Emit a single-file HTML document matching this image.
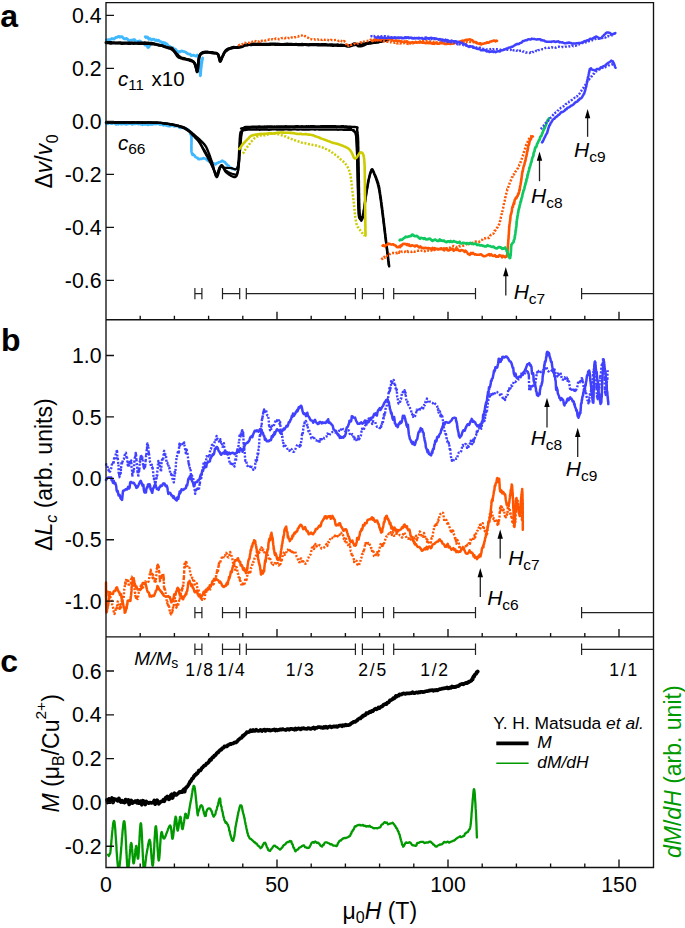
<!DOCTYPE html>
<html><head><meta charset="utf-8"><style>
html,body{margin:0;padding:0;background:#fff;}
svg{display:block;}
text{font-family:"Liberation Sans",sans-serif;}
</style></head><body>
<svg width="685" height="928" viewBox="0 0 685 928">
<defs><clipPath id="clipc"><rect x="106" y="637" width="548" height="230.5"/></clipPath></defs>
<path d="M106.5,40.0 L107.2,40.6 L108.2,39.6 L109.4,39.9 L110.7,39.2 L112.0,38.5 L112.9,38.9 L113.8,39.0 L114.9,38.3 L115.9,37.4 L117.0,37.4 L118.0,36.5 L118.9,36.3 L119.8,37.2 L121.0,36.6 L122.1,36.6 L123.0,37.9 L124.0,38.7 L125.0,39.0 L126.0,38.4 L126.9,38.7 L127.9,39.6 L129.0,40.6 L130.3,40.4 L131.3,40.1 L132.3,40.2 L133.5,39.6 L134.7,39.7 L135.9,41.3 L137.0,42.0 L138.1,41.3 L139.0,41.0 L140.2,41.1 L141.3,42.0 L142.2,43.1 L143.1,43.3 L144.0,43.5 L145.0,45.1 L146.1,44.5 L147.1,46.0 L148.0,47.6 L148.7,47.2 L149.4,46.1 L149.8,44.4 L150.0,44.2" fill="none" stroke="#40b8ff" stroke-width="2.8" stroke-linejoin="round" stroke-linecap="round" />
<path d="M145.2,36.6 L145.8,37.6 L146.7,36.9 L147.7,37.3 L148.8,39.2 L150.0,38.5 L151.0,39.3 L152.0,40.0 L153.1,39.1 L154.3,39.4 L155.4,40.6 L156.6,40.0 L157.6,40.8 L158.6,40.2 L159.7,41.4 L160.8,41.7 L161.8,43.0 L162.9,42.2 L164.0,44.0 L164.9,42.6 L165.7,44.2 L166.6,43.6 L167.5,44.7 L168.4,46.5 L169.3,46.2 L170.2,46.9 L171.0,48.5 L171.9,48.1 L172.9,47.8 L173.8,50.0 L174.8,49.0 L175.8,49.5 L176.7,50.9 L177.6,52.0 L178.5,52.4 L179.2,51.4 L180.4,51.8 L181.3,51.0 L182.2,51.1 L183.0,51.4 L184.1,51.6 L185.2,52.1 L186.5,52.8 L187.3,53.6 L188.3,53.8 L189.2,54.1 L190.3,54.2 L191.3,55.7 L192.3,55.5 L193.5,55.1 L194.9,55.7 L196.2,56.2 L197.3,55.1 L198.2,56.2 L198.5,56.7 L198.8,57.7 L198.9,58.0 L199.1,60.4 L199.2,60.3 L199.2,62.2 L199.3,62.9 L199.3,63.0 L199.4,64.9 L199.5,65.2 L199.6,66.3 L199.8,67.9 L199.9,69.4 L200.0,71.0 L200.1,72.9 L200.2,74.0 L200.3,75.4 L200.4,75.7 L200.5,75.3 L200.6,73.2 L200.7,72.6 L200.8,70.9 L200.9,69.9 L201.0,68.5 L201.2,67.7 L201.3,66.6 L201.5,64.4 L201.7,63.5 L201.9,62.5 L202.1,60.7 L202.3,59.5 L202.5,59.3 L202.6,58.0" fill="none" stroke="#40b8ff" stroke-width="2.8" stroke-linejoin="round" stroke-linecap="round" />
<path d="M106.0,42.4 L106.5,42.4 L107.2,42.5 L107.9,42.6 L108.7,42.5 L109.5,42.4 L110.5,42.4 L111.4,42.5 L112.4,42.6 L113.5,42.6 L114.6,42.7 L115.7,42.9 L116.9,42.8 L118.0,42.8 L119.2,42.7 L120.4,42.7 L121.6,42.8 L122.7,42.9 L123.9,43.0 L125.0,42.9 L126.1,42.8 L127.1,42.9 L128.1,42.9 L129.1,42.9 L130.0,42.8 L131.2,42.8 L132.3,42.9 L133.4,43.0 L134.5,43.0 L135.6,43.1 L136.7,43.1 L137.8,43.0 L138.8,43.0 L139.8,42.9 L140.8,43.0 L141.8,43.0 L142.8,43.0 L143.7,42.8 L144.6,42.6 L145.5,42.9 L146.3,42.9 L147.2,43.1 L148.0,43.0 L149.4,43.1 L150.7,43.1 L151.8,43.3 L152.9,43.5 L154.0,43.7 L155.0,44.0 L155.9,44.2 L156.9,44.5 L157.8,44.7 L158.8,45.0 L159.9,45.2 L160.9,45.3 L162.0,45.6 L163.0,46.0 L163.9,46.5 L164.9,46.8 L165.8,47.1 L166.7,47.3 L167.5,47.7 L168.7,48.1 L169.7,48.5 L170.7,48.7 L171.7,49.2 L172.5,49.9 L173.4,50.6 L174.1,51.3 L174.7,52.0 L175.3,53.0 L175.9,53.8 L176.5,54.8 L177.1,55.8 L177.7,56.4 L178.8,57.3 L179.8,57.6 L180.9,58.2 L182.1,58.5 L183.2,58.9 L184.4,59.0 L185.6,59.1 L186.8,59.3 L188.0,59.4 L189.0,59.6 L190.1,59.9 L191.1,60.3 L192.1,60.8 L193.0,61.4 L193.8,62.1 L194.5,63.0 L195.0,64.0 L195.4,65.1 L195.7,66.2 L196.0,67.4 L196.4,69.0 L196.7,70.8 L197.1,71.9 L197.4,71.7 L197.5,71.3 L197.6,70.6 L197.7,69.8 L197.8,68.8 L197.9,67.7 L198.0,66.5 L198.2,65.2 L198.3,63.9 L198.4,62.6 L198.5,61.4 L198.6,60.4 L198.8,59.5 L198.9,58.7 L199.3,56.9 L199.6,55.7 L200.0,54.8 L200.5,54.0 L201.1,53.4 L202.0,52.8 L203.0,52.3 L204.1,52.1 L205.5,51.9 L206.4,52.0 L207.4,52.0 L208.5,52.2 L209.7,52.3 L210.8,52.4 L211.8,52.4 L212.8,52.5 L214.0,52.9 L215.1,53.1 L216.2,53.2 L217.1,53.5 L217.9,54.2 L218.4,55.0 L218.7,56.1 L219.0,57.4 L219.3,58.8 L219.6,60.0 L219.8,61.0 L220.1,61.5 L220.6,61.2 L221.1,60.1 L221.7,58.6 L222.3,57.1 L222.7,56.2 L223.2,55.2 L223.6,54.2 L224.1,53.1 L224.7,52.0 L225.3,51.2 L225.9,50.4 L226.7,49.7 L227.6,49.0 L228.5,48.7 L229.5,48.3 L230.6,48.1 L231.8,47.6 L232.8,47.4 L233.8,47.2 L235.0,47.3 L236.2,47.3 L237.3,47.2 L238.5,47.0 L239.5,46.9 L240.5,46.7 L241.6,46.6 L242.4,46.3 L243.1,45.9 L244.0,45.3 L245.0,44.9 L246.4,44.8 L247.1,44.8 L247.8,44.6 L248.5,44.4 L249.2,44.2 L249.9,44.2 L250.6,44.2 L251.5,44.1 L252.5,44.0 L253.6,44.0 L254.9,44.0 L256.4,44.1 L258.1,44.0 L260.0,43.9 L260.7,43.9 L261.4,44.1 L262.2,44.3 L262.9,44.2 L263.7,44.2 L264.6,44.2 L265.4,44.1 L266.3,44.1 L267.2,44.1 L268.2,44.2 L269.1,44.1 L270.1,44.0 L271.1,43.9 L272.1,43.9 L273.1,43.8 L274.2,43.9 L275.2,43.9 L276.3,44.1 L277.3,44.0 L278.4,44.1 L279.5,44.1 L280.6,44.3 L281.7,44.3 L282.8,44.4 L283.9,44.3 L285.0,44.1 L286.1,44.1 L287.3,44.0 L288.4,44.1 L289.5,44.1 L290.6,44.2 L291.7,44.2 L292.7,44.3 L293.8,44.3 L294.9,44.3 L295.9,44.2 L297.0,44.3 L298.0,44.3 L299.0,44.4 L300.0,44.3 L301.0,44.3 L302.1,44.2 L303.2,44.4 L304.3,44.4 L305.4,44.4 L306.5,44.5 L307.6,44.6 L308.7,44.7 L309.9,44.5 L311.0,44.4 L312.2,44.5 L313.3,44.5 L314.5,44.4 L315.6,44.3 L316.7,44.4 L317.9,44.5 L319.0,44.5 L320.1,44.6 L321.2,44.5 L322.3,44.4 L323.4,44.3 L324.5,44.4 L325.6,44.4 L326.6,44.6 L327.7,44.8 L328.7,44.8 L329.7,44.7 L330.6,44.6 L331.6,44.7 L332.5,44.7 L333.4,44.8 L334.3,44.9 L335.1,44.9 L335.9,44.8 L336.7,44.8 L337.4,44.7 L338.1,44.9 L338.8,45.0 L339.9,45.1 L341.0,45.0 L342.8,45.1 L344.2,45.3 L345.3,45.6 L346.1,45.9 L346.8,46.1 L347.4,46.3 L348.0,46.4 L348.6,46.4 L349.3,46.3 L350.7,45.9 L351.8,45.3 L352.7,44.5 L353.6,43.9 L354.6,43.6 L355.6,43.9 L356.4,44.6 L357.3,45.4 L358.4,46.1 L359.8,46.2 L360.6,46.0 L361.4,46.0 L362.3,45.8 L363.3,45.4 L364.3,44.9 L365.3,44.4 L366.3,43.9 L367.4,43.4 L368.4,42.8 L369.4,42.6 L370.4,42.3 L371.5,42.3 L372.5,42.1 L373.6,41.9 L374.7,41.8 L375.8,41.6 L376.9,41.4 L378.0,41.3 L379.0,41.1 L380.0,41.0 L380.9,40.9 L382.1,40.6 L383.2,40.3 L384.4,39.9 L385.5,39.8 L386.5,39.5 L387.4,39.2 L388.1,39.0 L388.7,38.9" fill="none" stroke="#000" stroke-width="2.8" stroke-linejoin="round" stroke-linecap="round" />
<path d="M106.0,43.0 L106.5,43.0 L107.2,43.0 L107.9,43.0 L108.7,43.0 L109.5,43.2 L110.5,43.4 L111.4,43.5 L112.4,43.3 L113.5,43.3 L114.6,43.2 L115.7,43.2 L116.9,43.1 L118.0,43.1 L119.2,43.3 L120.4,43.5 L121.6,43.6 L122.7,43.6 L123.9,43.5 L125.0,43.4 L126.1,43.4 L127.1,43.5 L128.1,43.6 L129.1,43.7 L130.0,43.6 L131.2,43.5 L132.3,43.5 L133.4,43.6 L134.5,43.5 L135.6,43.5 L136.7,43.4 L137.7,43.6 L138.7,43.6 L139.8,43.8 L140.7,43.6 L141.7,43.6 L142.7,43.7 L143.6,43.8 L144.5,43.8 L145.4,43.8 L146.3,43.8 L147.2,43.8 L148.0,43.8 L149.2,43.8 L150.4,43.9 L151.5,44.1 L152.6,44.2 L153.6,44.3 L154.6,44.4 L155.6,44.6 L156.5,44.8 L157.4,45.0 L158.3,45.1 L159.2,45.4 L160.0,45.5 L161.2,45.8 L162.4,45.8 L163.5,46.2 L164.5,46.5 L165.5,46.8 L166.4,47.0 L167.2,47.3 L168.0,47.5 L169.3,47.8 L170.2,47.8 L171.1,47.8 L172.0,48.1 L172.7,48.9 L173.4,49.9 L174.1,50.8 L174.8,51.7 L175.6,52.5 L176.3,53.4 L177.1,54.1 L177.9,55.0 L178.7,55.8 L179.6,56.7 L180.7,57.4 L181.6,57.8 L182.6,58.0 L183.7,58.3 L184.8,58.6 L185.9,59.2 L187.0,59.6 L188.0,59.9 L189.1,60.3 L190.2,60.8 L191.2,61.0 L192.2,61.3 L193.1,61.8 L193.8,62.3 L194.5,63.3 L195.0,64.6 L195.4,65.9 L195.7,67.0 L196.0,67.7 L196.5,69.5 L197.0,71.1 L197.4,71.0 L197.5,70.5 L197.6,69.6 L197.8,68.8 L197.9,67.7 L198.0,66.6 L198.1,65.1 L198.2,63.7 L198.3,62.4 L198.5,61.4 L198.6,60.3 L198.8,59.3 L198.9,58.4 L199.3,57.0 L199.6,56.1 L200.0,55.2 L200.5,54.6 L201.1,54.0 L202.0,53.4 L203.0,53.1 L204.1,52.7 L205.5,52.5 L206.4,52.4 L207.4,52.3 L208.5,52.4 L209.7,52.4 L210.8,52.7 L211.8,53.0 L212.8,53.2 L214.0,53.1 L215.1,53.1 L216.2,53.3 L217.1,53.7 L217.9,54.3 L218.4,55.3 L218.8,56.5 L219.2,57.7 L219.5,59.0 L219.8,60.0 L220.1,60.7 L220.6,60.3 L221.1,59.4 L221.7,57.9 L222.3,56.7 L222.8,55.8 L223.3,54.8 L223.9,53.6 L224.5,52.5 L225.2,51.7 L225.9,51.1 L226.7,50.6 L227.6,49.9 L228.5,49.3 L229.5,48.8 L230.6,48.5 L231.8,48.2 L232.8,47.9 L233.8,47.8 L235.0,47.7 L236.2,47.6 L237.3,47.6 L238.5,47.6 L239.5,47.4 L240.5,47.3 L241.6,47.0 L242.4,46.8 L243.1,46.2 L244.0,45.8 L245.0,45.4 L246.4,45.3 L247.1,45.2 L247.8,45.1 L248.5,44.8 L249.2,44.7 L249.9,44.8 L250.6,44.9 L251.5,44.9 L252.5,44.8 L253.6,44.6 L254.9,44.6 L256.4,44.5 L258.1,44.7 L260.0,44.5 L260.7,44.7 L261.4,44.6 L262.2,44.8 L262.9,44.8 L263.7,44.8 L264.6,44.6 L265.4,44.6 L266.3,44.5 L267.2,44.7 L268.2,44.7 L269.1,44.7 L270.1,44.6 L271.1,44.5 L272.1,44.4 L273.1,44.4 L274.2,44.5 L275.2,44.7 L276.3,44.7 L277.3,44.6 L278.4,44.5 L279.5,44.6 L280.6,44.7 L281.7,44.6 L282.8,44.6 L283.9,44.7 L285.0,44.7 L286.1,44.7 L287.3,44.6 L288.4,44.7 L289.5,44.7 L290.6,44.7 L291.7,44.6 L292.7,44.8 L293.8,44.7 L294.9,44.7 L295.9,44.6 L297.0,44.8 L298.0,44.9 L299.0,44.9 L300.0,44.9 L301.0,44.9 L302.1,44.9 L303.2,44.9 L304.3,44.8 L305.4,44.8 L306.5,44.9 L307.6,44.9 L308.7,45.1 L309.9,44.9 L311.0,45.0 L312.2,44.9 L313.3,44.9 L314.5,44.9 L315.6,44.9 L316.7,45.0 L317.9,45.2 L319.0,45.3 L320.1,45.2 L321.2,45.1 L322.3,45.0 L323.4,45.2 L324.5,45.3 L325.6,45.3 L326.6,45.2 L327.7,45.1 L328.7,45.2 L329.7,45.3 L330.6,45.5 L331.6,45.5 L332.5,45.6 L333.4,45.6 L334.3,45.5 L335.1,45.5 L335.9,45.5 L336.7,45.5 L337.4,45.7 L338.1,45.5 L338.8,45.6 L339.9,45.6 L341.0,45.7 L342.8,45.6 L344.2,45.5 L345.3,45.5 L346.1,45.5 L346.8,45.6 L347.4,45.5 L348.0,45.4 L348.6,45.3 L349.3,45.4 L350.7,45.4 L351.8,45.5 L352.7,45.2 L353.6,45.2 L354.6,45.0 L355.6,44.8 L356.4,44.5 L357.3,44.3 L358.4,44.2 L359.8,44.0 L360.6,44.0 L361.6,43.8 L362.6,43.7 L363.7,43.5 L364.8,43.4 L365.9,43.4 L367.1,43.6 L368.2,43.7 L369.3,43.5 L370.4,43.4 L371.5,43.2 L372.5,43.0 L373.6,42.7 L374.7,42.7 L375.8,42.6 L376.9,42.5 L378.0,42.4 L379.0,42.1 L380.0,41.8 L380.9,41.6 L382.1,41.5 L383.2,41.1 L384.4,40.8 L385.5,40.4 L386.5,40.2 L387.4,39.8 L388.1,39.6 L388.7,39.3" fill="none" stroke="#000" stroke-width="2.6" stroke-linejoin="round" stroke-linecap="round" />
<path d="M238.3,45.3 L238.9,45.2 L239.7,44.8 L240.7,44.3 L241.9,44.6 L243.3,43.1 L245.0,42.8 L245.8,43.1 L246.6,43.2 L247.5,42.8 L248.4,42.8 L249.4,42.9 L250.4,42.0 L251.4,42.1 L252.5,41.7 L253.5,41.6 L254.6,42.0 L255.7,41.1 L256.8,41.9 L257.9,41.9 L259.0,41.4 L260.0,40.8 L261.0,41.2 L262.1,40.7 L263.1,40.3 L264.2,40.0 L265.2,40.6 L266.3,40.0 L267.3,39.7 L268.4,39.7 L269.4,39.5 L270.5,39.9 L271.6,39.5 L272.6,39.1 L273.7,39.6 L274.7,39.3 L275.8,38.5 L276.9,38.9 L278.0,38.9 L279.1,39.4 L280.2,39.1 L281.4,38.3 L282.5,38.0 L283.7,37.8 L284.8,38.4 L285.9,37.7 L287.0,38.2 L288.0,37.9 L289.0,38.2 L289.9,38.0 L290.7,38.2 L291.5,37.5 L293.1,38.0 L294.4,37.3 L295.5,37.2 L296.4,36.8 L297.2,36.4 L298.0,36.6 L299.2,35.9 L300.2,35.6 L301.1,35.6 L302.0,35.3 L303.0,34.9 L304.0,35.3 L305.0,36.1 L306.0,36.7 L306.7,37.2 L307.3,37.4 L308.2,37.8 L310.0,39.1 L310.7,39.1 L311.5,39.3 L312.3,39.7 L313.3,39.6 L314.3,39.3 L315.3,39.6 L316.4,39.3 L317.5,39.2 L318.7,39.8 L319.8,39.2 L321.0,39.6 L322.2,39.9 L323.4,39.2 L324.6,39.8 L325.7,39.9 L326.7,39.6 L327.7,39.8 L328.8,40.3 L329.9,40.6 L331.0,39.8 L332.2,40.2 L333.3,40.2 L334.5,40.1 L335.7,39.9 L336.8,39.8 L337.9,40.5 L339.0,41.1 L340.0,40.5 L340.9,40.6 L341.8,41.3 L342.6,41.5 L343.4,41.6 L344.0,40.9 L345.7,42.6 L346.2,44.2 L346.2,45.4 L346.7,45.8 L347.6,45.0 L348.5,45.8 L349.6,44.7 L350.7,44.9 L352.0,44.9 L352.9,44.5 L353.9,43.9 L354.9,43.9 L355.9,44.5 L357.1,43.6 L358.4,43.5 L359.8,43.0 L360.6,42.3 L361.5,42.7 L362.4,41.8 L363.3,41.6 L364.2,41.6 L365.2,41.2 L366.3,41.0 L367.3,41.0 L368.4,40.8 L369.5,40.6 L370.6,39.6 L371.8,39.7 L373.0,39.4 L373.9,39.6 L374.8,39.5 L375.8,40.2 L376.8,40.0 L377.8,39.9 L378.9,40.6 L379.9,40.0 L381.0,40.5 L382.0,40.4 L383.1,41.2 L384.2,41.3 L385.3,41.6 L386.3,41.4 L387.4,41.9 L388.4,41.9 L389.4,42.5 L390.4,42.4 L391.4,42.0 L392.5,42.3 L393.6,42.4 L394.7,42.9 L395.8,42.5 L396.8,43.3 L397.8,43.3 L398.8,42.9 L399.9,43.6 L400.9,43.2 L401.9,43.0 L402.9,43.5 L403.9,43.1 L404.9,44.0 L406.0,43.6 L407.0,43.6 L408.0,44.0 L409.0,43.2 L410.0,43.6 L410.9,42.8 L411.9,42.7 L412.9,43.4 L413.9,42.8 L414.9,42.2 L415.9,41.9 L416.9,42.6 L417.9,42.2 L418.9,42.2 L419.9,41.3 L420.9,41.5 L422.0,40.8 L423.0,40.7 L424.0,41.0 L424.9,41.3 L425.9,41.1 L426.9,41.1 L427.9,41.0 L428.8,41.6 L429.8,41.5 L430.8,41.7 L431.8,41.6 L432.8,42.0 L433.8,41.8 L434.8,42.0 L435.8,42.2 L436.9,42.5 L437.9,42.0 L438.9,41.6 L440.0,41.5 L441.0,42.0 L442.0,41.9 L443.0,42.9 L444.0,42.5 L445.1,42.8 L446.1,42.0 L447.2,42.4 L448.3,42.9 L449.3,42.5 L450.4,42.4 L451.5,42.5 L452.5,42.2 L453.5,42.2 L454.5,42.3 L455.5,42.6 L456.4,42.9 L457.3,43.4 L458.2,42.6 L459.0,42.8 L460.3,42.6 L461.5,42.5 L462.5,42.3 L463.5,42.2 L464.5,42.2 L465.4,41.8 L466.3,42.6 L467.1,41.9 L468.0,42.3 L469.0,41.9 L470.0,42.1 L471.0,41.9 L472.1,42.6 L473.2,42.1 L474.4,43.0 L475.5,42.7 L476.7,43.3 L477.8,43.5 L478.9,43.1 L479.8,43.2 L480.7,43.1 L481.4,43.6 L482.0,43.7" fill="none" stroke="#ff5500" stroke-width="2.4" stroke-linejoin="round" stroke-dasharray="2 1.6" stroke-linecap="butt" />
<path d="M372.0,40.9 L372.6,41.1 L373.5,40.3 L374.5,39.8 L375.6,40.4 L376.8,39.6 L378.0,40.3 L379.0,39.6 L380.0,40.1 L381.1,39.6 L382.0,38.7 L382.8,38.5 L383.7,39.1 L384.8,38.6 L386.0,38.4 L386.8,38.8 L387.7,39.0 L388.5,39.0 L389.4,39.3 L390.4,39.3 L391.4,39.8 L392.5,40.2 L393.7,40.8 L395.1,40.8 L396.6,40.5 L397.4,41.3 L398.2,41.0 L399.0,40.8 L399.9,41.2 L400.9,41.1 L401.8,41.7 L402.8,41.8 L403.8,41.9 L404.8,41.4 L405.8,42.0 L406.9,41.2 L408.0,42.1 L409.0,42.6 L410.1,42.7 L411.2,42.6 L412.3,42.1 L413.4,42.5 L414.4,42.8 L415.5,41.9 L416.6,42.6 L417.6,42.5 L418.6,42.2 L419.6,42.7 L420.6,42.2 L421.7,42.4 L422.7,42.8 L423.8,42.3 L424.9,43.0 L426.0,43.2 L427.0,42.6 L428.1,43.2 L429.2,42.4 L430.2,43.2 L431.3,42.9 L432.3,43.8 L433.4,43.3 L434.4,43.8 L435.4,42.7 L436.4,42.9 L437.3,43.7 L438.2,43.8 L439.1,43.7 L440.0,43.1 L441.2,43.1 L442.4,43.3 L443.5,43.2 L444.6,44.0 L445.6,43.9 L446.6,44.0 L447.6,43.8 L448.6,43.7 L449.5,43.1 L450.4,44.0 L451.3,43.3 L452.2,43.8 L453.2,43.6 L454.1,43.3 L455.0,42.8 L456.1,42.6 L457.2,42.9 L458.3,42.0 L459.3,42.1 L460.4,41.4 L461.5,41.0 L462.5,40.6 L463.5,40.7 L464.5,40.4 L465.5,40.0 L466.4,39.7 L467.2,39.7 L468.0,39.7 L469.3,39.4 L470.5,39.5 L471.5,40.1 L472.4,40.3 L473.2,41.3 L474.1,42.0 L475.0,42.1 L476.0,42.1 L477.0,42.9 L478.0,43.4 L479.0,43.7 L480.0,43.9 L481.0,44.5 L481.9,44.0 L482.9,43.8 L483.8,43.7 L484.8,43.2 L485.8,43.1 L486.9,42.4 L488.0,42.6 L489.0,42.6 L490.0,41.5 L491.2,41.5 L492.4,41.1 L493.5,40.6 L494.6,40.6 L495.6,41.4 L496.4,40.6 L497.0,40.9" fill="none" stroke="#ff5500" stroke-width="2.6" stroke-linejoin="round" stroke-linecap="round" />
<path d="M375.6,37.4 L376.1,37.5 L376.8,37.7 L377.4,37.6 L378.2,37.6 L379.0,37.3 L379.9,38.1 L380.8,37.4 L381.7,37.7 L382.7,37.6 L383.8,38.0 L384.8,37.5 L385.9,38.3 L387.1,37.9 L388.2,37.8 L389.4,37.7 L390.5,37.6 L391.7,38.1 L392.9,37.8 L394.1,37.6 L395.3,38.2 L396.5,37.8 L397.7,37.8 L398.9,38.1 L400.0,37.7 L400.9,37.5 L401.9,37.9 L402.8,38.0 L403.8,38.3 L404.9,37.6 L405.9,38.1 L406.9,37.8 L408.0,37.6 L409.1,38.0 L410.2,37.6 L411.2,37.9 L412.3,38.3 L413.4,38.5 L414.5,38.0 L415.6,38.2 L416.7,38.1 L417.8,38.2 L418.8,38.5 L419.9,38.2 L420.9,38.2 L422.0,38.1 L423.0,38.8 L423.9,38.7 L424.9,38.8 L425.8,38.9 L426.7,38.0 L427.6,38.4 L428.4,38.7 L429.2,38.6 L430.0,38.0 L431.5,37.8 L432.9,38.4 L434.1,38.2 L435.3,38.6 L436.4,38.6 L437.3,39.1 L438.3,39.4 L439.2,39.5 L440.0,39.0 L440.9,39.5 L441.7,39.7 L442.6,39.5 L443.6,40.3 L444.6,40.5 L445.6,39.6 L446.6,40.5 L447.6,40.1 L448.6,40.7 L449.6,41.4 L450.6,41.3 L451.5,40.6 L452.5,41.0 L453.6,41.2 L454.6,41.2 L455.7,41.2 L456.8,41.6 L458.0,42.1 L459.2,42.0 L460.1,42.8 L461.0,43.0 L461.9,42.7 L462.9,43.7 L463.8,44.2 L464.9,44.5 L465.9,44.3 L466.9,45.9 L468.0,46.2 L469.1,46.9 L470.1,46.1 L471.2,46.5 L472.2,46.4 L473.2,47.8 L474.2,47.8 L475.2,48.0 L476.2,48.3 L477.1,48.8 L478.0,49.0 L478.8,48.8 L479.6,49.1 L481.0,50.2 L482.3,50.0 L483.4,50.3 L484.5,50.0 L485.5,50.4 L486.5,51.4 L487.4,51.4 L488.3,51.1 L489.3,51.9 L490.3,51.7 L491.3,51.7 L492.4,51.2 L493.4,52.0 L494.5,51.6 L495.6,52.3 L496.6,51.7 L497.7,51.3 L498.7,51.2 L499.8,51.5 L500.9,50.5 L501.9,50.2 L503.0,50.2 L504.0,49.7 L504.9,49.3 L505.8,49.0 L506.7,48.4 L507.7,48.1 L508.6,47.8 L509.5,47.5 L510.5,47.5 L511.5,46.8 L512.5,46.7 L513.6,45.9 L514.7,45.4 L515.5,44.6 L516.4,44.5 L517.3,43.8 L518.2,44.2 L519.1,43.8 L520.0,43.1 L521.0,42.8 L521.9,42.4 L522.9,40.9 L523.9,41.1 L524.9,40.4 L525.9,40.3 L526.8,40.2 L527.8,39.4 L528.8,39.2 L529.7,39.4 L530.7,39.5 L531.7,38.6 L532.7,38.9 L533.8,38.9 L534.8,39.1 L535.9,39.4 L536.9,39.5 L538.0,39.2 L539.0,39.3 L540.1,39.2 L541.1,40.3 L542.1,40.1 L543.1,40.5 L544.1,40.5 L545.0,41.3 L545.9,41.5 L546.8,41.7 L548.0,41.7 L549.2,41.7 L550.2,41.7 L551.3,41.9 L552.3,41.4 L553.2,41.6 L554.2,41.3 L555.2,41.9 L556.3,41.8 L557.3,41.4 L558.5,41.3 L559.5,42.4 L560.4,42.1 L561.5,42.4 L562.5,42.3 L563.6,42.8 L564.7,43.3 L565.7,43.3 L566.8,42.8 L567.9,43.0 L569.0,42.5 L570.0,42.9 L571.1,43.0 L572.0,43.6 L573.0,43.5 L574.2,43.4 L575.4,43.4 L576.6,43.2 L577.7,43.2 L578.9,42.9 L580.0,42.9 L581.0,42.8 L582.0,42.6 L583.0,42.4 L583.9,41.4 L584.7,41.1 L586.2,41.2 L587.2,40.2 L588.1,40.4 L589.0,39.9 L590.0,38.7 L591.0,39.0 L592.2,38.8 L593.3,38.0 L594.4,37.4 L595.5,37.0 L596.4,36.4 L597.8,37.4 L598.9,38.0 L600.0,38.4 L600.8,38.1 L601.6,37.8 L602.4,36.6 L603.2,36.0 L604.0,35.0 L605.0,34.1 L606.1,33.0 L607.1,32.4 L608.1,32.4 L609.1,32.8 L610.1,32.9 L611.1,34.3 L612.0,34.3 L613.3,34.1 L614.5,33.5 L615.4,33.0" fill="none" stroke="#4040ff" stroke-width="2.5" stroke-linejoin="round" stroke-linecap="round" />
<path d="M370.4,36.1 L370.9,36.1 L371.6,36.3 L372.2,36.0 L373.0,36.3 L373.8,36.0 L374.6,36.7 L375.5,36.5 L376.4,36.1 L377.4,36.4 L378.4,36.5 L379.4,36.5 L380.5,37.0 L381.6,36.2 L382.8,36.4 L383.9,36.3 L385.1,36.3 L386.2,36.9 L387.4,36.6 L388.6,36.7 L389.8,37.1 L391.0,37.1 L392.2,37.5 L393.3,37.2 L394.5,37.2 L395.7,37.6 L396.8,37.7 L397.9,37.4 L399.0,37.6 L400.0,37.9 L401.0,38.1 L402.0,38.2 L403.0,37.4 L404.0,37.5 L405.0,37.3 L406.0,37.2 L407.0,37.9 L408.0,37.2 L409.0,38.1 L410.0,37.8 L411.0,38.0 L412.0,37.8 L413.0,38.2 L414.0,37.7 L415.0,38.1 L416.0,38.1 L417.0,38.0 L418.0,38.0 L419.0,37.7 L420.0,37.6 L421.0,38.4 L422.0,38.2 L423.0,37.9 L424.0,38.1 L425.0,37.7 L426.0,37.5 L427.0,38.3 L428.0,38.1 L429.0,38.8 L430.0,38.4 L431.0,39.2 L432.1,38.4 L433.1,38.4 L434.1,38.6 L435.2,39.1 L436.2,39.3 L437.2,39.5 L438.3,39.2 L439.3,39.8 L440.4,39.8 L441.4,40.3 L442.4,41.0 L443.5,40.3 L444.5,41.1 L445.5,41.4 L446.6,41.2 L447.6,42.0 L448.6,41.4 L449.6,41.7 L450.6,42.3 L451.6,42.1 L452.6,43.2 L453.5,42.7 L454.5,43.1 L455.5,43.8 L456.4,43.1 L457.4,44.3 L458.3,43.5 L459.2,44.2 L460.3,44.4 L461.5,44.8 L462.6,44.3 L463.7,45.3 L464.8,45.3 L465.9,45.6 L466.9,45.5 L468.0,45.9 L469.1,46.3 L470.1,46.3 L471.1,46.3 L472.1,46.7 L473.2,46.6 L474.1,47.2 L475.1,47.0 L476.1,47.3 L477.1,48.1 L478.0,48.2 L479.0,48.0 L479.9,47.6 L480.8,48.2 L481.7,48.2 L482.6,48.6 L483.8,48.9 L484.9,49.1 L486.0,49.4 L487.1,49.4 L488.2,49.5 L489.2,49.4 L490.2,49.3 L491.2,48.9 L492.2,49.5 L493.1,49.1 L494.1,49.5 L495.1,49.0 L496.0,49.3 L497.0,49.3 L498.0,49.4 L499.0,49.1 L500.0,49.5 L501.0,49.9 L502.1,49.6 L503.2,49.8 L504.2,49.6 L505.3,49.6 L506.4,49.5 L507.5,49.7 L508.5,49.9 L509.6,49.6 L510.7,49.7 L511.7,50.7 L512.7,49.8 L513.8,50.4 L514.8,50.4 L515.7,50.0 L516.7,50.7 L517.6,50.5 L518.7,51.4 L519.8,50.8 L520.9,50.7 L521.9,50.7 L522.8,51.6 L523.8,51.5 L524.7,51.9 L525.6,52.6 L526.6,52.5 L527.6,52.7 L528.6,52.8 L529.6,53.0 L530.7,52.3 L531.6,52.8 L532.5,51.9 L533.4,52.1 L534.3,51.6 L535.3,51.8 L536.2,50.7 L537.1,51.3 L538.1,50.1 L539.1,50.0 L540.1,49.7 L541.1,49.9 L542.2,49.2 L543.3,49.1 L544.4,48.5 L545.6,47.8 L546.8,47.4 L547.7,47.5 L548.6,47.9 L549.5,47.8 L550.5,47.4 L551.5,47.2 L552.5,47.5 L553.5,47.7 L554.6,47.2 L555.7,47.7 L556.7,47.1 L557.8,46.8 L558.9,46.7 L560.0,47.0 L561.1,47.3 L562.1,46.9 L563.2,47.0 L564.2,47.1 L565.3,46.6 L566.3,46.8 L567.3,46.9 L568.3,46.4 L569.2,46.3 L570.1,46.6 L571.2,46.5 L572.3,45.7 L573.4,46.2 L574.5,45.8 L575.6,45.7 L576.6,45.3 L577.6,44.7 L578.6,44.6 L579.6,44.0 L580.6,44.2 L581.6,43.0 L582.5,43.0 L583.4,42.7 L584.3,43.0 L585.2,42.4 L586.0,42.4 L586.9,42.1 L587.7,41.9 L589.0,41.2 L590.2,40.9 L591.3,40.6 L592.4,40.2 L593.4,40.5 L594.4,39.8 L595.3,39.0 L596.3,38.9 L597.3,38.6 L598.3,38.8 L599.3,38.5 L600.3,38.1 L601.3,38.5 L602.4,37.9 L603.5,37.2 L604.5,37.1 L605.6,37.6 L606.6,36.4 L607.6,36.0 L608.6,36.2 L609.5,36.3 L610.3,36.4 L611.0,35.4 L612.4,35.2 L613.5,33.9 L614.3,33.6 L614.9,33.5 L615.4,32.8" fill="none" stroke="#4040ff" stroke-width="2.4" stroke-linejoin="round" stroke-dasharray="2 1.6" stroke-linecap="butt" />
<path d="M106.0,123.0 L106.5,123.6 L107.1,122.9 L107.8,123.9 L108.5,123.1 L109.3,122.8 L110.2,123.1 L111.1,123.6 L112.0,123.6 L113.0,123.3 L114.0,122.9 L115.0,123.5 L116.1,124.4 L117.2,123.9 L118.4,124.3 L119.5,122.8 L120.7,124.1 L121.8,124.1 L123.0,123.8 L124.2,124.0 L125.4,124.1 L126.5,124.5 L127.7,123.2 L128.9,123.9 L130.0,123.7 L130.9,123.3 L131.9,124.3 L132.8,124.3 L133.9,123.1 L134.9,123.9 L135.9,123.5 L137.0,123.6 L138.1,124.1 L139.2,123.2 L140.3,124.3 L141.4,124.0 L142.5,124.8 L143.6,123.6 L144.8,124.4 L145.9,124.3 L147.0,124.2 L148.1,124.8 L149.2,123.5 L150.2,124.5 L151.3,124.2 L152.3,124.5 L153.3,124.3 L154.2,123.8 L155.2,123.8 L156.1,124.1 L157.0,123.6 L157.8,123.5 L158.6,124.0 L159.3,124.2 L160.0,124.7 L161.8,124.1 L163.2,125.3 L164.3,124.5 L165.2,125.2 L165.9,124.1 L166.6,125.5 L167.2,125.2 L168.0,126.0 L168.9,126.2 L170.0,126.1 L170.9,124.9 L171.8,125.4 L172.9,125.3 L173.9,126.4 L175.0,126.0 L176.2,126.1 L177.3,126.0 L178.4,126.2 L179.5,127.7 L180.6,128.0 L181.7,126.9 L182.7,127.8 L183.6,127.6 L184.4,128.2 L185.2,128.4 L186.4,129.2 L187.4,129.0 L188.3,129.7 L189.0,131.0 L189.6,131.3 L190.1,132.4 L190.6,134.4 L191.0,134.3 L191.2,135.1 L191.3,137.0 L191.4,136.7 L191.5,138.2 L191.5,140.0 L191.5,140.8 L191.5,141.3 L191.5,142.2 L191.5,143.8 L191.4,144.9 L191.4,147.1 L191.4,148.2 L191.4,149.2 L191.5,150.3 L191.5,151.4 L191.6,152.0 L192.0,153.6 L192.5,154.8 L193.0,154.0 L193.7,154.9 L194.5,155.5 L195.3,156.8 L196.3,157.4 L197.4,157.8 L198.5,159.2 L199.5,159.1 L200.4,158.8 L201.7,158.9 L202.7,158.3 L203.9,158.2 L204.7,158.5 L205.7,158.8 L206.7,159.5 L207.7,160.5 L208.7,161.3 L209.7,161.2 L210.7,162.0 L211.6,161.8 L212.6,163.3 L213.6,163.8 L214.5,163.5 L215.5,164.4 L216.5,163.5 L217.5,163.0 L218.5,162.5 L219.5,162.0 L220.5,161.7 L221.4,161.4 L222.4,160.7 L223.3,161.5 L224.1,161.7 L225.0,162.2 L226.0,163.7 L226.8,164.3 L227.7,165.5 L228.6,165.6 L229.5,167.2 L230.4,167.8 L231.2,167.8 L231.9,169.0 L233.4,168.8 L234.6,169.5 L235.4,169.1" fill="none" stroke="#40b8ff" stroke-width="2.7" stroke-linejoin="round" stroke-linecap="round" />
<path d="M106.0,122.4 L106.5,122.4 L107.1,122.4 L107.8,122.4 L108.5,122.4 L109.3,122.5 L110.1,122.4 L111.0,122.4 L111.9,122.3 L112.9,122.4 L113.8,122.4 L114.9,122.5 L115.9,122.5 L117.0,122.5 L118.1,122.4 L119.3,122.5 L120.4,122.4 L121.6,122.4 L122.7,122.4 L123.9,122.5 L125.1,122.5 L126.3,122.4 L127.4,122.4 L128.6,122.5 L129.8,122.6 L130.9,122.6 L132.0,122.5 L133.1,122.3 L134.2,122.3 L135.3,122.4 L136.3,122.4 L137.3,122.5 L138.2,122.5 L139.1,122.5 L140.0,122.5 L141.2,122.5 L142.4,122.5 L143.6,122.5 L144.7,122.5 L145.8,122.6 L146.8,122.5 L147.9,122.4 L148.9,122.4 L149.9,122.5 L150.9,122.5 L151.8,122.6 L152.8,122.6 L153.7,122.7 L154.7,122.6 L155.6,122.7 L156.5,122.6 L157.4,122.7 L158.3,122.7 L159.3,122.8 L160.2,122.8 L161.1,122.9 L162.0,123.0 L163.0,123.3 L164.1,123.4 L165.1,123.5 L166.2,123.6 L167.2,123.7 L168.3,123.9 L169.4,124.0 L170.4,124.2 L171.5,124.4 L172.6,124.5 L173.6,124.8 L174.6,125.1 L175.7,125.4 L176.7,125.6 L177.7,125.8 L178.6,126.0 L179.6,126.2 L180.5,126.5 L181.4,126.8 L182.3,127.1 L183.2,127.4 L184.0,127.7 L185.1,128.2 L186.2,128.8 L187.2,129.4 L188.1,130.1 L189.1,130.7 L190.0,131.3 L190.8,132.0 L191.7,132.7 L192.5,133.4 L193.3,133.9 L194.0,134.6 L194.8,135.3 L195.5,136.0 L196.2,136.6 L196.9,137.2 L197.8,138.0 L198.7,138.8 L199.6,139.5 L200.4,140.3 L201.2,141.1 L201.9,141.9 L202.6,142.5 L203.3,143.1 L203.9,143.9 L204.5,144.6 L205.0,145.3 L205.7,146.3 L206.3,147.2 L206.8,148.2 L207.2,149.2 L207.6,150.2 L208.0,151.2 L208.5,152.4 L208.8,153.2 L209.1,154.1 L209.5,155.0 L209.8,156.0 L210.2,156.9 L210.5,157.9 L210.9,158.9 L211.2,159.9 L211.6,160.9 L211.9,161.9 L212.3,163.0 L212.6,164.1 L212.9,165.1 L213.2,166.2 L213.5,167.4 L213.8,168.8 L214.1,170.1 L214.5,171.4 L214.8,172.6 L215.1,173.7 L215.4,174.8 L215.7,175.6 L216.0,176.3 L216.4,176.7 L216.7,177.1 L217.1,176.9 L217.4,176.3 L217.8,175.3 L218.2,174.1 L218.6,172.8 L219.0,171.4 L219.4,170.0 L219.8,168.6 L220.2,167.3 L220.6,166.2 L221.0,165.5 L221.4,165.1 L222.0,165.2 L222.5,165.8 L223.0,166.7 L223.5,167.8 L224.0,169.0 L224.6,170.2 L225.3,171.3 L226.0,172.2 L226.8,172.9 L227.7,173.6 L228.6,174.2 L229.7,174.9 L230.7,175.6 L231.7,176.1 L232.6,176.5 L233.5,176.8 L234.2,177.0 L235.2,177.0 L236.0,176.5 L236.6,175.7 L237.2,174.3 L237.4,173.2 L237.7,172.1 L237.8,171.5 L238.0,170.8 L238.1,170.1 L238.2,169.2 L238.3,168.3 L238.4,167.3 L238.5,166.3 L238.6,165.2 L238.8,164.1 L238.9,163.0 L239.0,161.9 L239.1,160.8 L239.2,159.6 L239.3,158.5 L239.3,157.3 L239.4,156.2 L239.5,155.1 L239.6,154.1 L239.7,153.0 L239.8,152.0 L239.9,151.0 L240.0,150.2 L240.1,149.0 L240.2,147.7 L240.3,146.5 L240.4,145.3 L240.5,144.1 L240.6,142.9 L240.7,141.7 L240.8,140.6 L240.9,139.6 L241.0,138.5 L241.1,137.4 L241.2,136.4 L241.3,135.4 L241.4,134.7 L241.5,134.0 L241.7,133.2 L241.8,132.6 L242.1,131.6 L242.4,130.5 L243.0,129.5 L243.8,129.0 L244.7,128.6 L244.9,128.1 L244.5,127.6 L244.5,127.2 L246.0,127.0 L247.4,127.0 L248.7,126.9 L250.0,126.9 L250.6,126.9 L251.2,126.9 L251.8,126.8 L252.5,126.7 L253.2,126.6 L253.9,126.6 L254.7,126.6 L255.5,126.7 L256.3,126.7 L257.1,126.7 L258.0,126.6 L258.9,126.5 L259.8,126.5 L260.7,126.6 L261.7,126.7 L262.6,126.6 L263.6,126.6 L264.6,126.5 L265.7,126.6 L266.7,126.5 L267.8,126.5 L268.8,126.5 L269.9,126.4 L271.0,126.5 L272.1,126.5 L273.2,126.6 L274.3,126.5 L275.5,126.6 L276.6,126.5 L277.7,126.5 L278.9,126.5 L280.0,126.5 L281.2,126.5 L282.3,126.4 L283.5,126.4 L284.6,126.4 L285.8,126.3 L286.9,126.4 L288.1,126.4 L289.2,126.4 L290.3,126.4 L291.4,126.5 L292.5,126.5 L293.6,126.5 L294.7,126.4 L295.8,126.3 L296.9,126.3 L297.9,126.3 L299.0,126.4 L300.0,126.4 L301.0,126.4 L302.0,126.3 L303.1,126.4 L304.1,126.4 L305.2,126.4 L306.3,126.3 L307.4,126.4 L308.5,126.3 L309.6,126.4 L310.7,126.3 L311.8,126.2 L313.0,126.2 L314.1,126.3 L315.3,126.4 L316.4,126.4 L317.6,126.4 L318.7,126.4 L319.9,126.4 L321.1,126.3 L322.2,126.3 L323.4,126.3 L324.5,126.3 L325.7,126.3 L326.8,126.3 L327.9,126.3 L329.1,126.2 L330.2,126.2 L331.3,126.2 L332.4,126.2 L333.5,126.3 L334.5,126.3 L335.6,126.3 L336.6,126.4 L337.7,126.4 L338.7,126.4 L339.7,126.4 L340.6,126.4 L341.6,126.3 L342.5,126.3 L343.4,126.3 L344.3,126.4 L345.1,126.5 L346.0,126.5 L346.8,126.5 L347.5,126.6 L348.3,126.6 L349.0,126.6 L349.7,126.6 L350.3,126.7 L350.9,126.8 L351.5,126.9 L352.6,126.9 L353.7,127.0 L354.8,127.0 L356.6,127.1 L357.4,127.3 L357.5,127.6 L357.3,128.4 L357.1,129.6 L357.3,131.6 L357.4,132.1 L357.5,132.8 L357.6,133.4 L357.7,134.1 L357.8,134.7 L357.9,135.5 L357.9,136.3 L358.0,137.1 L358.0,137.9 L358.1,138.8 L358.1,139.8 L358.1,140.7 L358.2,141.6 L358.2,142.5 L358.2,143.5 L358.2,144.5 L358.2,145.7 L358.3,147.0 L358.3,148.1 L358.3,149.3 L358.3,150.4 L358.3,151.7 L358.3,153.0 L358.4,154.4 L358.4,155.8 L358.4,157.2 L358.5,158.5 L358.5,159.9 L358.5,160.7 L358.5,161.6 L358.6,162.4 L358.6,163.3 L358.6,164.2 L358.6,165.2 L358.6,166.2 L358.7,167.1 L358.7,168.1 L358.7,169.1 L358.7,170.2 L358.7,171.3 L358.7,172.3 L358.8,173.5 L358.8,174.6 L358.8,175.7 L358.8,176.8 L358.8,178.1 L358.8,179.3 L358.9,180.6 L358.9,181.8 L358.9,182.9 L358.9,184.1 L358.9,185.3 L358.9,186.5 L359.0,187.7 L359.0,188.9 L359.0,190.1 L359.0,191.3 L359.0,192.4 L359.1,193.5 L359.1,194.6 L359.1,195.8 L359.1,197.0 L359.1,198.1 L359.2,199.2 L359.2,200.3 L359.2,201.3 L359.2,202.3 L359.3,203.4 L359.3,204.4 L359.3,205.4 L359.3,206.2 L359.4,207.2 L359.4,208.0 L359.4,209.0 L359.5,209.9 L359.5,210.7 L359.5,211.4 L359.6,212.1 L359.6,212.7 L359.6,213.3 L359.7,213.9 L359.7,214.5 L359.9,215.7 L360.0,216.9 L360.2,218.1 L360.4,219.4 L361.2,220.7 L362.0,219.6 L362.4,218.6 L362.8,217.5 L363.0,217.0 L363.1,216.3 L363.2,215.7 L363.4,214.8 L363.5,213.9 L363.7,212.9 L363.8,212.0 L363.9,210.9 L364.1,209.7 L364.2,208.5 L364.4,207.3 L364.5,206.2 L364.6,204.9 L364.8,203.6 L364.9,202.4 L365.1,201.3 L365.2,200.2 L365.4,199.1 L365.5,198.1 L365.7,197.1 L365.8,196.0 L366.0,194.9 L366.1,193.7 L366.3,192.6 L366.5,191.5 L366.6,190.5 L366.8,189.5 L367.0,188.5 L367.1,187.5 L367.3,186.4 L367.5,185.4 L367.6,184.5 L367.8,183.5 L368.0,182.5 L368.2,181.6 L368.3,180.8 L368.5,180.0 L368.8,178.8 L369.1,177.5 L369.4,176.2 L369.7,175.0 L370.0,173.9 L370.3,172.9 L370.6,171.9 L370.9,171.1 L371.1,170.4 L371.4,169.8 L371.7,169.4 L372.3,169.2 L372.8,169.9 L373.3,171.0 L373.9,172.4 L374.5,173.9 L374.8,174.6 L375.2,175.4 L375.6,176.3 L376.0,177.3 L376.3,178.3 L376.7,179.3 L377.1,180.3 L377.5,181.3 L377.9,182.4 L378.2,183.4 L378.5,184.5 L378.8,185.5 L379.0,186.5 L379.2,187.4 L379.4,188.3 L379.5,189.2 L379.7,190.3 L379.8,191.2 L380.0,192.3 L380.1,193.4 L380.3,194.7 L380.5,195.9 L380.6,196.8 L380.7,197.6 L380.9,198.5 L381.0,199.3 L381.1,200.2 L381.2,201.2 L381.4,202.2 L381.5,203.2 L381.6,204.2 L381.8,205.2 L381.9,206.2 L382.0,207.3 L382.2,208.4 L382.3,209.5 L382.4,210.5 L382.6,211.5 L382.7,212.7 L382.9,213.9 L383.0,215.1 L383.1,216.0 L383.2,216.8 L383.3,217.7 L383.4,218.6 L383.6,219.6 L383.7,220.5 L383.8,221.5 L383.9,222.5 L384.0,223.5 L384.2,224.6 L384.3,225.6 L384.4,226.5 L384.5,227.5 L384.6,228.5 L384.8,229.7 L384.9,230.7 L385.0,231.7 L385.1,232.7 L385.3,233.7 L385.4,234.8 L385.5,235.8 L385.6,236.9 L385.8,237.9 L385.9,239.0 L386.0,239.9 L386.1,241.0 L386.2,242.1 L386.4,243.2 L386.5,244.2 L386.7,245.4 L386.8,246.4 L386.9,247.6 L387.1,248.7 L387.2,250.0 L387.4,251.2 L387.5,252.4 L387.6,253.6 L387.8,254.8 L387.9,255.9 L388.1,257.0 L388.2,258.0 L388.3,259.1 L388.4,260.2 L388.6,261.2 L388.7,262.1 L388.8,263.0 L388.9,263.8 L389.0,264.6 L389.1,265.2 L389.1,265.9 L389.2,266.4" fill="none" stroke="#000" stroke-width="2.4" stroke-linejoin="round" stroke-linecap="round" />
<path d="M106.0,122.4 L106.5,122.5 L107.1,122.5 L107.8,122.5 L108.5,122.4 L109.3,122.4 L110.1,122.4 L111.0,122.4 L111.9,122.5 L112.9,122.4 L113.8,122.4 L114.9,122.3 L115.9,122.4 L117.0,122.4 L118.1,122.4 L119.3,122.4 L120.4,122.5 L121.6,122.6 L122.7,122.5 L123.9,122.4 L125.1,122.3 L126.3,122.3 L127.4,122.3 L128.6,122.3 L129.8,122.3 L130.9,122.3 L132.0,122.3 L133.1,122.4 L134.2,122.5 L135.3,122.5 L136.3,122.5 L137.3,122.5 L138.2,122.5 L139.1,122.5 L140.0,122.5 L141.2,122.5 L142.4,122.6 L143.6,122.7 L144.7,122.7 L145.8,122.6 L146.8,122.5 L147.9,122.5 L148.9,122.4 L149.9,122.5 L150.9,122.5 L151.8,122.6 L152.8,122.6 L153.7,122.7 L154.7,122.7 L155.6,122.7 L156.5,122.6 L157.4,122.7 L158.3,122.8 L159.3,123.0 L160.2,123.0 L161.1,123.0 L162.0,123.0 L163.0,123.2 L164.1,123.3 L165.1,123.4 L166.2,123.5 L167.3,123.7 L168.4,123.9 L169.5,124.1 L170.6,124.1 L171.6,124.2 L172.7,124.4 L173.8,124.7 L174.8,124.9 L175.9,125.1 L176.9,125.3 L177.9,125.5 L178.9,125.8 L179.8,126.0 L180.7,126.3 L181.6,126.5 L182.4,126.8 L183.2,127.1 L184.0,127.4 L185.1,128.0 L186.2,128.7 L187.1,129.4 L188.0,130.1 L188.8,130.7 L189.6,131.5 L190.3,132.2 L190.9,133.0 L191.6,133.7 L192.2,134.5 L192.8,135.2 L193.4,135.9 L194.0,136.5 L194.9,137.3 L195.6,138.2 L196.4,138.9 L197.1,139.6 L197.7,140.4 L198.3,141.1 L198.9,141.9 L199.4,142.7 L200.0,143.5 L200.6,144.4 L201.1,145.4 L201.6,146.3 L202.1,147.2 L202.5,148.1 L203.0,149.0 L203.5,150.0 L204.0,151.1 L204.5,151.9 L204.9,152.7 L205.4,153.5 L205.9,154.5 L206.4,155.4 L207.0,156.3 L207.5,157.2 L208.0,158.2 L208.5,159.1 L209.0,160.0 L209.5,160.8 L209.9,161.8 L210.4,162.8 L210.9,163.8 L211.4,164.7 L211.9,165.8 L212.4,166.8 L212.8,167.7 L213.2,168.4 L213.6,169.3 L214.0,169.9 L214.7,171.4 L215.2,172.7 L215.7,173.8 L216.2,174.5 L216.7,174.5 L217.1,174.1 L217.5,173.3 L217.9,172.2 L218.3,170.9 L218.7,169.7 L219.1,168.5 L219.5,167.5 L220.0,166.9 L220.9,166.5 L221.8,166.7 L222.8,167.1 L224.0,167.5 L225.0,167.7 L226.1,167.8 L227.2,167.9 L228.4,168.0 L229.6,168.0 L230.7,168.0 L232.0,168.2 L233.3,168.7 L234.6,169.1 L235.7,169.3 L236.6,168.7 L237.0,168.2 L237.4,167.5 L237.6,166.9 L237.8,166.0 L238.0,164.9 L238.1,163.5 L238.3,161.9 L238.5,160.0 L238.6,159.4 L238.6,158.6 L238.7,157.7 L238.8,156.8 L238.8,155.8 L238.9,154.7 L238.9,153.7 L239.0,152.5 L239.0,151.5 L239.1,150.3 L239.2,149.1 L239.2,147.9 L239.3,146.7 L239.3,145.5 L239.4,144.3 L239.4,143.1 L239.5,142.0 L239.6,140.9 L239.6,139.9 L239.7,138.9 L239.7,138.1 L239.8,137.3 L239.9,136.4 L239.9,135.7 L240.0,135.0 L240.2,133.8 L240.4,132.5 L240.8,131.5 L241.3,131.3 L242.0,130.9 L242.9,130.5 L243.9,130.2 L245.0,130.1 L246.0,130.0 L245.9,129.9 L245.1,129.8 L245.8,129.8 L246.8,129.8 L247.9,129.7 L248.9,129.6 L250.0,129.6 L250.6,129.7 L251.2,129.6 L251.8,129.7 L252.4,129.7 L253.1,129.7 L253.9,129.7 L254.6,129.7 L255.4,129.7 L256.2,129.6 L257.1,129.6 L258.0,129.7 L258.9,129.7 L259.8,129.8 L260.7,129.7 L261.7,129.7 L262.7,129.6 L263.7,129.6 L264.7,129.6 L265.7,129.6 L266.8,129.7 L267.9,129.7 L268.9,129.8 L270.0,129.7 L271.1,129.6 L272.2,129.5 L273.4,129.5 L274.5,129.5 L275.6,129.5 L276.8,129.6 L277.9,129.6 L279.1,129.6 L280.2,129.6 L281.4,129.7 L282.5,129.7 L283.7,129.6 L284.8,129.5 L286.0,129.5 L287.1,129.5 L288.3,129.6 L289.4,129.6 L290.5,129.6 L291.6,129.6 L292.7,129.5 L293.8,129.5 L294.9,129.5 L295.9,129.5 L297.0,129.6 L298.0,129.5 L299.0,129.6 L300.0,129.5 L301.0,129.5 L302.1,129.6 L303.1,129.6 L304.2,129.6 L305.3,129.7 L306.4,129.7 L307.5,129.7 L308.6,129.6 L309.7,129.6 L310.9,129.5 L312.0,129.5 L313.1,129.5 L314.3,129.6 L315.4,129.6 L316.6,129.5 L317.7,129.5 L318.8,129.6 L320.0,129.6 L321.1,129.6 L322.3,129.6 L323.4,129.6 L324.5,129.6 L325.6,129.7 L326.8,129.6 L327.8,129.6 L328.9,129.6 L330.0,129.6 L331.1,129.6 L332.1,129.6 L333.2,129.7 L334.2,129.7 L335.2,129.7 L336.2,129.7 L337.1,129.7 L338.1,129.8 L339.0,129.7 L339.9,129.7 L340.8,129.6 L341.6,129.7 L342.5,129.7 L343.3,129.8 L344.0,129.8 L344.8,129.7 L345.5,129.8 L346.2,129.8 L346.8,129.9 L347.4,129.9 L348.0,129.9 L349.2,129.9 L350.3,129.9 L351.5,130.0 L353.2,130.1 L353.8,130.1 L353.8,130.3 L353.7,130.7 L354.0,131.5 L354.5,132.0 L354.9,132.1 L355.2,132.3 L355.5,132.7 L355.8,133.5 L356.0,134.7 L356.1,135.8 L356.3,136.9 L356.3,137.9 L356.4,138.9 L356.5,139.9 L356.5,140.6 L356.6,141.3 L356.6,142.0 L356.7,142.8 L356.7,143.5 L356.7,144.4 L356.8,145.1 L356.8,145.9 L356.8,146.7 L356.9,147.7 L356.9,148.7 L356.9,149.7 L357.0,150.7 L357.0,151.8 L357.0,152.8 L357.1,153.9 L357.1,154.9 L357.1,156.0 L357.1,157.2 L357.2,158.3 L357.2,159.5 L357.2,160.6 L357.3,161.8 L357.3,162.9 L357.3,164.0 L357.3,165.2 L357.4,166.3 L357.4,167.6 L357.4,168.7 L357.4,169.9 L357.5,171.0 L357.5,172.2 L357.5,173.4 L357.6,174.5 L357.6,175.7 L357.6,176.7 L357.6,177.8 L357.7,178.9 L357.7,179.9 L357.7,181.1 L357.7,182.1 L357.8,183.1 L357.8,184.0 L357.8,184.9 L357.9,185.8 L357.9,186.7 L357.9,187.7 L357.9,188.5 L358.0,189.3 L358.0,189.9 L358.1,191.5 L358.1,193.0 L358.2,194.4 L358.2,195.8 L358.3,197.0 L358.4,198.3 L358.4,199.4 L358.5,200.7 L358.5,201.8 L358.6,202.9 L358.6,203.9 L358.7,204.9 L358.7,205.9 L358.8,206.7 L358.9,207.7 L358.9,208.4 L359.0,209.2 L359.1,210.0 L359.1,210.8 L359.2,211.5 L359.3,212.1 L359.3,212.8 L359.4,213.4 L359.5,213.9 L359.8,215.0 L360.0,216.0 L360.3,217.1 L361.1,217.9 L362.0,217.1 L362.2,216.7 L362.5,215.9 L362.7,215.2 L362.9,214.3 L363.1,213.4 L363.4,212.2 L363.6,211.0 L363.8,209.7 L364.0,208.5 L364.3,207.3 L364.5,206.1 L364.7,205.2 L364.8,204.2 L365.0,203.2 L365.1,202.2 L365.3,201.2 L365.4,200.2 L365.6,199.2 L365.8,198.2 L365.9,197.0 L366.1,196.0 L366.2,194.9 L366.4,193.9 L366.5,192.8 L366.7,191.8 L366.8,191.0 L367.0,190.1 L367.2,188.9 L367.4,187.8 L367.6,186.6 L367.8,185.6 L368.0,184.5 L368.2,183.4 L368.4,182.3 L368.5,181.2 L368.7,180.3 L368.9,179.4 L369.1,178.6 L369.3,177.8 L369.5,177.0 L369.9,175.3 L370.3,173.8 L370.7,172.6 L371.1,171.6 L371.5,171.0 L371.9,170.6 L372.4,170.6 L373.0,171.4 L373.6,172.5 L374.2,174.1 L374.8,175.5 L375.1,176.3 L375.4,177.0 L375.7,177.9 L376.1,178.9 L376.4,179.8 L376.7,180.9 L377.0,181.9 L377.4,183.0 L377.7,184.0 L377.9,185.0 L378.2,186.0 L378.4,186.9 L378.6,187.8 L378.8,188.7 L379.0,189.5 L379.2,190.5 L379.3,191.5 L379.5,192.5 L379.7,193.5 L379.8,194.6 L380.0,195.8 L380.2,197.0 L380.3,197.8 L380.4,198.7 L380.6,199.6 L380.7,200.5 L380.8,201.4 L380.9,202.3 L381.1,203.3 L381.2,204.3 L381.3,205.2 L381.5,206.2 L381.6,207.3 L381.7,208.4 L381.9,209.4 L382.0,210.5 L382.1,211.6 L382.3,212.7 L382.4,213.7 L382.6,214.8 L382.7,215.9 L382.8,216.8 L382.9,217.8 L383.1,218.7 L383.2,219.8 L383.3,220.7 L383.4,221.8 L383.5,222.8 L383.7,223.8 L383.8,224.8 L383.9,225.8 L384.0,226.9 L384.2,227.9 L384.3,229.0 L384.4,230.1 L384.6,231.2 L384.7,232.2 L384.8,233.3 L384.9,234.3 L385.1,235.3 L385.2,236.3 L385.3,237.4 L385.4,238.4 L385.6,239.4 L385.7,240.4 L385.8,241.4 L386.0,242.5 L386.1,243.6 L386.2,244.8 L386.4,246.1 L386.5,247.3 L386.7,248.5 L386.8,249.6 L387.0,250.9 L387.1,252.0 L387.2,253.2 L387.4,254.3 L387.5,255.4 L387.7,256.5 L387.8,257.6 L387.9,258.7 L388.0,259.6 L388.2,260.6 L388.3,261.4 L388.4,262.3 L388.5,263.1 L388.6,263.8 L388.6,264.5 L388.7,265.1" fill="none" stroke="#000" stroke-width="2.2" stroke-linejoin="round" stroke-linecap="round" />
<path d="M106.0,122.4 L106.5,122.4 L107.1,122.4 L107.8,122.3 L108.5,122.3 L109.3,122.3 L110.1,122.4 L111.0,122.4 L111.9,122.5 L112.9,122.5 L113.8,122.4 L114.9,122.4 L115.9,122.4 L117.0,122.3 L118.1,122.4 L119.3,122.4 L120.4,122.4 L121.6,122.3 L122.7,122.4 L123.9,122.4 L125.1,122.4 L126.3,122.4 L127.4,122.4 L128.6,122.3 L129.8,122.4 L130.9,122.4 L132.0,122.4 L133.1,122.5 L134.2,122.5 L135.3,122.5 L136.3,122.5 L137.3,122.4 L138.2,122.4 L139.1,122.4 L140.0,122.4 L141.2,122.5 L142.4,122.4 L143.6,122.5 L144.7,122.5 L145.8,122.5 L146.8,122.5 L147.9,122.5 L148.9,122.5 L149.9,122.5 L150.9,122.4 L151.8,122.5 L152.8,122.6 L153.7,122.7 L154.7,122.7 L155.6,122.7 L156.5,122.6 L157.4,122.7 L158.3,122.8 L159.3,122.8 L160.2,122.8 L161.1,122.9 L162.0,123.0 L163.0,123.2 L164.1,123.4 L165.1,123.5 L166.2,123.6 L167.2,123.8 L168.3,124.0 L169.4,124.2 L170.4,124.4 L171.5,124.5 L172.6,124.8 L173.6,125.0 L174.6,125.3 L175.7,125.5 L176.7,125.8 L177.7,126.0 L178.6,126.3 L179.6,126.6 L180.5,127.0 L181.4,127.3 L182.3,127.6 L183.2,127.9 L184.0,128.3 L185.0,128.8 L186.1,129.5 L187.0,130.1 L188.0,130.8 L188.9,131.4 L189.8,132.1 L190.6,132.7 L191.4,133.5 L192.2,134.2 L193.0,135.0 L193.7,135.6 L194.4,136.3 L195.1,137.0 L195.8,137.7 L196.4,138.4 L197.0,138.9 L197.9,139.8 L198.6,140.7 L199.3,141.7 L199.9,142.7 L200.4,143.5 L200.9,144.3 L201.3,145.0 L201.8,146.0 L202.4,147.0 L203.0,148.1 L203.5,148.8 L204.0,149.7 L204.6,150.5 L205.1,151.5 L205.7,152.3 L206.3,153.3 L206.8,154.3 L207.4,155.2 L208.0,156.1 L208.5,157.1 L209.0,158.1 L209.5,159.1 L210.0,160.0 L210.5,161.1 L210.9,162.1 L211.4,163.2 L211.8,164.2 L212.2,165.3 L212.6,166.5 L213.0,167.7 L213.4,168.7 L213.7,169.8 L214.1,170.7 L214.4,171.6 L214.7,172.3 L215.0,173.0 L215.4,174.1 L215.8,175.1 L216.3,176.0 L217.0,175.6 L217.3,175.1 L217.7,174.2 L218.0,173.1 L218.4,171.9 L218.8,170.7 L219.2,169.5 L219.7,168.2 L220.1,167.2 L220.6,166.4 L221.0,166.0 L221.8,165.9 L222.5,166.5 L223.3,167.5 L224.1,168.7 L225.0,169.8 L226.0,170.6 L226.9,171.2 L227.9,171.9 L229.0,172.4 L230.0,173.0 L231.1,173.4 L232.1,173.8 L233.0,174.0 L234.2,174.3 L235.3,174.7 L236.3,174.6 L237.2,173.5 L237.6,172.2 L238.0,171.0 L238.1,170.4 L238.2,169.7 L238.3,169.0 L238.4,168.1 L238.6,167.3 L238.6,166.4 L238.7,165.4 L238.8,164.3 L238.9,163.4 L239.0,162.4 L239.1,161.3 L239.2,160.2 L239.3,159.0 L239.3,157.7 L239.4,156.5 L239.5,155.3 L239.5,154.1 L239.6,152.9 L239.7,151.7 L239.8,150.6 L239.8,149.4 L239.9,148.3 L240.0,147.2 L240.0,146.1 L240.1,145.0 L240.2,144.0 L240.2,143.1 L240.3,142.2 L240.4,141.5 L240.4,140.7 L240.5,140.1 L240.7,138.1 L240.9,136.5 L241.1,135.2 L241.3,134.2 L241.4,133.2 L241.6,132.4 L241.8,131.8 L242.0,131.2 L242.2,130.6 L242.5,130.0 L242.1,128.9 L241.0,128.5 L241.5,128.3 L242.7,128.2 L243.8,128.2 L244.9,128.1 L246.0,128.1 L246.6,128.0 L247.1,128.0 L247.8,127.9 L248.4,127.9 L249.1,127.8 L249.8,127.8 L250.6,127.7 L251.4,127.7 L252.2,127.7 L253.0,127.7 L253.9,127.7 L254.8,127.7 L255.7,127.7 L256.6,127.8 L257.6,127.7 L258.6,127.7 L259.6,127.7 L260.6,127.7 L261.6,127.7 L262.7,127.6 L263.7,127.5 L264.8,127.6 L265.9,127.6 L267.0,127.6 L268.1,127.5 L269.3,127.5 L270.4,127.4 L271.5,127.4 L272.7,127.4 L273.8,127.4 L275.0,127.4 L276.2,127.4 L277.3,127.4 L278.5,127.3 L279.6,127.2 L280.8,127.3 L282.0,127.4 L283.1,127.3 L284.2,127.3 L285.4,127.3 L286.5,127.4 L287.6,127.4 L288.7,127.3 L289.8,127.3 L290.9,127.2 L292.0,127.2 L293.1,127.3 L294.1,127.3 L295.1,127.3 L296.2,127.2 L297.1,127.2 L298.1,127.1 L299.1,127.1 L300.0,127.0 L301.1,127.1 L302.2,127.1 L303.3,127.1 L304.5,127.1 L305.6,127.1 L306.7,127.1 L307.9,127.2 L309.0,127.2 L310.2,127.1 L311.3,127.1 L312.5,127.1 L313.6,127.1 L314.8,127.1 L315.9,127.2 L317.1,127.2 L318.2,127.2 L319.3,127.1 L320.5,127.1 L321.6,127.1 L322.7,127.1 L323.8,127.1 L324.9,127.1 L326.0,127.1 L327.0,127.1 L328.1,127.1 L329.1,127.2 L330.2,127.2 L331.2,127.2 L332.2,127.2 L333.1,127.2 L334.1,127.1 L335.0,127.1 L336.0,127.2 L336.9,127.3 L337.7,127.2 L338.6,127.1 L339.4,127.0 L340.2,127.1 L341.0,127.1 L341.7,127.1 L342.4,127.1 L343.1,127.2 L343.8,127.3 L344.4,127.4 L345.0,127.5 L346.0,127.6 L347.0,127.7 L348.0,127.8 L349.9,127.9 L350.8,128.1 L351.2,128.5 L351.3,129.0 L351.5,129.4 L352.0,130.0 L352.8,130.4 L353.4,130.7 L354.1,130.8 L354.6,131.2 L355.1,132.0 L355.6,133.6 L355.8,134.8 L356.0,136.1 L356.1,136.8 L356.2,137.4 L356.2,138.0 L356.3,138.7 L356.4,139.4 L356.4,140.2 L356.5,141.1 L356.5,141.8 L356.6,142.7 L356.6,143.5 L356.7,144.6 L356.7,145.6 L356.8,146.6 L356.8,147.6 L356.9,148.5 L356.9,149.6 L356.9,150.7 L357.0,151.8 L357.0,152.8 L357.0,153.9 L357.1,155.0 L357.1,156.1 L357.1,157.2 L357.2,158.3 L357.2,159.5 L357.2,160.7 L357.3,161.9 L357.3,163.1 L357.3,164.3 L357.4,165.4 L357.4,166.5 L357.4,167.6 L357.5,168.8 L357.5,170.0 L357.5,170.9 L357.6,171.8 L357.6,172.8 L357.6,173.8 L357.6,174.8 L357.6,175.8 L357.7,176.8 L357.7,178.0 L357.7,179.0 L357.7,180.2 L357.8,181.2 L357.8,182.3 L357.8,183.4 L357.8,184.5 L357.8,185.7 L357.8,186.9 L357.9,188.0 L357.9,189.3 L357.9,190.4 L357.9,191.6 L357.9,192.7 L357.9,193.9 L358.0,195.0 L358.0,196.1 L358.0,197.2 L358.0,198.3 L358.0,199.4 L358.0,200.5 L358.1,201.5 L358.1,202.7 L358.1,203.8 L358.1,204.7 L358.2,205.5 L358.2,206.4 L358.2,207.4 L358.2,208.3 L358.3,209.1 L358.3,209.9 L358.3,210.7 L358.4,211.5 L358.4,212.2 L358.4,212.9 L358.5,213.5 L358.5,214.1 L358.7,215.3 L358.9,216.6 L359.1,217.9 L359.8,218.8 L360.5,218.3 L361.0,218.1" fill="none" stroke="#000" stroke-width="2.2" stroke-linejoin="round" stroke-linecap="round" />
<path d="M239.3,148.9 L239.7,148.6 L240.1,148.1 L240.7,147.2 L241.3,146.3 L242.0,145.2 L242.7,144.4 L243.4,143.6 L244.2,142.7 L245.0,142.0 L245.7,141.1 L246.4,140.4 L247.1,139.6 L247.8,139.0 L248.5,138.3 L249.3,137.4 L250.2,136.5 L251.2,135.8 L252.2,135.4 L253.4,135.1 L254.2,135.0 L255.1,134.8 L256.0,134.6 L257.0,134.5 L258.1,134.4 L259.2,134.1 L260.3,134.0 L261.4,133.9 L262.5,134.0 L263.6,133.9 L264.8,133.8 L265.9,133.7 L266.9,133.6 L268.0,133.5 L269.0,133.4 L270.0,133.4 L271.1,133.5 L272.2,133.6 L273.3,133.5 L274.3,133.3 L275.4,133.2 L276.4,132.9 L277.4,132.9 L278.4,132.8 L279.4,132.7 L280.4,132.5 L281.5,132.5 L282.6,132.6 L283.7,132.6 L284.7,132.7 L285.6,132.8 L286.7,132.7 L287.7,132.8 L288.8,132.8 L289.8,132.9 L290.9,132.9 L292.0,133.0 L293.0,133.1 L294.1,133.3 L295.2,133.6 L296.2,133.8 L297.2,133.9 L298.2,134.0 L299.1,134.0 L300.0,133.9 L301.2,133.9 L302.3,134.2 L303.4,134.3 L304.3,134.2 L305.3,134.1 L306.2,134.1 L307.2,134.4 L308.2,134.6 L309.3,134.6 L310.5,134.8 L311.8,135.0 L312.6,135.3 L313.5,135.4 L314.4,135.9 L315.4,136.2 L316.4,136.7 L317.4,136.9 L318.5,137.3 L319.5,137.7 L320.6,138.2 L321.6,138.6 L322.7,139.0 L323.8,139.4 L324.8,139.8 L325.8,140.1 L326.8,140.5 L327.8,140.9 L328.7,141.2 L329.6,141.4 L330.4,141.9 L331.6,142.4 L332.8,142.9 L333.9,143.0 L334.9,143.3 L335.9,143.5 L336.9,143.8 L337.8,143.9 L338.7,144.4 L339.5,144.6 L340.4,145.0 L341.2,145.1 L342.0,145.5 L343.1,145.9 L344.1,146.4 L345.0,146.7 L346.0,147.3 L346.8,147.6 L347.7,148.1 L348.5,148.6 L349.3,149.4 L350.0,150.1 L350.7,151.0 L351.3,151.9 L351.9,153.0 L352.4,154.1 L352.9,155.2 L353.4,156.5 L353.9,157.6 L354.4,158.2 L355.0,158.4 L355.7,158.3 L356.4,157.7 L357.2,156.7 L358.0,155.4 L358.8,154.3 L359.5,153.2 L360.2,152.6 L360.8,152.4 L361.4,152.5 L361.9,152.7 L362.4,153.0 L362.9,153.8 L363.3,154.8 L363.7,156.1 L364.0,158.1 L364.2,159.3 L364.3,160.7 L364.4,161.3 L364.4,162.0 L364.4,162.6 L364.5,163.3 L364.5,164.1 L364.6,165.0 L364.6,165.8 L364.6,166.9 L364.7,167.6 L364.7,168.6 L364.7,169.5 L364.7,170.4 L364.7,171.4 L364.8,172.4 L364.8,173.6 L364.8,174.8 L364.8,176.1 L364.8,177.1 L364.8,178.1 L364.8,179.0 L364.9,180.3 L364.9,181.4 L364.9,182.7 L364.9,183.8 L364.9,184.9 L364.9,185.8 L364.9,186.9 L364.9,188.2 L364.9,189.4 L364.9,190.6 L364.9,191.5 L364.9,192.7 L364.9,193.9 L364.9,194.9 L364.9,196.0 L365.0,197.0 L365.0,198.3 L365.0,199.2 L365.0,200.2 L365.0,201.2 L365.0,202.3 L365.1,203.3 L365.1,204.6 L365.1,205.8 L365.1,206.8 L365.1,207.8 L365.1,208.9 L365.2,210.3 L365.2,211.6 L365.2,212.7 L365.2,213.9 L365.2,215.0 L365.2,216.1 L365.3,217.1 L365.3,218.1 L365.3,219.5 L365.3,220.6 L365.3,221.9 L365.3,223.0 L365.3,224.3 L365.4,225.4 L365.4,226.3 L365.4,227.2 L365.4,228.2 L365.4,229.2 L365.4,230.0 L365.4,230.8 L365.4,231.5 L365.5,232.2 L365.5,233.0 L365.5,233.8 L365.5,234.4 L365.5,235.0 L365.5,235.6" fill="none" stroke="#cccc00" stroke-width="2.6" stroke-linejoin="round" stroke-linecap="round" />
<path d="M242.8,153.5 L243.1,153.2 L243.6,152.7 L244.1,151.8 L244.6,150.8 L245.2,149.8 L245.9,149.0 L246.6,148.0 L247.3,147.0 L248.0,146.0 L248.6,145.3 L249.2,144.4 L249.9,143.5 L250.5,142.6 L251.2,141.8 L252.0,140.9 L252.7,140.1 L253.4,139.4 L254.2,138.6 L254.9,137.9 L255.7,137.4 L256.6,136.8 L257.6,136.4 L258.6,135.9 L259.6,135.7 L260.6,135.4 L261.7,135.2 L262.7,135.3 L263.9,135.2 L265.0,135.2 L265.9,134.9 L266.8,134.7 L267.7,134.5 L268.6,134.3 L269.5,133.9 L270.5,133.7 L271.5,133.5 L272.6,133.5 L273.8,133.4 L275.2,133.6 L276.7,133.9 L277.4,134.1 L278.2,134.2 L279.1,134.3 L279.9,134.7 L280.8,135.0 L281.7,135.3 L282.6,135.6 L283.6,135.9 L284.6,136.3 L285.6,136.4 L286.6,137.0 L287.6,137.3 L288.6,137.9 L289.7,138.1 L290.7,138.6 L291.8,139.1 L292.8,139.6 L293.9,140.0 L294.9,140.3 L296.0,140.6 L297.0,141.0 L298.0,141.3 L299.0,141.6 L300.0,141.8 L301.0,142.3 L302.0,142.7 L303.0,142.9 L304.0,143.0 L305.0,143.1 L306.0,143.5 L307.1,143.7 L308.1,143.9 L309.1,144.2 L310.1,144.5 L311.2,144.6 L312.2,144.8 L313.2,145.1 L314.2,145.3 L315.2,145.4 L316.2,145.5 L317.2,145.8 L318.1,146.1 L319.1,146.4 L320.0,146.6 L320.9,146.7 L321.8,147.1 L322.7,147.5 L323.5,148.0 L324.5,148.4 L325.6,148.9 L326.6,149.3 L327.5,149.8 L328.5,150.1 L329.4,150.6 L330.3,151.1 L331.2,151.7 L332.1,152.5 L333.0,153.0 L333.8,153.6 L334.6,154.2 L335.4,154.9 L336.2,155.5 L337.0,156.2 L337.7,156.6 L338.4,157.3 L339.1,157.8 L339.8,158.6 L340.7,159.4 L341.5,160.1 L342.3,160.8 L343.1,161.3 L343.8,162.0 L344.5,162.7 L345.2,163.5 L345.8,164.3 L346.4,165.0 L347.0,165.9 L347.5,166.8 L348.0,167.8 L348.5,168.9 L349.0,170.0 L349.3,170.8 L349.5,171.5 L349.8,172.2 L350.0,173.1 L350.2,174.1 L350.4,175.0 L350.5,176.0 L350.7,176.9 L350.9,178.1 L351.0,179.1 L351.2,180.3 L351.3,181.2 L351.4,182.3 L351.5,183.3 L351.7,184.4 L351.8,185.4 L351.9,186.5 L352.0,187.8 L352.1,188.9 L352.3,190.1 L352.4,191.1 L352.6,192.4 L352.7,193.5 L352.8,194.5 L352.9,195.5 L353.1,196.5 L353.2,197.6 L353.3,198.4 L353.4,199.4 L353.5,200.4 L353.7,201.6 L353.8,202.9 L353.9,204.2 L354.0,205.2 L354.1,206.2 L354.2,207.4 L354.3,208.6 L354.4,209.6 L354.6,210.6 L354.7,211.7 L354.8,213.0 L354.9,214.0 L355.0,215.1 L355.1,216.1 L355.3,216.8 L355.4,217.7 L355.5,218.4 L355.6,219.2 L355.7,219.9 L355.9,220.7 L356.0,221.4 L356.4,223.2 L356.8,224.7 L357.3,226.0 L357.7,226.9 L358.2,227.4 L358.6,228.2 L359.1,228.7 L359.5,229.4 L360.0,230.0 L360.7,231.1 L361.6,232.3 L362.4,233.2 L363.2,234.4 L363.8,235.1 L364.3,235.9" fill="none" stroke="#cccc00" stroke-width="2.5" stroke-linejoin="round" stroke-dasharray="2 1.6" stroke-linecap="butt" />
<path d="M382.6,245.7 L383.2,245.2 L384.0,246.0 L385.0,246.2 L386.1,244.7 L387.2,244.9 L388.4,243.6 L389.5,243.9 L390.5,244.3 L391.5,244.6 L392.4,244.4 L393.3,244.3 L394.2,245.1 L395.2,245.2 L396.1,246.2 L397.0,247.0 L398.0,247.3 L398.8,246.7 L399.5,246.2 L400.2,247.2 L400.8,245.4 L401.6,245.7 L402.7,244.0 L404.1,243.8 L406.0,244.0 L406.7,245.0 L407.4,244.1 L408.2,245.3 L409.1,244.5 L409.9,246.0 L410.9,246.0 L411.8,245.3 L412.8,245.6 L413.8,245.8 L414.9,246.5 L415.9,245.5 L417.0,245.6 L418.1,246.5 L419.2,247.5 L420.3,246.4 L421.5,247.6 L422.6,247.7 L423.8,248.4 L424.9,247.9 L426.0,247.9 L427.1,248.4 L428.2,248.1 L429.3,248.3 L430.4,248.6 L431.5,249.4 L432.5,247.9 L433.5,249.3 L434.6,248.1 L435.6,248.7 L436.7,248.8 L437.8,249.1 L438.9,249.0 L439.9,249.3 L441.0,248.8 L442.1,249.3 L443.2,249.6 L444.3,250.3 L445.4,248.7 L446.5,248.3 L447.5,250.2 L448.6,250.5 L449.6,250.0 L450.7,249.5 L451.7,249.0 L452.7,248.8 L453.6,250.8 L454.6,250.0 L455.5,249.2 L456.4,249.8 L457.2,248.8 L458.0,249.9 L458.8,250.5 L460.2,250.9 L461.5,250.0 L462.6,250.4 L463.7,250.8 L464.6,251.9 L465.5,250.7 L466.3,251.5 L467.2,252.5 L468.0,254.0 L468.9,254.2 L469.8,254.8 L470.9,252.9 L472.0,253.8 L472.9,252.8 L473.8,253.8 L474.8,254.6 L475.8,254.3 L476.8,254.8 L477.8,254.8 L478.9,254.7 L479.9,254.6 L481.0,254.2 L482.0,255.2 L483.1,255.9 L484.2,256.2 L485.2,256.2 L486.2,255.7 L487.2,255.2 L488.2,254.6 L489.1,254.1 L490.0,255.5 L491.2,254.2 L492.4,255.8 L493.7,256.0 L494.9,255.1 L496.1,256.8 L497.2,256.5 L498.3,256.8 L499.4,255.2 L500.4,255.6 L501.3,255.7 L502.1,257.4 L502.9,255.8 L503.5,256.0 L505.1,257.3 L505.3,256.6 L505.8,256.9 L506.3,256.7 L506.9,255.1 L507.1,254.9 L507.4,253.1 L507.5,252.4 L507.6,251.5 L507.6,250.2 L507.7,248.8 L507.8,249.6 L507.9,248.8 L507.9,246.2 L508.0,245.6 L508.1,244.3 L508.2,242.5 L508.2,242.5 L508.3,240.7 L508.4,239.3 L508.5,238.8 L508.6,238.3 L508.6,235.9 L508.7,235.6 L508.8,234.5 L508.9,233.6 L508.9,232.7 L509.0,231.3 L509.1,229.3 L509.2,227.6 L509.2,227.2 L509.3,226.0 L509.4,226.5 L509.5,224.2 L509.7,223.5 L509.8,222.7 L510.0,221.1 L510.1,221.2 L510.2,219.7 L510.4,218.3 L510.5,216.1 L510.7,215.1 L510.8,215.1 L511.0,214.1 L511.2,213.5 L511.3,213.6 L511.5,212.1 L511.8,211.7 L512.0,209.1 L512.3,207.4 L512.6,206.5 L512.9,207.0 L513.2,204.8 L513.5,203.9 L513.8,202.8 L514.2,203.8 L514.5,201.0 L514.9,199.6 L515.4,199.2 L515.9,197.6 L516.4,198.3 L516.9,197.1 L517.3,196.1 L517.8,195.8 L518.2,193.6 L518.6,194.0 L518.9,192.8 L519.1,192.0 L519.4,189.8 L519.6,190.5 L519.8,189.5 L520.0,187.4 L520.1,186.2 L520.3,185.8 L520.5,185.0 L520.7,183.4 L520.9,182.1 L521.0,182.0 L521.2,180.5 L521.3,178.9 L521.5,179.1 L521.6,177.9 L521.8,175.5 L522.0,175.3 L522.1,173.4 L522.3,172.3 L522.5,171.4 L522.7,171.7 L522.9,170.2 L523.2,168.6 L523.4,167.1 L523.7,166.4 L523.9,165.8 L524.2,165.0 L524.5,164.1 L524.7,162.7 L525.0,162.1 L525.3,160.6 L525.5,160.9 L525.8,158.3 L526.0,157.3 L526.2,156.6 L526.5,156.0 L526.7,154.2 L526.9,153.8 L527.1,151.9 L527.4,150.4 L527.6,151.0 L527.8,148.2 L528.0,148.4 L528.2,145.9 L528.4,145.5 L528.6,145.3 L528.8,145.3 L529.2,143.6 L529.6,141.2 L529.9,139.7 L530.2,140.2 L530.6,139.5 L530.9,139.1 L532.0,136.2 L532.9,136.4" fill="none" stroke="#ff5500" stroke-width="2.6" stroke-linejoin="round" stroke-linecap="round" />
<path d="M381.3,259.5 L381.8,259.1 L382.3,258.6 L382.9,258.5 L383.5,258.0 L384.2,256.8 L385.0,257.6 L385.8,256.1 L386.7,255.9 L387.7,255.0 L388.8,255.2 L390.0,253.9 L391.2,253.2 L392.6,253.0 L394.2,253.1 L395.8,253.3 L396.5,252.7 L397.3,253.1 L398.1,252.2 L398.9,252.8 L399.7,251.6 L400.6,252.4 L401.5,251.6 L402.4,251.9 L403.3,251.8 L404.3,252.1 L405.3,251.6 L406.3,252.0 L407.3,251.1 L408.3,252.0 L409.4,251.7 L410.4,251.6 L411.5,251.9 L412.6,251.1 L413.7,251.5 L414.8,251.7 L415.9,251.2 L417.0,250.7 L418.1,250.8 L419.2,250.5 L420.4,250.9 L421.5,250.6 L422.6,250.3 L423.7,251.0 L424.8,251.2 L426.0,250.8 L427.1,250.2 L428.2,250.5 L429.3,251.0 L430.4,250.4 L431.4,250.5 L432.5,249.6 L433.5,250.3 L434.4,250.1 L435.4,249.1 L436.5,248.9 L437.5,249.3 L438.5,249.6 L439.6,249.4 L440.6,248.4 L441.7,248.3 L442.8,249.0 L443.9,248.2 L445.0,248.9 L446.1,248.3 L447.2,248.6 L448.3,247.7 L449.4,248.2 L450.5,247.3 L451.6,246.3 L452.6,246.3 L453.7,246.0 L454.8,246.4 L455.9,247.1 L456.9,247.0 L458.0,246.8 L459.0,246.0 L460.0,246.4 L461.0,246.0 L462.0,245.9 L463.0,245.7 L463.9,245.4 L464.8,244.9 L465.8,244.3 L466.6,244.2 L467.5,244.3 L468.3,243.9 L469.1,244.1 L469.9,243.2 L470.6,243.2 L471.3,243.8 L472.0,243.0 L473.9,242.5 L475.5,241.7 L477.0,241.2 L478.2,241.1 L479.3,241.7 L480.2,240.9 L481.1,240.1 L481.8,239.9 L482.5,239.4 L483.1,238.6 L483.7,238.3 L484.3,238.2 L485.0,238.4 L486.5,237.6 L487.4,237.9 L488.2,237.8 L488.9,238.0 L490.0,236.4 L490.5,235.3 L491.1,234.7 L491.8,234.2 L492.4,234.0 L493.1,233.8 L493.8,232.9 L494.5,230.8 L495.2,230.5 L495.9,229.8 L496.5,229.1 L497.1,227.9 L497.7,227.0 L498.2,225.5 L498.6,224.9 L499.0,224.7 L499.4,223.8 L499.7,222.8 L500.0,221.2 L500.2,220.7 L500.5,219.6 L500.8,218.1 L501.0,217.0 L501.3,216.3 L501.5,215.2 L501.8,213.4 L502.0,212.3 L502.3,212.5 L502.5,210.7 L502.7,209.6 L503.0,208.6 L503.2,207.7 L503.4,206.9 L503.6,205.7 L503.9,203.9 L504.1,202.8 L504.3,202.1 L504.5,201.3 L504.7,200.9 L505.0,199.1 L505.2,197.6 L505.4,197.4 L505.6,196.0 L505.9,194.9 L506.1,194.4 L506.3,193.4 L506.6,191.9 L507.0,191.0 L507.3,189.3 L507.7,189.2 L508.0,188.1 L508.3,187.2 L508.7,185.6 L509.0,185.0 L509.4,183.8 L509.7,182.7 L510.1,181.8 L510.4,181.7 L510.9,180.3 L511.3,179.2 L511.8,177.6 L512.2,177.1 L512.7,176.5 L513.1,175.0 L513.6,174.3 L514.0,174.5 L514.5,172.7 L515.1,171.8 L515.7,171.5 L516.3,170.7 L516.8,169.8 L517.4,168.9 L518.0,168.0 L518.6,166.4 L519.0,165.9 L519.4,164.4 L519.9,163.8 L520.3,163.4 L520.7,161.6 L521.1,160.3 L521.5,159.2 L521.9,158.7 L522.3,157.1 L522.7,156.1 L523.0,155.2 L523.4,154.4 L523.7,153.6 L524.0,151.7 L524.2,151.2 L524.5,150.0 L524.8,149.3 L525.1,148.6 L525.5,147.0 L525.8,146.3 L526.2,144.9 L526.7,144.6 L527.1,143.1 L527.6,142.0 L528.1,140.8 L528.6,140.1 L529.0,138.8 L529.5,137.1 L529.9,136.4 L531.1,136.4 L532.2,135.4 L532.9,135.5" fill="none" stroke="#ff5500" stroke-width="2.5" stroke-linejoin="round" stroke-dasharray="2 1.6" stroke-linecap="butt" />
<path d="M399.7,240.2 L400.4,239.5 L401.3,239.9 L402.3,239.6 L403.5,238.4 L404.7,237.6 L405.9,236.7 L407.0,237.1 L408.0,236.7 L409.1,236.3 L410.1,236.2 L411.1,235.9 L412.1,234.5 L413.1,234.7 L414.0,236.0 L415.0,236.2 L415.8,236.1 L416.7,235.9 L417.6,236.5 L418.6,237.5 L420.0,238.9 L420.8,237.8 L421.7,238.0 L422.7,238.2 L423.7,238.9 L424.7,238.2 L425.8,239.3 L427.0,239.3 L428.1,239.2 L429.2,238.6 L430.3,238.9 L431.4,240.1 L432.5,240.9 L433.5,240.2 L434.6,239.7 L435.6,239.7 L436.6,240.5 L437.6,241.0 L438.7,240.9 L439.7,239.4 L440.7,240.6 L441.8,240.3 L442.8,241.0 L443.9,240.5 L445.0,241.7 L446.0,241.9 L446.9,242.1 L447.8,241.3 L448.7,241.4 L449.6,241.9 L450.6,241.0 L451.5,241.9 L452.5,241.9 L453.6,241.1 L454.7,241.6 L456.0,241.8 L457.3,242.7 L458.8,242.4 L459.6,241.8 L460.4,243.3 L461.3,243.5 L462.2,243.3 L463.2,242.8 L464.2,243.1 L465.2,243.1 L466.2,243.6 L467.3,243.1 L468.3,244.0 L469.4,243.2 L470.5,242.9 L471.6,243.9 L472.7,243.8 L473.8,244.1 L474.9,243.6 L476.0,244.0 L477.1,245.1 L478.2,244.6 L479.2,244.9 L480.3,245.4 L481.3,245.2 L482.3,245.5 L483.2,245.9 L484.1,246.0 L485.0,246.4 L486.2,246.4 L487.5,245.2 L488.7,246.0 L489.9,246.0 L491.1,246.7 L492.3,246.9 L493.4,246.6 L494.6,247.6 L495.7,248.2 L496.7,248.5 L497.8,247.9 L498.7,247.0 L499.7,247.1 L500.5,247.8 L501.4,247.6 L502.1,248.8 L502.9,248.3 L503.5,248.7 L505.2,247.5 L506.0,249.6 L506.4,249.3 L506.6,251.0 L507.0,251.2 L507.5,252.6 L508.1,254.3 L508.6,256.6 L509.1,256.6 L509.6,258.0 L510.0,257.3 L510.2,257.9 L510.3,256.3 L510.4,255.5 L510.6,255.6 L510.7,253.3 L510.8,253.3 L510.9,250.5 L511.0,250.0 L511.1,247.4 L511.2,246.0 L511.3,245.8 L511.4,244.7 L511.5,244.8 L512.5,243.1 L513.5,242.2 L513.7,241.1 L513.9,240.5 L514.1,239.7 L514.3,239.5 L514.5,238.8 L514.7,237.5 L514.9,236.1 L515.1,235.0 L515.3,233.9 L515.5,232.6 L515.6,230.7 L515.8,230.7 L515.9,229.0 L516.0,229.0 L516.1,227.8 L516.2,226.9 L516.4,225.9 L516.5,224.8 L516.6,222.4 L516.7,221.8 L516.9,220.2 L517.0,219.1 L517.1,219.1 L517.3,217.8 L517.4,216.6 L517.6,215.9 L517.8,214.9 L518.0,212.9 L518.2,212.9 L518.4,211.1 L518.6,209.8 L518.8,209.4 L519.0,208.2 L519.3,207.9 L519.5,206.4 L519.7,205.7 L520.0,204.7 L520.2,203.7 L520.4,202.1 L520.7,202.0 L521.0,201.0 L521.2,199.9 L521.5,198.7 L521.8,197.5 L522.1,197.1 L522.3,195.5 L522.6,194.2 L522.9,192.9 L523.2,192.2 L523.5,190.5 L523.8,190.2 L524.1,189.5 L524.4,188.3 L524.7,186.5 L525.0,185.8 L525.2,185.0 L525.5,183.9 L525.7,182.8 L526.0,182.3 L526.2,181.4 L526.5,180.1 L526.7,178.6 L527.0,178.2 L527.3,177.7 L527.5,174.9 L527.8,175.0 L528.0,174.3 L528.3,172.4 L528.5,171.8 L528.8,171.3 L529.1,169.8 L529.4,167.8 L529.7,167.6 L530.0,166.4 L530.3,165.6 L530.6,164.4 L530.9,163.5 L531.2,162.0 L531.5,162.0 L531.8,160.0 L532.1,158.9 L532.4,157.7 L532.6,157.1 L532.9,156.8 L533.3,156.0 L533.6,153.4 L533.9,152.4 L534.2,151.8 L534.5,151.2 L534.8,149.4 L535.1,148.5 L535.4,147.3 L535.7,147.6 L536.0,146.8 L536.5,146.5 L537.0,144.2 L537.4,143.4 L537.9,142.8 L538.4,141.6 L539.0,139.9 L539.4,140.0 L539.9,138.4 L540.3,136.9 L540.8,136.2 L541.3,136.2 L541.8,134.6 L542.2,133.3 L542.7,132.8 L543.1,131.1 L543.6,130.2 L544.0,129.2 L544.4,127.6 L544.8,128.1 L545.2,126.8 L545.6,125.6 L546.0,125.0 L546.4,123.5 L546.9,121.9 L547.4,121.0 L547.9,119.8 L548.4,119.4 L548.7,119.0 L549.0,118.3" fill="none" stroke="#10c860" stroke-width="2.7" stroke-linejoin="round" stroke-linecap="round" />
<path d="M542.0,142.4 L542.3,141.7 L542.7,141.8 L543.1,140.7 L543.6,139.9 L544.1,138.4 L544.7,137.5 L545.2,136.6 L545.8,134.9 L546.3,134.2 L546.7,133.5 L547.1,133.1 L547.4,131.9 L547.7,130.8 L548.0,130.0 L548.2,128.9 L548.5,128.0 L548.8,127.2 L549.2,125.4 L549.7,125.4 L550.2,124.3 L550.7,122.9 L551.2,122.5 L551.7,121.7 L552.3,120.7 L552.9,119.6 L553.5,119.1 L554.2,118.9 L554.9,118.1 L555.7,116.9 L556.5,116.9 L557.4,116.0 L558.4,114.7 L559.0,114.7 L559.7,114.1 L560.5,113.0 L561.3,112.0 L562.1,112.2 L562.9,111.8 L563.8,111.2 L564.7,110.6 L565.6,109.2 L566.5,109.2 L567.5,107.7 L568.4,107.5 L569.3,107.1 L570.2,106.5 L571.0,105.7 L571.8,105.6 L572.7,104.9 L573.4,104.6 L574.1,103.7 L574.8,103.0 L575.8,101.9 L576.6,102.0 L577.5,101.4 L578.3,99.9 L579.0,100.1 L579.7,98.6 L580.4,98.6 L581.0,98.4 L581.6,97.8 L582.2,97.0 L582.8,95.8 L583.4,94.9 L584.0,93.6 L584.3,93.4 L584.6,91.9 L584.9,91.2 L585.2,90.6 L585.4,89.4 L585.7,87.9 L586.0,87.3 L586.2,86.7 L586.5,84.9 L586.8,83.5 L587.0,82.0 L587.2,81.2 L587.5,79.9 L587.7,78.7 L587.9,77.3 L588.2,76.8 L588.4,76.0 L588.6,74.6 L588.8,73.7 L589.0,72.5 L589.2,72.3 L589.4,70.7 L589.6,70.5 L589.8,69.0 L590.0,69.2 L591.1,68.3 L591.9,69.6 L593.4,70.1 L594.1,69.9 L594.9,70.5 L595.8,70.1 L596.7,69.1 L597.7,69.1 L598.8,69.2 L599.8,68.7 L600.8,67.3 L601.8,67.4 L602.8,66.6 L603.8,66.0 L604.7,66.1 L605.8,65.0 L606.8,63.7 L607.8,63.4 L608.7,62.5 L609.7,62.0 L610.5,61.4 L611.3,60.6 L612.0,61.2 L612.8,61.3 L613.5,63.0 L614.1,64.0 L614.6,65.2 L615.0,66.8 L615.3,67.4 L615.6,67.8" fill="none" stroke="#4040ff" stroke-width="2.5" stroke-linejoin="round" stroke-linecap="round" />
<path d="M540.9,129.2 L541.3,128.7 L541.7,127.7 L542.2,127.1 L542.7,126.9 L543.3,126.5 L543.9,125.1 L544.5,124.4 L545.2,123.8 L545.9,122.8 L546.6,122.6 L547.3,121.6 L548.1,121.0 L548.9,119.8 L549.7,119.1 L550.5,117.8 L551.3,117.0 L552.1,116.0 L552.9,115.2 L553.7,114.1 L554.5,114.1 L555.3,112.7 L556.1,112.2 L556.9,111.8 L557.7,110.6 L558.4,110.4 L559.2,109.2 L560.0,108.7 L560.8,107.8 L561.7,107.2 L562.5,106.7 L563.3,106.3 L564.2,106.1 L565.1,105.5 L565.9,103.9 L566.8,103.9 L567.6,103.3 L568.5,102.6 L569.3,101.5 L570.2,101.2 L571.0,100.5 L571.8,100.1 L572.6,99.6 L573.4,98.9 L574.2,98.2 L574.9,97.6 L575.6,97.6 L576.3,96.4 L577.0,96.4 L577.7,95.0 L578.5,94.8 L579.2,94.0 L579.8,93.1 L580.5,91.8 L581.1,91.2 L581.7,90.0 L582.3,88.8 L582.9,88.5 L583.5,87.6 L584.0,86.2 L584.6,85.9 L585.1,85.3 L585.7,84.0 L586.2,83.0 L586.7,82.3 L587.2,81.8 L587.8,80.8 L588.3,79.8 L588.8,79.7 L589.6,78.8 L590.3,77.8 L591.0,76.7 L591.6,76.5 L592.2,75.6 L592.8,74.5 L593.4,73.8 L594.0,73.7 L594.7,72.3 L595.4,71.9 L596.2,71.3 L597.1,70.9 L598.0,70.6 L598.8,69.6 L599.7,69.3 L600.7,68.5 L601.7,68.0 L602.8,67.9 L603.9,67.4 L605.1,67.3 L606.3,66.4 L607.4,66.3 L608.5,65.5 L609.6,65.2 L610.6,64.8 L611.6,64.4 L612.5,64.5 L613.3,63.9 L613.9,63.1 L614.5,63.2" fill="none" stroke="#4040ff" stroke-width="2.4" stroke-linejoin="round" stroke-dasharray="2 1.6" stroke-linecap="butt" />
<path d="M106.0,479.9 L106.6,479.2 L107.5,477.9 L108.6,477.4 L109.7,477.6 L110.7,478.1 L111.2,477.4 L111.6,480.3 L112.0,479.9 L112.5,480.3 L112.9,482.7 L113.4,481.7 L113.8,480.9 L114.3,483.4 L114.8,483.5 L115.3,483.0 L115.7,484.3 L116.2,486.0 L116.6,490.1 L117.1,491.5 L117.6,490.7 L118.1,493.1 L118.6,495.4 L119.1,494.6 L119.6,494.8 L120.1,496.5 L120.5,498.1 L120.9,498.1 L121.2,499.0 L121.8,498.8 L122.1,499.9 L122.4,497.0 L122.7,493.9 L123.0,490.9 L123.5,490.5 L124.6,490.5 L125.8,489.2 L127.1,489.5 L128.2,486.8 L128.6,488.5 L129.0,488.2 L129.3,488.4 L129.6,487.5 L129.8,486.3 L130.1,482.9 L130.5,482.0 L131.3,482.1 L132.2,482.9 L133.2,482.8 L134.0,483.0 L134.7,484.3 L135.2,485.4 L135.7,485.4 L136.4,487.9 L137.5,487.2 L138.7,484.7 L139.9,481.9 L140.8,480.9 L141.7,483.3 L142.6,485.7 L143.4,484.9 L143.8,489.3 L144.2,491.5 L144.6,492.5 L144.9,491.9 L145.3,492.4 L145.7,490.1 L146.0,492.4 L146.4,488.8 L146.7,488.0 L147.1,487.1 L147.5,487.6 L147.9,484.6 L148.2,484.3 L148.6,484.4 L149.1,485.9 L149.6,484.3 L150.1,485.7 L150.6,489.3 L151.1,489.8 L151.6,491.5 L152.3,492.8 L153.0,488.5 L153.7,487.9 L154.4,485.6 L155.1,484.3 L156.0,486.3 L156.8,489.0 L157.7,488.8 L158.6,489.8 L159.3,487.3 L159.9,487.3 L160.6,485.6 L161.3,486.1 L162.1,485.6 L163.2,483.4 L164.5,483.6 L165.7,486.2 L166.7,485.6 L167.1,486.6 L167.5,488.4 L167.8,490.9 L168.0,491.9 L168.3,493.9 L168.7,493.4 L169.1,492.7 L169.8,492.7 L170.6,493.5 L171.4,495.4 L172.3,495.5 L173.1,497.6 L173.8,496.3 L174.6,498.7 L175.3,498.6 L175.9,500.0 L176.7,500.5 L177.0,497.8 L177.3,497.5 L177.6,498.8 L177.9,497.8 L178.3,498.9 L178.6,497.3 L179.0,494.5 L179.3,493.9 L179.7,491.4 L180.0,493.4 L180.4,492.5 L180.8,491.9 L181.6,489.2 L182.5,490.0 L183.4,490.0 L184.4,488.7 L185.2,488.5 L186.0,487.9 L186.4,485.4 L186.8,485.2 L187.2,485.4 L187.5,483.5 L187.8,482.2 L188.1,480.3 L188.5,478.6 L188.9,479.2 L189.3,478.0 L189.8,476.4 L190.4,476.0 L191.0,479.1 L191.7,480.1 L192.3,481.6 L193.0,482.6 L193.8,486.1 L194.6,485.1 L195.1,482.6 L195.6,482.6 L196.1,482.2 L196.7,481.7 L197.2,481.9 L197.8,480.5 L198.4,480.3 L199.0,479.8 L199.6,478.8 L200.2,476.5 L200.8,474.6 L201.3,475.1 L201.9,472.4 L202.5,470.1 L203.0,471.0 L203.6,468.3 L204.1,468.3 L204.6,466.2 L205.2,466.7 L205.7,467.3 L206.3,466.9 L206.8,463.6 L207.3,462.9 L207.9,461.6 L208.4,462.1 L208.9,461.4 L209.4,461.5 L209.9,461.3 L210.4,458.4 L211.0,457.9 L211.6,455.9 L212.1,456.1 L212.7,454.4 L213.2,454.9 L213.8,454.2 L214.3,452.6 L214.9,448.9 L215.4,448.6 L215.9,448.7 L216.5,446.9 L217.0,447.0 L217.8,448.2 L218.4,450.2 L219.0,451.5 L219.7,452.0 L220.4,453.7 L221.2,454.8 L222.2,453.3 L223.5,452.5 L224.2,453.7 L225.1,450.9 L226.0,452.0 L227.0,454.1 L228.0,452.9 L229.1,452.6 L230.2,453.9 L231.3,453.1 L232.4,452.8 L233.6,452.9 L234.6,454.1 L235.7,453.5 L236.7,452.7 L237.6,452.2 L238.5,450.6 L239.3,451.9 L240.3,448.2 L241.2,449.3 L241.9,449.7 L242.6,451.8 L243.2,449.0 L243.8,449.7 L244.4,446.4 L245.0,444.8 L245.6,443.7 L246.3,443.4 L247.1,442.6 L247.7,442.7 L248.3,441.5 L248.9,441.4 L249.6,439.5 L250.3,437.3 L251.0,436.9 L251.6,436.1 L252.3,437.2 L253.0,434.9 L253.7,433.1 L254.4,431.4 L255.1,430.6 L255.8,431.3 L256.4,431.2 L257.0,430.2 L257.6,430.8 L258.4,431.7 L259.2,430.7 L260.0,429.2 L260.8,428.9 L261.5,429.8 L262.2,432.2 L262.9,432.7 L263.6,435.5 L264.3,436.2 L264.9,439.8 L265.5,438.6 L266.7,441.3 L267.8,441.1 L268.8,441.3 L269.8,440.0 L270.8,440.3 L271.3,439.0 L271.7,436.2 L272.2,436.8 L272.7,437.0 L273.1,434.9 L273.6,434.4 L274.1,435.2 L274.5,432.2 L275.0,434.0 L275.5,431.9 L276.0,431.2 L277.1,429.2 L278.1,430.4 L279.2,430.2 L280.4,433.0 L281.7,431.5 L282.3,431.2 L283.0,429.7 L283.7,428.6 L284.4,429.5 L285.1,428.4 L285.9,427.0 L286.6,425.7 L287.4,426.5 L288.1,424.9 L288.9,421.9 L289.7,422.0 L290.4,419.8 L290.9,419.6 L291.4,417.7 L291.9,415.9 L292.5,416.8 L293.0,413.6 L293.5,414.8 L294.0,415.8 L294.5,414.8 L295.1,413.9 L295.6,412.9 L296.1,411.5 L296.6,411.8 L297.1,410.1 L297.6,411.1 L298.2,409.3 L298.7,407.2 L299.2,408.4 L299.9,407.2 L300.6,406.0 L301.2,405.8 L301.9,407.7 L302.6,411.4 L303.3,413.4 L303.9,414.0 L304.6,413.3 L305.3,414.3 L306.0,416.1 L306.7,414.9 L307.3,412.7 L308.0,415.9 L308.9,416.9 L309.7,418.4 L310.6,420.3 L311.5,420.4 L312.3,420.8 L313.2,422.8 L314.1,421.0 L315.0,419.7 L315.8,421.8 L316.7,422.8 L317.7,424.1 L318.7,423.8 L319.6,421.9 L320.6,421.9 L321.6,423.4 L322.6,422.2 L323.5,422.9 L324.5,422.6 L325.5,423.1 L326.2,422.5 L326.8,420.8 L327.5,422.0 L328.2,419.3 L328.8,422.8 L329.5,422.1 L330.2,423.3 L330.9,423.5 L331.5,424.5 L332.2,425.0 L332.9,426.4 L333.5,429.2 L334.2,429.7 L335.0,430.7 L335.8,430.8 L336.6,432.7 L337.4,433.8 L338.2,435.4 L339.0,435.2 L339.8,437.9 L340.6,436.5 L341.4,437.7 L342.2,437.5 L343.0,437.0 L343.5,437.6 L343.9,436.4 L344.4,436.1 L344.9,436.2 L345.3,434.8 L345.8,433.6 L346.2,430.3 L346.7,427.8 L347.2,427.1 L347.6,427.1 L348.1,425.9 L348.6,424.4 L349.0,423.6 L349.5,420.8 L350.0,421.1 L350.4,421.5 L350.9,421.5 L351.3,420.4 L351.8,416.2 L352.7,416.7 L353.5,417.6 L354.3,417.8 L355.1,417.6 L356.0,420.5 L356.8,421.9 L357.7,423.7 L358.6,423.8 L359.5,423.7 L360.5,422.8 L361.3,422.4 L362.2,423.6 L363.1,423.1 L364.0,422.5 L364.9,420.5 L365.9,423.2 L366.8,422.6 L367.8,422.6 L368.7,421.9 L369.6,420.2 L370.5,418.0 L371.4,418.4 L372.2,417.2 L372.9,417.5 L373.6,415.4 L374.3,413.9 L375.0,415.0 L375.6,413.4 L376.3,414.1 L376.9,415.6 L377.5,412.1 L378.1,410.4 L378.7,409.6 L379.3,409.0 L379.9,408.0 L380.4,410.1 L381.0,409.1 L382.1,407.0 L383.1,405.8 L384.1,403.3 L385.1,401.8 L386.1,400.1 L387.1,399.6 L388.2,401.0 L388.5,401.7 L388.9,402.2 L389.2,405.4 L389.6,406.1 L390.0,409.4 L390.3,409.4 L390.7,411.4 L391.1,413.6 L391.4,412.4 L391.8,413.9 L392.2,416.5 L392.6,418.4 L393.0,419.6 L393.4,417.4 L393.7,418.9 L394.1,417.0 L394.5,419.3 L394.9,423.5 L395.2,423.3 L395.6,424.1 L396.0,425.2 L396.3,425.9 L396.7,425.2 L397.0,425.1 L397.7,427.1 L398.4,424.9 L399.1,423.3 L399.7,423.8 L400.3,421.7 L401.0,423.0 L401.6,422.2 L402.2,419.7 L402.9,415.7 L403.6,416.1 L404.3,415.8 L404.6,416.9 L404.9,418.3 L405.2,418.5 L405.6,421.3 L405.9,421.6 L406.2,422.6 L406.5,425.3 L406.9,425.7 L407.2,426.8 L407.5,425.7 L407.9,424.7 L408.2,427.9 L408.6,431.6 L408.9,434.5 L409.2,435.8 L409.6,437.5 L409.9,439.0 L410.3,439.5 L410.6,440.1 L411.0,441.1 L411.3,442.3 L411.6,441.9 L412.0,441.7 L412.3,443.9 L412.7,443.4 L413.0,441.9 L413.6,443.3 L414.2,444.7 L414.8,445.0 L415.4,443.1 L416.0,440.8 L416.6,439.9 L417.2,439.3 L417.8,436.0 L418.4,432.8 L419.0,431.6 L419.6,431.8 L420.1,429.6 L420.7,428.1 L421.3,429.0 L421.8,429.8 L422.1,429.2 L422.4,430.4 L422.7,431.9 L423.0,431.8 L423.3,432.8 L423.6,432.9 L423.9,436.2 L424.1,437.1 L424.4,438.3 L424.7,440.9 L425.0,440.8 L425.2,442.5 L425.5,443.4 L425.8,446.8 L426.0,447.7 L426.3,448.3 L426.6,448.9 L426.9,450.0 L427.2,450.8 L427.5,452.1 L427.8,450.0 L428.1,452.5 L428.4,451.4 L428.8,453.9 L429.1,453.9 L429.5,454.3 L429.9,454.1 L430.3,454.8 L430.7,455.0 L431.1,455.4 L431.5,453.9 L432.0,451.5 L432.4,452.9 L432.9,449.2 L433.4,448.6 L433.8,448.9 L434.3,444.7 L434.7,444.7 L435.2,440.8 L435.7,441.2 L436.1,441.4 L436.6,440.7 L437.0,437.6 L437.4,436.8 L437.8,436.6 L438.2,436.6 L438.6,437.1 L439.0,435.7 L439.3,434.8 L440.0,433.6 L440.6,433.1 L441.1,430.6 L441.6,428.8 L442.0,429.5 L442.5,426.5 L442.9,426.7 L443.4,423.1 L443.9,424.7 L444.5,424.5 L445.2,422.3 L446.1,422.1 L447.1,422.4 L448.1,422.8 L449.2,422.6 L450.4,421.4 L451.5,420.4 L452.6,418.4 L453.7,417.9 L454.6,417.7 L455.4,418.0 L455.8,418.1 L456.2,421.7 L456.5,421.3 L456.8,423.2 L457.0,423.5 L457.2,427.0 L457.4,426.2 L457.6,429.1 L457.8,429.3 L458.0,430.4 L458.2,431.7 L458.5,432.3 L458.9,435.8 L459.3,436.5 L459.8,437.6 L460.3,436.9 L460.8,435.8 L461.4,435.7 L462.0,433.4 L462.7,431.5 L463.3,430.2 L464.0,430.6 L464.8,430.7 L465.5,428.4 L466.2,426.9 L467.0,425.3 L467.7,424.3 L468.4,424.1 L469.1,425.0 L469.8,423.5 L470.5,421.2 L471.1,420.8 L471.7,418.9 L472.6,421.7 L473.5,420.8 L474.3,422.1 L475.1,422.2 L475.9,424.2 L476.6,425.1 L477.4,426.2 L478.1,425.3 L478.9,425.7 L479.6,425.6 L480.4,424.1 L480.6,426.0 L480.8,425.6 L481.1,425.7 L481.3,424.3 L481.5,424.0 L481.7,423.2 L482.0,421.5 L482.2,422.8 L482.4,422.8 L482.7,420.1 L482.9,419.1 L483.1,415.1 L483.4,414.4 L483.6,415.2 L483.8,414.4 L484.1,412.7 L484.3,411.3 L484.5,412.3 L484.8,409.8 L485.0,407.8 L485.2,407.2 L485.4,405.2 L485.7,406.1 L485.9,403.0 L486.1,403.7 L486.3,402.2 L486.6,401.3 L486.8,401.5 L487.0,399.8 L487.2,397.8 L487.4,397.1 L487.6,396.0 L487.8,393.9 L488.0,392.1 L488.2,392.5 L488.4,395.6 L488.6,392.3 L488.8,389.6 L489.0,387.2 L489.2,389.4 L489.6,386.9 L490.0,386.9 L490.3,385.4 L490.7,383.9 L491.0,380.8 L491.3,380.9 L491.6,380.8 L491.9,378.8 L492.2,378.8 L492.5,378.4 L492.8,377.8 L493.1,375.6 L493.4,374.6 L493.7,372.3 L494.0,370.6 L494.3,371.9 L494.6,370.8 L495.0,370.4 L495.4,367.2 L495.9,367.4 L496.3,367.7 L496.8,367.7 L497.3,367.3 L497.7,365.3 L498.2,363.2 L498.7,358.7 L499.2,358.9 L499.7,361.9 L500.2,360.8 L500.7,361.8 L501.2,358.9 L501.8,359.8 L502.3,356.9 L503.1,356.8 L503.9,357.5 L504.7,357.5 L505.6,356.5 L506.4,356.4 L507.3,357.5 L508.2,358.4 L509.0,360.2 L509.7,361.3 L510.5,361.4 L511.1,362.4 L511.6,363.6 L512.1,365.4 L512.4,366.6 L512.8,368.0 L513.1,367.3 L513.4,369.4 L513.7,372.6 L514.0,373.9 L514.3,374.1 L514.6,375.9 L515.0,374.3 L515.5,373.6 L516.4,377.3 L517.4,378.4 L518.4,377.3 L519.5,376.5 L520.6,377.0 L521.7,374.4 L522.8,374.9 L523.5,372.8 L524.1,372.1 L524.8,370.6 L525.4,369.3 L526.1,367.8 L526.7,365.9 L527.4,364.3 L528.0,364.1 L528.7,364.1 L529.3,363.0 L530.0,365.3 L530.2,364.5 L530.5,364.7 L530.7,365.3 L531.0,366.0 L531.3,366.4 L531.5,367.1 L531.8,371.2 L532.0,373.4 L532.3,374.1 L532.6,374.2 L532.8,373.9 L533.1,373.1 L533.4,374.9 L533.6,379.7 L533.9,381.7 L534.1,381.2 L534.4,382.3 L534.6,385.6 L534.9,384.0 L535.1,384.4 L535.4,385.9 L535.6,387.5 L535.9,388.4 L536.1,391.1 L536.3,391.6 L536.6,392.1 L536.8,393.2 L537.0,395.1 L537.2,394.9 L537.4,395.4 L537.9,394.5 L538.3,395.9 L538.7,394.4 L539.0,393.8 L539.4,392.9 L539.7,394.3 L540.0,389.9 L540.3,389.1 L540.7,386.1 L541.0,386.1 L541.4,385.5 L541.6,384.8 L541.8,383.1 L542.0,383.3 L542.1,382.2 L542.3,382.2 L542.5,380.3 L542.7,375.9 L542.8,376.4 L543.0,374.5 L543.2,372.0 L543.4,373.7 L543.6,372.4 L543.8,371.1 L543.9,370.2 L544.1,366.7 L544.3,364.8 L544.5,365.6 L544.7,363.5 L544.9,361.5 L545.1,361.4 L545.3,362.3 L545.5,360.7 L545.7,360.9 L545.9,360.1 L546.1,357.4 L546.3,356.5 L546.5,356.9 L546.6,353.6 L546.8,354.2 L547.0,352.1 L547.2,351.9 L547.4,353.8 L547.6,352.0 L547.9,355.0 L548.2,353.5 L548.5,353.3 L548.8,352.8 L549.2,353.7 L549.5,356.3 L549.8,356.7 L550.1,358.5 L550.4,358.4 L550.7,360.6 L551.1,362.0 L551.4,361.6 L551.7,361.8 L552.0,365.0 L552.3,366.7 L552.6,368.4 L552.8,369.0 L553.1,371.7 L553.4,372.5 L553.6,371.9 L553.8,370.3 L554.0,370.6 L554.2,373.3 L554.4,376.4 L554.6,375.8 L554.8,375.9 L555.0,377.0 L555.2,377.6 L555.3,379.9 L555.5,380.0 L555.7,381.5 L555.9,385.0 L556.0,387.6 L556.2,390.0 L556.4,388.1 L556.6,388.0 L556.8,387.4 L557.1,389.1 L557.3,389.3 L557.5,390.2 L557.8,393.3 L558.3,394.5 L558.9,395.7 L559.5,398.1 L560.1,398.3 L560.7,400.1 L561.4,398.1 L562.0,398.9 L562.7,399.5 L563.3,400.4 L563.9,404.2 L564.5,405.4 L565.1,403.2 L565.9,403.0 L566.6,401.6 L567.3,399.1 L568.0,398.6 L568.7,400.1 L569.4,398.6 L570.2,397.4 L571.0,398.8 L571.4,398.5 L571.7,399.0 L572.1,399.6 L572.5,401.2 L572.9,401.0 L573.4,401.9 L573.8,401.6 L574.2,404.7 L574.6,403.9 L575.0,406.7 L575.5,407.8 L575.9,408.7 L576.3,410.7 L576.7,410.0 L577.1,411.7 L577.5,415.4 L577.8,416.5 L578.2,415.6 L578.5,417.7 L578.8,416.5 L579.1,415.9 L579.3,415.4 L579.6,414.6 L579.8,412.6 L580.0,412.3 L580.2,412.5 L580.4,413.1 L580.6,410.3 L580.8,408.2 L581.0,404.1 L581.2,403.9 L581.4,402.8 L581.6,403.2 L581.8,399.7 L582.1,399.8 L582.3,397.4 L582.5,396.4 L582.7,395.9 L583.0,395.8 L583.2,392.8 L583.5,393.6 L583.7,391.1 L584.0,389.2 L584.2,389.4 L584.5,389.0 L584.8,389.6 L585.1,386.8 L585.3,385.0 L585.6,385.6 L585.9,383.1 L586.2,381.3 L586.4,380.7 L586.7,377.9 L587.0,375.8 L587.3,375.0 L587.5,375.6 L587.8,374.0 L588.1,372.1 L588.3,371.5 L588.5,372.5 L588.8,371.1 L589.0,372.0 L589.2,370.6 L589.4,372.3 L589.5,371.5 L589.7,373.0 L589.9,374.7 L590.0,375.6 L590.2,379.2 L590.4,381.4 L590.5,381.1 L590.7,383.1 L590.9,384.7 L591.0,386.5 L591.2,386.8 L591.3,388.3 L591.5,390.5 L591.6,393.6 L591.7,393.9 L591.9,391.8 L592.0,392.9 L592.2,396.1 L592.3,397.3 L592.4,399.0 L592.5,400.1 L592.7,399.8 L592.8,402.1 L592.9,401.8 L593.0,401.5 L593.1,400.7 L593.2,399.8 L593.2,401.8 L593.3,402.8 L593.4,401.2 L593.4,401.2 L593.5,397.4 L593.5,398.7 L593.6,395.5 L593.6,395.3 L593.6,391.5 L593.7,391.3 L593.7,390.0 L593.7,389.7 L593.8,389.3 L593.8,388.6 L593.8,385.3 L593.9,383.5 L593.9,384.0 L593.9,381.8 L593.9,378.8 L594.0,378.4 L594.0,377.9 L594.0,376.5 L594.1,373.5 L594.1,374.3 L594.1,371.1 L594.2,370.9 L594.2,370.6 L594.3,369.3 L594.3,368.3 L594.4,367.3 L594.5,365.3 L594.5,363.7 L594.6,363.2 L594.7,365.1 L594.8,365.5 L594.9,364.5 L595.0,361.4 L595.1,362.4 L595.2,362.7 L595.3,365.0 L595.5,366.4 L595.6,367.1 L595.7,367.1 L595.9,369.2 L596.0,369.3 L596.1,372.7 L596.3,371.7 L596.4,373.1 L596.6,373.3 L596.7,371.9 L596.9,375.2 L597.1,378.6 L597.2,379.5 L597.4,379.8 L597.6,381.7 L597.7,381.3 L597.9,382.4 L598.1,386.4 L598.2,387.2 L598.4,389.5 L598.6,392.7 L598.7,393.6 L598.9,393.1 L599.0,395.8 L599.2,393.8 L599.4,397.4 L599.5,397.5 L599.7,399.5 L599.8,397.9 L599.9,399.9 L600.1,402.0 L600.2,401.3 L600.3,402.4 L600.5,404.1 L600.6,403.5 L600.7,401.6 L600.8,401.4 L600.9,402.0 L601.0,400.3 L601.1,401.6 L601.2,402.4 L601.3,402.7 L601.4,400.7 L601.4,400.3 L601.5,398.6 L601.6,397.5 L601.7,396.9 L601.7,394.9 L601.8,396.1 L601.9,392.1 L601.9,390.6 L602.0,388.9 L602.0,386.4 L602.1,384.3 L602.2,382.8 L602.2,382.2 L602.3,379.8 L602.3,378.1 L602.4,378.5 L602.4,376.2 L602.5,375.2 L602.6,375.6 L602.6,373.9 L602.7,372.8 L602.8,370.0 L602.8,369.0 L602.9,367.1 L603.0,366.5 L603.0,364.7 L603.1,363.8 L603.2,364.2 L603.3,364.2 L603.3,362.8 L603.4,362.4 L603.5,361.9 L603.6,359.5 L603.7,360.3 L603.8,361.9 L603.9,365.6 L604.0,363.7 L604.1,361.8 L604.2,363.6 L604.4,365.0 L604.5,366.1 L604.6,368.3 L604.7,368.0 L604.9,369.5 L605.0,371.4 L605.1,371.4 L605.3,372.1 L605.4,372.0 L605.5,371.3 L605.7,375.3 L605.8,377.1 L605.9,378.3 L606.1,377.8 L606.2,378.8 L606.3,381.9 L606.5,383.0 L606.6,383.7 L606.7,385.7 L606.8,388.6 L607.0,392.5 L607.1,392.5 L607.2,392.9 L607.3,391.9 L607.4,394.1 L607.5,395.4 L607.7,397.9 L607.8,397.0 L607.8,399.1 L607.9,399.0 L608.0,401.3 L608.1,400.7 L608.2,401.0 L608.2,400.8 L608.3,404.1" fill="none" stroke="#4040ff" stroke-width="2.5" stroke-linejoin="round" stroke-linecap="round" />
<path d="M106.0,465.8 L106.3,464.3 L106.7,464.8 L107.3,466.5 L107.8,467.6 L108.4,470.3 L109.0,469.4 L109.5,471.6 L110.1,471.5 L110.6,470.1 L111.2,468.3 L111.8,464.9 L112.4,463.1 L113.0,463.8 L113.4,461.1 L113.7,462.6 L114.1,458.3 L114.5,458.8 L114.9,459.7 L115.3,457.8 L115.7,454.5 L116.1,453.0 L116.5,451.3 L116.8,452.6 L117.1,451.0 L117.2,455.0 L117.4,456.2 L117.5,458.7 L117.6,457.7 L117.8,457.0 L117.9,459.8 L118.0,460.4 L118.1,461.1 L118.2,464.3 L118.3,463.9 L118.4,463.9 L118.5,465.1 L118.6,470.6 L118.6,471.9 L118.7,473.8 L118.8,473.6 L118.9,473.0 L119.1,473.2 L119.2,473.7 L119.3,476.9 L119.4,477.2 L119.6,475.7 L119.8,475.2 L120.0,473.6 L120.2,475.1 L120.4,475.2 L120.6,475.4 L120.8,469.5 L121.0,470.2 L121.3,464.2 L121.5,462.9 L121.7,463.5 L121.9,464.6 L122.2,461.1 L122.4,461.9 L122.9,460.8 L123.4,459.1 L123.9,459.1 L124.4,455.9 L124.9,454.7 L125.4,452.7 L125.9,452.6 L126.2,455.5 L126.5,457.4 L126.9,456.1 L127.2,459.8 L127.5,462.0 L127.8,465.5 L128.0,462.8 L128.3,461.5 L128.6,460.6 L128.8,463.2 L129.1,465.5 L129.4,464.3 L129.7,464.7 L129.9,461.4 L130.2,460.3 L130.5,462.2 L130.6,460.5 L130.8,461.3 L131.0,461.3 L131.1,461.2 L131.3,460.4 L131.5,465.9 L131.6,467.5 L131.8,468.2 L132.0,469.7 L132.2,473.7 L132.3,476.6 L132.5,474.2 L132.7,473.7 L132.9,472.0 L133.1,469.6 L133.2,470.7 L133.4,473.0 L133.6,470.9 L133.7,471.3 L133.9,470.7 L134.1,465.5 L134.3,464.5 L134.4,459.7 L134.6,461.3 L134.8,457.7 L135.0,457.5 L135.1,455.7 L135.3,456.7 L135.5,453.2 L135.6,455.0 L135.8,453.0 L135.9,455.3 L136.1,454.6 L136.2,458.3 L136.3,459.1 L136.5,458.0 L136.6,460.6 L136.7,461.5 L136.8,464.2 L137.0,465.6 L137.1,466.5 L137.2,469.0 L137.3,470.3 L137.4,470.9 L137.6,473.6 L137.7,470.3 L137.8,473.8 L138.0,473.8 L138.1,473.9 L138.3,477.2 L138.4,473.4 L138.6,472.0 L138.7,469.0 L138.9,471.3 L139.1,472.1 L139.2,468.7 L139.4,469.1 L139.6,467.1 L139.7,461.9 L139.9,461.2 L140.1,461.9 L140.3,459.5 L140.4,458.1 L140.6,458.5 L140.8,456.1 L141.0,457.6 L141.4,455.9 L141.7,458.3 L142.1,458.8 L142.5,457.5 L142.7,460.7 L142.9,463.6 L143.3,466.7 L143.7,465.2 L144.1,468.6 L144.5,467.4 L144.7,467.7 L144.8,467.3 L145.0,465.1 L145.1,467.0 L145.3,463.8 L145.4,464.8 L145.6,459.2 L145.7,460.3 L145.9,458.8 L146.0,456.6 L146.1,455.3 L146.3,455.9 L146.4,453.6 L146.6,451.4 L146.7,449.2 L146.8,448.0 L147.0,448.5 L147.1,444.3 L147.2,446.1 L147.4,443.5 L147.5,446.7 L147.7,446.7 L147.9,447.4 L148.0,445.2 L148.2,447.9 L148.4,447.3 L148.5,450.8 L148.7,454.1 L148.9,452.1 L149.0,452.6 L149.2,455.7 L149.3,456.0 L149.5,457.4 L149.6,460.4 L149.8,460.4 L150.1,462.4 L150.4,462.8 L150.6,463.0 L150.9,466.2 L151.2,466.7 L151.5,465.4 L151.8,464.7 L152.1,467.4 L152.3,467.4 L152.5,468.6 L152.6,467.3 L152.8,469.7 L153.0,469.9 L153.2,472.9 L153.4,475.9 L153.6,476.4 L153.8,476.7 L154.0,479.3 L154.2,477.0 L154.5,480.3 L154.7,478.6 L154.9,483.2 L155.1,483.0 L155.3,484.5 L155.4,482.5 L155.6,483.3 L155.8,480.1 L155.9,479.6 L156.1,476.7 L156.3,476.5 L156.5,478.1 L156.6,478.5 L156.8,475.0 L157.0,473.9 L157.2,475.7 L157.3,471.3 L157.5,469.7 L157.7,468.8 L157.8,465.7 L158.0,464.2 L158.2,461.5 L158.3,461.0 L158.5,462.0 L158.6,461.3 L159.0,462.3 L159.3,463.5 L159.6,463.2 L159.8,466.8 L159.9,467.1 L160.2,468.4 L160.5,469.0 L160.9,471.7 L161.1,470.4 L161.3,469.6 L161.5,463.3 L161.7,461.5 L162.0,459.8 L162.2,461.5 L162.5,459.3 L162.7,458.2 L162.9,458.5 L163.2,459.4 L163.4,456.0 L163.7,453.6 L163.9,451.7 L164.2,450.8 L164.4,453.0 L164.7,456.2 L165.0,455.4 L165.4,454.4 L165.7,454.4 L166.0,455.7 L166.3,460.8 L166.6,462.6 L166.9,462.3 L167.3,462.5 L167.6,463.7 L167.9,463.2 L168.3,464.7 L168.7,467.0 L169.1,468.3 L169.5,467.8 L169.9,470.9 L170.3,473.4 L170.7,474.2 L171.1,473.8 L171.4,475.1 L171.8,474.1 L172.2,474.1 L172.5,478.7 L172.8,479.6 L173.2,480.4 L173.5,481.2 L173.8,482.4 L173.9,480.5 L174.1,480.1 L174.2,479.1 L174.3,476.6 L174.4,476.5 L174.6,472.0 L174.7,474.2 L174.8,471.0 L174.9,472.7 L175.1,472.8 L175.2,473.1 L175.3,472.1 L175.5,469.9 L175.6,468.9 L175.8,467.5 L175.9,463.2 L176.1,462.5 L176.3,461.1 L176.5,457.5 L176.7,457.7 L176.9,456.6 L177.2,455.4 L177.4,454.1 L177.7,452.6 L177.9,451.9 L178.1,452.4 L178.4,451.4 L178.6,453.9 L178.9,451.7 L179.1,446.3 L179.4,443.8 L179.6,446.2 L180.0,443.1 L180.5,444.9 L181.4,443.4 L182.3,444.0 L183.1,443.5 L183.7,444.5 L184.2,442.5 L184.6,446.2 L185.2,449.6 L185.6,451.5 L186.0,454.8 L186.2,449.6 L186.3,449.7 L186.5,451.1 L186.7,449.8 L186.9,451.0 L187.1,451.6 L187.4,452.9 L187.6,454.3 L187.8,456.3 L188.0,457.7 L188.3,460.4 L188.5,463.7 L188.7,462.1 L189.0,462.5 L189.2,465.9 L189.5,465.7 L189.7,467.0 L189.9,468.4 L190.2,470.3 L190.4,469.8 L190.7,470.5 L190.9,474.9 L191.1,475.6 L191.4,476.2 L191.6,478.1 L191.8,477.0 L192.0,475.5 L192.4,476.8 L192.8,477.3 L193.1,477.8 L193.5,480.7 L193.8,485.1 L194.1,486.1 L194.5,488.0 L194.8,490.6 L195.2,493.9 L195.5,489.8 L195.9,488.6 L196.3,489.9 L196.8,487.7 L197.2,489.0 L197.4,488.6 L197.7,490.2 L197.9,489.8 L198.2,488.8 L198.4,489.0 L198.7,490.3 L198.9,489.7 L199.2,486.7 L199.4,485.8 L199.7,482.6 L199.9,483.2 L200.2,478.1 L200.5,477.9 L200.7,478.9 L201.0,479.0 L201.3,477.8 L201.6,475.4 L201.9,473.9 L202.2,472.0 L202.5,468.7 L202.9,468.1 L203.2,465.2 L203.5,463.7 L203.9,462.9 L204.2,462.3 L204.6,463.6 L205.0,462.6 L205.4,466.1 L205.8,463.4 L206.2,459.5 L206.6,456.2 L207.0,456.5 L207.5,458.0 L207.9,457.7 L208.4,456.9 L208.9,455.9 L209.4,456.9 L209.8,452.9 L210.3,449.3 L210.8,449.1 L211.3,447.9 L211.8,445.2 L212.3,444.8 L212.8,446.2 L213.3,446.8 L213.8,445.1 L214.3,443.9 L214.8,441.2 L215.3,441.7 L215.7,439.6 L216.2,438.0 L216.6,435.9 L217.0,437.8 L217.4,439.2 L217.8,438.9 L218.2,439.9 L218.8,440.5 L219.4,442.3 L219.9,442.0 L220.4,439.3 L220.9,442.7 L221.4,442.3 L221.8,442.1 L222.3,446.7 L222.7,446.5 L223.1,444.1 L223.5,444.2 L223.9,443.2 L224.4,447.8 L224.8,449.1 L225.2,451.1 L225.6,451.3 L226.1,455.1 L226.7,453.5 L227.3,452.2 L227.9,452.6 L228.5,456.9 L229.1,459.8 L229.7,463.3 L230.4,462.7 L231.0,464.7 L231.6,464.9 L232.2,465.5 L232.8,464.0 L233.4,465.2 L234.0,465.9 L234.2,465.9 L234.5,466.6 L234.7,463.9 L235.0,460.4 L235.2,459.4 L235.5,457.7 L235.7,460.1 L236.0,461.3 L236.3,457.0 L236.5,455.4 L236.8,452.0 L237.0,452.9 L237.3,448.5 L237.6,449.5 L237.8,448.1 L238.1,447.8 L238.3,446.2 L238.6,446.2 L238.8,442.9 L239.1,440.5 L239.3,440.9 L239.6,435.4 L239.8,434.0 L240.0,437.6 L240.3,437.1 L240.5,435.7 L240.7,433.7 L240.9,434.3 L241.1,433.1 L241.3,434.2 L241.5,434.7 L241.7,435.0 L241.9,430.8 L242.1,432.8 L242.3,430.3 L242.5,432.1 L242.6,431.4 L242.8,433.0 L242.9,434.2 L243.1,434.3 L243.2,432.6 L243.3,437.6 L243.4,436.1 L243.5,441.4 L243.6,443.8 L243.7,441.9 L243.8,447.1 L243.9,446.8 L244.0,447.0 L244.1,447.7 L244.3,449.3 L244.4,451.6 L244.5,451.8 L244.7,452.7 L244.8,455.6 L245.0,456.6 L245.2,459.3 L245.4,461.0 L245.6,460.7 L245.8,460.9 L246.4,461.5 L247.0,465.4 L247.7,465.9 L248.5,465.0 L249.3,465.4 L250.1,466.7 L250.9,465.1 L251.7,467.2 L252.6,467.2 L253.4,469.8 L254.2,468.3 L255.0,468.2 L255.2,465.6 L255.3,463.1 L255.5,462.6 L255.7,461.9 L255.8,459.7 L256.0,459.0 L256.2,461.5 L256.4,461.2 L256.5,461.9 L256.7,460.0 L256.9,459.6 L257.1,460.1 L257.2,456.0 L257.4,455.1 L257.6,453.0 L257.8,452.0 L257.9,454.5 L258.1,452.6 L258.3,453.7 L258.5,449.7 L258.6,449.8 L258.8,449.0 L259.0,445.8 L259.2,445.3 L259.3,440.1 L259.5,437.3 L259.7,435.9 L259.8,433.8 L260.0,433.7 L260.2,435.7 L260.4,434.0 L260.5,434.8 L260.7,433.9 L260.9,431.7 L261.0,433.0 L261.2,429.5 L261.4,424.0 L261.5,423.8 L261.7,424.2 L261.9,419.4 L262.0,419.5 L262.2,417.5 L262.4,419.1 L262.5,418.5 L262.7,417.8 L262.8,414.4 L263.0,414.8 L263.2,412.8 L263.3,411.1 L263.5,412.1 L263.6,411.3 L263.8,411.8 L263.9,411.2 L264.1,409.4 L264.2,410.3 L264.7,411.6 L265.1,411.9 L265.5,409.7 L265.9,410.4 L266.3,411.2 L266.7,413.7 L267.0,414.8 L267.4,415.5 L267.8,415.4 L268.1,416.1 L268.5,418.4 L268.8,421.3 L269.2,427.6 L269.6,426.4 L270.0,430.2 L270.4,427.8 L270.8,427.8 L271.5,428.7 L272.2,425.7 L272.9,426.5 L273.7,426.5 L274.4,423.9 L275.2,421.6 L275.9,419.8 L276.7,422.7 L277.4,419.6 L278.1,419.0 L278.7,419.1 L278.9,421.2 L279.2,422.4 L279.4,422.8 L279.6,424.1 L279.8,423.6 L280.0,421.6 L280.2,422.5 L280.3,425.0 L280.5,426.3 L280.7,430.2 L280.8,432.2 L281.0,433.9 L281.1,431.0 L281.3,432.9 L281.5,430.9 L281.7,433.0 L281.9,435.6 L282.1,435.3 L282.3,438.7 L282.5,436.9 L282.7,439.7 L283.0,442.5 L283.3,442.0 L283.6,446.2 L283.9,445.8 L284.2,444.7 L284.6,445.9 L285.4,445.6 L286.3,446.6 L287.3,448.8 L288.4,448.8 L289.5,450.8 L290.7,448.4 L291.9,449.6 L293.1,451.8 L294.3,451.5 L295.4,449.0 L296.5,446.3 L297.5,444.4 L298.4,445.3 L299.2,445.7 L299.6,446.7 L300.0,445.0 L300.4,444.9 L300.7,445.6 L301.0,442.7 L301.3,439.8 L301.5,439.6 L301.7,438.3 L302.0,434.6 L302.2,435.7 L302.4,431.8 L302.6,431.8 L302.7,431.7 L302.9,433.1 L303.1,430.6 L303.3,429.0 L303.5,426.5 L303.7,425.8 L303.9,424.8 L304.2,424.3 L304.4,424.7 L304.7,421.0 L305.0,422.8 L305.4,422.5 L305.8,420.9 L306.2,421.8 L306.6,423.7 L307.1,425.3 L307.5,424.8 L307.9,427.7 L308.4,431.3 L308.8,429.4 L309.3,430.7 L309.8,433.6 L310.3,434.0 L310.9,436.6 L311.4,438.4 L312.0,438.3 L312.6,438.7 L313.2,436.2 L313.8,437.9 L314.6,438.4 L315.5,440.4 L316.3,440.6 L317.3,439.3 L318.2,440.3 L319.2,443.2 L320.2,439.1 L321.2,441.1 L322.3,437.4 L323.3,437.6 L324.4,438.5 L325.4,437.7 L326.4,436.8 L327.4,433.6 L328.4,434.1 L329.4,435.6 L330.3,433.3 L331.3,433.1 L332.3,432.0 L333.3,431.9 L334.2,432.0 L335.2,432.5 L336.2,431.7 L337.2,433.7 L338.1,433.9 L339.1,430.7 L340.1,431.5 L341.1,429.7 L342.0,427.7 L343.0,429.1 L343.9,429.5 L344.8,431.0 L345.8,430.7 L346.7,431.2 L347.7,430.7 L348.6,430.3 L349.5,433.1 L350.5,435.7 L351.4,435.1 L352.3,434.1 L353.3,436.3 L354.2,439.2 L355.0,437.7 L355.9,438.8 L356.8,441.3 L357.6,439.7 L358.3,436.1 L359.0,439.3 L359.6,438.3 L360.3,437.0 L360.9,435.8 L361.5,431.2 L362.1,428.7 L362.7,430.4 L363.3,429.7 L363.9,429.1 L364.5,427.2 L365.1,425.8 L365.7,424.9 L366.3,426.1 L366.9,421.2 L367.5,419.8 L368.1,420.1 L368.7,418.5 L369.3,420.1 L370.3,419.7 L371.3,419.9 L372.2,424.1 L373.2,421.3 L374.2,422.0 L375.2,421.9 L376.1,425.3 L377.1,426.8 L378.1,426.6 L379.1,427.6 L380.0,428.1 L381.0,425.8 L381.3,426.8 L381.5,426.0 L381.8,424.2 L382.0,424.2 L382.3,421.2 L382.6,423.8 L382.8,423.8 L383.1,419.6 L383.4,417.7 L383.6,419.5 L383.9,414.9 L384.2,413.9 L384.4,415.6 L384.7,414.2 L385.0,414.8 L385.3,411.0 L385.5,408.9 L385.8,408.5 L386.1,407.8 L386.4,407.8 L386.6,406.8 L386.9,404.4 L387.2,402.9 L387.4,401.2 L387.7,399.1 L388.0,400.1 L388.2,396.8 L388.5,393.5 L388.7,391.7 L389.0,392.7 L389.2,390.6 L389.5,388.0 L389.7,390.0 L390.0,390.8 L390.2,387.6 L390.5,388.4 L390.7,387.8 L390.9,385.8 L391.1,381.2 L391.4,381.9 L391.6,381.5 L391.8,382.0 L392.0,383.0 L392.2,381.3 L392.4,380.3 L392.6,382.0 L393.0,382.4 L393.4,382.3 L393.7,380.0 L394.1,381.4 L394.4,384.2 L394.7,383.2 L395.0,383.2 L395.3,387.5 L395.5,387.5 L395.8,389.4 L396.0,390.1 L396.3,389.7 L396.5,390.3 L396.8,389.4 L397.0,393.8 L397.2,396.9 L397.5,398.4 L397.7,398.2 L398.0,401.3 L398.2,401.5 L398.5,403.6 L399.1,402.8 L399.6,401.7 L400.2,401.7 L400.7,398.8 L401.2,398.7 L401.8,393.8 L402.3,394.1 L403.0,391.6 L403.6,390.1 L404.3,392.1 L404.6,390.3 L404.9,391.3 L405.2,393.8 L405.6,392.6 L405.9,396.3 L406.2,399.2 L406.5,400.7 L406.9,401.2 L407.2,402.5 L407.6,401.8 L407.9,403.1 L408.3,404.6 L408.6,405.2 L409.0,405.8 L409.4,406.2 L409.8,407.3 L410.2,408.4 L410.7,409.1 L411.1,410.1 L411.5,413.9 L412.0,413.8 L412.5,415.6 L413.0,416.9 L413.6,415.2 L414.3,416.5 L415.0,416.2 L415.8,414.5 L416.6,409.8 L417.4,411.4 L418.2,411.5 L419.0,408.4 L419.8,407.6 L420.7,409.6 L421.5,409.4 L422.4,406.5 L423.2,408.4 L424.0,405.0 L424.8,405.3 L425.6,401.4 L426.3,400.6 L427.0,398.6 L427.7,402.8 L428.8,402.7 L429.9,401.6 L430.9,402.0 L431.9,402.5 L432.8,403.2 L433.7,402.1 L434.6,402.8 L435.4,404.1 L436.3,404.8 L437.1,405.8 L437.9,409.8 L438.3,409.1 L438.6,412.6 L439.0,411.5 L439.3,411.7 L439.6,411.0 L439.9,411.5 L440.2,414.2 L440.5,416.3 L440.8,414.4 L441.1,415.5 L441.4,417.2 L441.7,414.6 L442.0,414.5 L442.3,415.9 L442.6,418.9 L442.9,420.6 L443.2,424.0 L443.4,424.3 L443.7,425.9 L444.0,428.8 L444.3,430.0 L444.6,431.0 L444.9,431.2 L445.2,432.5 L445.5,434.1 L445.7,432.5 L446.0,434.2 L446.2,435.4 L446.5,438.1 L446.7,438.3 L447.0,440.6 L447.2,440.5 L447.4,441.9 L447.7,442.1 L447.9,442.4 L448.2,442.8 L448.4,443.2 L448.7,442.5 L448.9,445.5 L449.2,445.0 L449.4,446.0 L449.7,449.1 L449.9,447.9 L450.2,447.8 L450.5,452.4 L450.7,454.5 L451.0,456.9 L451.3,458.8 L451.6,458.8 L451.9,460.9 L452.2,458.9 L452.5,461.1 L453.2,461.7 L453.9,459.2 L454.7,458.4 L455.5,458.5 L456.3,458.9 L457.1,458.6 L457.9,454.7 L458.7,452.7 L459.6,452.8 L460.4,452.8 L461.2,451.2 L461.9,447.9 L462.7,444.9 L463.6,445.8 L464.5,445.5 L465.4,443.9 L466.3,444.5 L467.1,447.9 L468.0,446.1 L468.8,446.8 L469.7,444.4 L470.7,440.7 L471.7,444.0 L472.1,444.2 L472.5,440.6 L472.9,442.1 L473.4,438.8 L473.8,442.2 L474.3,437.5 L474.7,438.4 L475.2,436.8 L475.7,435.6 L476.1,435.4 L476.6,431.7 L477.1,433.4 L477.6,431.5 L478.0,428.5 L478.5,428.2 L479.0,428.5 L479.5,428.4 L479.9,429.0 L480.4,427.6 L480.8,427.9 L481.3,428.7 L481.7,426.1 L482.2,422.3 L482.6,421.2 L483.0,420.5 L483.4,421.0 L483.8,419.0 L484.1,418.8 L484.5,421.0 L484.8,417.5 L485.2,418.1 L485.5,414.0 L485.8,413.1 L486.1,411.8 L486.4,413.0 L486.7,413.0 L487.0,410.8 L487.3,407.0 L487.6,406.3 L487.9,402.7 L488.2,401.5 L488.5,399.5 L488.8,398.9 L489.1,398.6 L489.4,397.3 L489.7,396.1 L490.0,396.2 L490.3,394.5 L490.7,395.2 L491.0,396.8 L491.4,395.2 L491.7,394.2 L492.1,395.2 L493.0,394.4 L493.9,391.8 L494.9,393.3 L495.9,391.8 L496.9,392.0 L497.9,392.7 L499.0,393.6 L500.0,394.9 L501.0,393.0 L502.0,396.1 L502.9,398.3 L503.8,399.9 L504.5,397.5 L505.1,400.0 L505.7,398.1 L506.2,395.9 L506.7,396.4 L507.3,395.3 L507.8,394.3 L508.3,389.2 L508.8,388.6 L509.3,389.4 L509.9,387.3 L510.5,388.3 L511.2,385.5 L511.9,386.0 L512.6,385.4 L513.2,383.4 L514.0,381.5 L514.7,381.4 L515.5,381.9 L516.3,380.7 L517.2,379.9 L518.1,379.3 L518.9,379.4 L519.8,379.2 L520.7,375.9 L521.6,373.3 L522.4,371.5 L523.3,372.5 L524.1,373.3 L524.8,374.4 L525.5,370.0 L526.1,369.0 L526.7,369.8 L527.2,371.4 L527.7,370.2 L528.0,373.4 L528.3,374.2 L528.5,373.4 L528.7,374.9 L528.8,373.8 L528.9,378.2 L528.9,376.0 L529.0,381.0 L529.0,383.4 L529.0,384.1 L529.1,384.7 L529.2,387.0 L529.3,390.8 L529.5,387.7 L529.7,388.3 L530.0,387.9 L530.3,387.6 L530.7,389.3 L531.1,386.1 L531.5,387.8 L531.9,386.9 L532.4,384.5 L532.9,385.9 L533.3,385.2 L533.8,383.8 L534.4,382.9 L534.9,381.2 L535.4,382.9 L536.0,378.4 L536.5,375.4 L537.1,372.2 L537.7,373.6 L538.2,372.2 L538.8,370.8 L539.8,370.1 L540.8,372.1 L541.9,371.0 L543.0,370.6 L544.1,368.4 L545.2,368.6 L546.3,366.6 L547.4,370.1 L548.5,371.4 L549.5,370.8 L550.5,369.9 L551.6,370.6 L552.7,370.9 L553.7,370.1 L554.6,369.5 L555.6,373.2 L556.5,374.2 L557.4,376.5 L558.3,372.4 L559.3,375.1 L560.0,376.0 L560.8,373.7 L561.5,377.3 L562.3,379.4 L563.1,379.7 L563.8,378.1 L564.6,377.3 L565.3,378.7 L566.0,377.4 L566.7,377.4 L567.4,380.8 L568.0,379.1 L568.6,380.3 L569.2,382.4 L569.8,387.8 L570.3,389.8 L570.9,388.6 L571.4,389.7 L571.9,388.3 L572.4,388.2 L572.9,391.2 L573.4,390.1 L574.0,389.7 L574.4,392.2 L574.9,389.2 L575.3,391.9 L575.7,390.1 L576.2,389.8 L576.6,388.5 L577.1,387.9 L577.5,385.7 L578.0,382.6 L578.5,382.7 L579.0,383.5 L579.4,383.8 L579.9,381.5 L580.4,382.4 L580.9,382.0 L581.2,380.5 L581.6,378.2 L581.9,378.2 L582.3,381.3 L582.6,379.6 L583.0,382.7 L583.3,384.6 L583.7,388.0 L584.1,389.5 L584.5,387.3 L584.8,387.0 L585.2,391.5 L585.6,390.7 L585.9,392.8 L586.3,393.6 L586.7,397.2 L587.0,398.1 L587.4,400.2 L587.7,400.4 L588.0,401.2 L588.4,403.3 L588.7,401.2 L589.0,400.0 L589.2,402.8 L589.4,400.8 L589.5,396.9 L589.7,396.8 L589.9,394.6 L590.1,393.0 L590.3,394.9 L590.4,394.7 L590.6,394.6 L590.8,393.4 L591.0,390.9 L591.1,389.2 L591.3,390.2 L591.5,388.4 L591.7,385.2 L591.8,384.6 L592.0,382.4 L592.2,384.2 L592.3,380.6 L592.5,382.6 L592.6,379.7 L592.8,378.7 L592.9,377.0 L593.1,373.4 L593.2,375.2 L593.4,374.7 L593.5,370.4 L593.7,370.3 L593.8,369.1 L593.9,370.1 L594.1,369.2 L594.2,367.9 L594.3,364.7 L594.4,365.7 L594.6,363.6 L594.7,362.9 L594.8,362.0 L594.9,362.9 L595.0,363.4 L595.1,364.2 L595.2,363.1 L595.3,362.7 L595.4,362.5 L595.5,363.6 L595.6,363.6 L595.6,367.0 L595.7,370.5 L595.7,373.3 L595.8,371.6 L595.8,373.3 L595.9,374.3 L595.9,373.3 L596.0,372.4 L596.0,374.0 L596.1,379.4 L596.1,379.9 L596.2,380.0 L596.2,383.7 L596.3,383.8 L596.3,387.7 L596.4,387.4 L596.4,385.2 L596.5,387.6 L596.5,387.8 L596.6,389.9 L596.7,392.8 L596.8,394.5 L596.9,396.1 L597.0,395.9 L597.1,397.4 L597.2,398.0 L597.3,396.7 L597.5,399.3 L597.6,396.2 L597.8,399.2 L597.9,395.4 L598.1,396.4 L598.2,393.1 L598.4,388.9 L598.6,389.8 L598.8,387.1 L599.0,385.2 L599.2,387.9 L599.4,387.4 L599.6,384.2 L599.8,379.5 L600.0,379.9 L600.1,375.3 L600.3,377.9 L600.5,375.6 L600.7,374.4 L600.9,373.3 L601.1,371.5 L601.3,368.3 L601.5,367.3 L601.7,365.3 L601.9,364.2 L602.1,363.5 L602.2,362.7 L602.4,363.3 L602.5,365.6 L602.7,363.5 L602.8,364.8 L603.0,359.7 L603.1,357.9 L603.2,361.5 L603.3,363.1 L603.4,365.0 L603.5,364.1 L603.6,366.1 L603.7,365.2 L603.8,365.4 L603.9,367.1 L604.0,368.7 L604.1,370.4 L604.1,368.8 L604.2,368.2 L604.3,370.0 L604.3,373.3 L604.4,375.2 L604.4,375.2 L604.5,378.2 L604.6,377.8 L604.6,379.5 L604.7,380.7 L604.7,384.9 L604.8,386.9 L604.8,387.7 L604.9,387.0 L604.9,389.6 L605.0,389.7 L605.0,392.4 L605.1,391.8 L605.1,393.0 L605.2,392.5 L605.3,391.6 L605.3,392.6 L605.4,392.8 L605.5,393.9 L605.6,393.1 L605.7,395.0 L605.8,394.3 L605.9,394.0 L606.1,393.1 L606.2,392.2 L606.3,389.6 L606.4,389.8 L606.5,386.7 L606.6,385.7 L606.7,382.0 L606.9,382.3 L607.0,379.0 L607.1,381.0 L607.2,377.2 L607.3,380.4 L607.4,378.9 L607.4,374.4 L607.5,374.0 L607.6,372.5 L607.6,372.2 L607.7,370.2" fill="none" stroke="#4040ff" stroke-width="2.4" stroke-linejoin="round" stroke-dasharray="2 1.6" stroke-linecap="butt" />
<path d="M106.0,582.6 L106.0,583.9 L106.0,584.2 L106.0,588.4 L106.0,588.0 L106.0,588.3 L106.0,590.7 L106.0,590.7 L106.0,593.2 L106.0,595.3 L106.0,594.1 L106.0,596.0 L106.0,597.3 L106.1,598.5 L106.1,601.1 L106.1,602.6 L106.1,601.7 L106.1,602.8 L106.1,603.8 L106.1,605.1 L106.2,604.8 L106.2,607.7 L106.2,606.8 L106.3,609.9 L106.3,608.5 L106.3,610.0 L106.4,609.7 L106.4,611.4 L106.5,610.6 L106.6,612.4 L106.7,611.6 L106.9,612.0 L107.0,610.7 L107.2,608.9 L107.4,607.9 L107.5,608.4 L107.7,605.8 L107.9,605.0 L108.1,605.6 L108.3,603.8 L108.5,601.9 L108.7,600.4 L108.9,600.4 L109.1,597.7 L109.3,595.5 L109.5,592.7 L110.0,592.1 L110.6,593.5 L111.7,593.7 L113.0,593.9 L113.7,591.4 L114.5,590.7 L115.3,590.9 L116.2,587.9 L117.0,587.2 L117.7,589.8 L118.2,590.7 L118.7,591.8 L119.1,592.6 L119.5,592.4 L119.9,594.9 L120.4,594.6 L120.8,594.1 L121.2,595.0 L121.5,597.9 L121.7,598.7 L122.0,600.3 L122.2,602.0 L122.5,599.9 L122.7,601.0 L123.0,604.7 L123.2,604.0 L123.5,606.2 L123.7,607.5 L124.0,607.3 L124.2,608.4 L124.5,609.4 L124.7,612.7 L125.0,611.5 L125.4,612.4 L125.7,610.5 L126.0,609.6 L126.3,607.0 L126.7,608.3 L127.0,604.4 L127.3,605.0 L127.6,600.9 L128.3,600.5 L129.1,600.5 L129.8,601.0 L130.2,599.7 L130.5,600.7 L130.7,597.9 L130.8,596.5 L130.9,596.7 L131.1,595.2 L131.2,593.8 L131.3,593.0 L131.5,590.9 L131.6,586.8 L131.7,587.2 L131.9,585.9 L132.0,582.8 L132.1,583.8 L132.3,584.9 L132.4,583.8 L132.6,582.4 L132.7,581.2 L132.9,581.7 L133.2,578.5 L133.6,580.1 L134.0,580.0 L134.4,582.3 L134.8,583.9 L135.2,584.7 L135.6,586.9 L136.0,587.5 L136.4,586.5 L137.6,589.5 L138.7,589.5 L139.9,589.2 L140.5,589.6 L141.1,589.1 L141.7,586.4 L142.2,584.6 L142.8,583.0 L143.4,583.3 L144.1,582.8 L144.8,584.0 L145.5,583.6 L146.2,586.1 L146.9,589.2 L147.6,591.8 L148.3,592.4 L149.0,592.6 L149.7,596.5 L150.4,595.3 L151.6,596.6 L152.7,595.6 L153.9,596.0 L154.4,595.0 L154.9,593.6 L155.4,592.5 L155.9,590.7 L156.4,590.4 L156.9,589.1 L157.4,586.0 L158.3,587.3 L159.2,589.3 L160.1,590.3 L160.9,591.6 L161.4,592.3 L161.8,592.1 L162.3,593.7 L162.7,593.3 L163.2,594.7 L164.0,595.9 L164.8,596.2 L165.7,596.4 L166.7,596.5 L167.4,596.4 L168.2,596.0 L169.0,597.1 L169.9,597.0 L170.7,600.1 L171.4,602.3 L172.2,600.8 L172.9,599.6 L173.6,598.1 L174.2,594.5 L174.9,594.2 L175.5,594.9 L176.1,591.8 L176.7,591.1 L177.2,588.7 L177.8,587.8 L178.4,589.6 L178.7,589.1 L179.0,590.6 L179.3,593.1 L179.6,594.1 L180.0,595.6 L180.3,595.8 L180.6,595.6 L180.9,595.8 L181.2,595.5 L181.6,596.3 L181.9,598.4 L182.5,596.9 L183.2,599.3 L183.9,596.6 L184.6,596.5 L185.3,595.1 L186.0,593.2 L186.3,594.3 L186.6,591.9 L186.9,591.4 L187.2,591.0 L187.5,588.8 L187.8,586.9 L188.1,584.4 L188.4,582.2 L188.8,583.0 L189.2,581.5 L189.6,580.9 L190.0,583.4 L190.5,583.6 L190.9,583.9 L191.3,585.9 L191.8,584.5 L192.3,584.9 L192.8,588.0 L193.3,588.0 L193.8,589.4 L194.4,591.6 L194.9,592.3 L195.5,592.1 L196.0,591.1 L196.6,590.8 L197.1,590.7 L197.7,594.3 L198.2,594.6 L198.8,596.2 L199.3,595.7 L200.0,595.3 L200.8,598.3 L201.5,596.5 L202.2,595.6 L202.9,594.2 L203.7,591.7 L204.4,593.0 L205.1,592.4 L205.8,589.7 L206.5,590.7 L207.3,590.4 L208.0,587.9 L208.9,589.1 L209.8,585.3 L210.6,585.8 L211.5,585.0 L212.4,581.4 L213.3,580.8 L214.2,578.7 L215.0,579.6 L215.9,578.3 L216.8,579.7 L217.7,579.9 L218.5,580.6 L219.4,582.6 L220.3,581.7 L221.2,583.1 L222.0,585.2 L222.9,586.4 L223.8,587.0 L224.6,586.2 L225.5,585.7 L225.8,585.9 L226.2,584.3 L226.5,584.7 L226.9,582.8 L227.2,583.0 L227.6,584.5 L227.9,583.4 L228.3,580.3 L228.7,580.1 L229.0,577.0 L229.4,578.4 L229.7,577.2 L230.1,575.9 L230.4,574.2 L230.8,571.6 L231.1,572.1 L231.5,572.2 L231.8,572.2 L232.1,570.5 L232.5,567.8 L232.8,566.9 L233.1,565.6 L233.4,565.6 L233.7,565.4 L234.0,565.5 L234.3,562.3 L235.0,560.3 L235.7,560.7 L236.8,560.2 L237.9,558.2 L239.0,561.5 L240.1,561.8 L240.7,565.5 L241.2,565.1 L241.8,565.1 L242.3,566.6 L242.9,569.0 L243.4,570.0 L244.0,568.1 L244.6,570.8 L245.3,570.8 L246.0,573.0 L246.3,572.3 L246.5,569.9 L246.8,570.6 L247.1,567.9 L247.4,568.9 L247.6,565.7 L247.9,563.9 L248.2,562.0 L248.5,560.1 L248.8,559.8 L249.2,558.5 L249.5,558.7 L249.8,556.1 L250.1,554.3 L250.4,552.4 L250.7,549.9 L251.1,550.4 L251.4,548.3 L251.7,546.3 L252.0,546.2 L252.3,546.7 L252.6,543.9 L252.9,543.7 L253.2,542.5 L253.5,542.8 L253.8,542.0 L254.1,540.3 L254.4,542.6 L254.7,541.1 L255.0,542.2 L255.2,541.1 L255.5,543.7 L255.7,544.5 L255.9,545.3 L256.2,546.2 L256.4,548.2 L256.6,548.8 L256.9,551.2 L257.1,551.5 L257.3,552.2 L257.6,553.5 L257.8,554.8 L258.0,557.8 L258.2,559.4 L258.5,559.8 L258.7,561.4 L258.9,563.1 L259.1,562.6 L259.4,565.0 L259.6,564.6 L259.8,565.5 L260.0,566.7 L260.3,569.1 L260.5,570.2 L260.8,572.6 L261.0,574.6 L261.2,573.8 L261.5,572.6 L261.7,573.5 L262.0,570.7 L262.2,571.3 L262.4,571.8 L262.7,572.0 L262.9,573.5 L263.1,571.9 L263.4,571.5 L263.6,570.9 L263.9,570.4 L264.1,571.5 L264.4,567.2 L264.6,565.5 L264.9,562.5 L265.2,560.2 L265.4,562.1 L265.7,561.8 L265.9,558.0 L266.2,556.1 L266.5,554.6 L266.7,553.4 L267.0,552.2 L267.2,552.0 L267.5,549.5 L267.7,549.2 L268.0,549.5 L268.2,547.9 L268.5,542.9 L268.7,542.7 L268.9,541.1 L269.2,539.2 L269.4,539.1 L269.6,538.6 L269.8,540.4 L270.0,539.8 L270.2,540.1 L270.4,538.0 L270.6,535.8 L270.8,535.0 L271.2,534.6 L271.5,532.8 L271.8,535.3 L272.1,536.4 L272.3,538.7 L272.6,537.8 L272.8,539.8 L273.1,543.1 L273.3,544.9 L273.5,545.8 L273.7,549.2 L273.9,548.0 L274.1,550.9 L274.3,551.3 L274.5,553.1 L274.7,553.8 L275.0,555.0 L275.2,553.2 L275.6,553.3 L275.9,555.1 L276.3,555.1 L276.6,556.9 L277.3,559.4 L278.0,559.8 L278.8,558.4 L279.6,559.5 L279.8,558.2 L280.0,556.8 L280.1,556.5 L280.3,556.1 L280.5,554.0 L280.7,554.3 L280.9,551.1 L281.1,550.3 L281.3,549.4 L281.6,548.0 L281.8,545.4 L282.0,545.8 L282.2,543.5 L282.4,543.4 L282.6,541.7 L282.8,540.1 L283.0,538.7 L283.2,537.0 L283.4,538.1 L283.7,535.4 L283.9,535.2 L284.1,533.9 L284.3,531.5 L284.5,529.5 L284.7,530.1 L284.9,529.0 L285.0,530.5 L285.2,528.3 L285.4,528.4 L285.8,527.2 L286.2,526.6 L286.5,528.8 L286.8,530.8 L287.1,531.3 L287.5,532.8 L287.8,537.2 L288.2,536.3 L288.6,538.5 L289.2,539.0 L289.8,541.1 L290.3,540.2 L290.8,539.3 L291.3,538.5 L291.9,538.7 L292.5,535.6 L293.1,536.3 L293.8,534.0 L294.4,532.9 L295.1,533.5 L295.8,531.8 L296.5,531.7 L297.2,531.1 L297.9,528.4 L298.5,528.3 L299.2,526.4 L299.9,526.1 L300.5,524.7 L301.4,525.1 L302.3,526.6 L303.2,529.1 L304.1,528.8 L305.1,527.1 L306.0,529.6 L306.9,531.4 L307.8,531.2 L308.6,534.3 L309.5,534.0 L310.2,533.4 L311.0,532.5 L312.2,534.0 L313.2,534.2 L314.1,532.4 L314.9,531.8 L315.8,529.0 L316.8,529.3 L318.0,527.8 L318.5,527.1 L319.1,525.8 L319.6,525.6 L320.2,526.4 L320.8,525.7 L321.4,522.7 L322.1,521.2 L322.7,520.8 L323.4,519.2 L324.0,518.7 L324.7,516.6 L325.3,516.2 L326.0,516.5 L326.6,518.5 L327.2,517.9 L327.9,516.7 L328.5,516.2 L329.3,516.9 L330.0,516.0 L330.8,518.8 L331.6,518.3 L332.4,515.9 L333.2,517.4 L334.0,519.0 L334.7,519.6 L335.5,524.4 L336.3,525.5 L337.0,524.8 L337.7,525.1 L338.4,525.2 L339.0,523.4 L340.0,523.2 L341.0,526.5 L341.8,527.3 L342.6,529.0 L343.4,530.7 L344.2,530.5 L345.1,529.3 L346.0,529.2 L346.5,530.0 L347.1,532.4 L347.6,533.7 L348.2,536.2 L348.8,536.5 L349.4,538.6 L350.0,540.8 L350.6,542.0 L351.2,541.5 L351.8,540.9 L352.4,540.5 L353.0,542.9 L353.6,543.6 L354.2,545.4 L354.8,544.6 L355.3,545.6 L355.8,545.3 L356.2,543.9 L356.7,542.0 L357.2,538.0 L357.7,537.9 L358.1,539.0 L358.6,539.4 L359.1,536.7 L359.6,535.4 L360.1,532.0 L360.5,531.2 L361.0,531.3 L361.5,529.0 L362.0,529.9 L362.6,528.0 L363.1,525.1 L363.6,525.6 L364.3,525.6 L365.0,523.1 L365.8,523.4 L366.6,523.2 L367.3,520.5 L368.1,519.7 L368.9,519.5 L369.7,519.2 L370.5,519.2 L371.2,518.2 L372.0,517.2 L372.7,519.7 L373.4,518.2 L374.0,520.1 L374.6,521.0 L375.1,521.8 L375.7,520.7 L376.2,520.6 L376.7,521.0 L377.2,520.6 L377.6,521.9 L378.1,523.6 L378.5,523.7 L379.0,525.3 L379.4,527.6 L379.8,527.9 L380.3,530.0 L380.7,530.5 L381.1,532.6 L381.5,531.8 L381.8,531.7 L382.2,531.9 L382.5,528.9 L382.8,527.9 L383.1,527.0 L383.4,525.4 L383.7,523.4 L383.9,522.2 L384.2,522.5 L384.6,521.7 L384.9,518.1 L385.2,519.0 L385.6,517.7 L386.0,516.4 L386.4,516.7 L386.8,515.8 L387.2,517.3 L387.6,519.1 L388.1,518.7 L388.5,520.4 L389.0,520.4 L389.5,523.2 L389.9,524.2 L390.4,523.0 L390.9,526.0 L391.4,528.4 L391.9,526.5 L392.5,527.6 L393.0,529.8 L393.5,529.7 L394.0,528.6 L394.6,527.6 L395.1,530.5 L395.9,529.2 L396.7,532.9 L397.6,530.0 L398.5,530.5 L399.3,530.0 L400.2,529.7 L401.1,529.3 L402.0,527.4 L402.9,527.9 L403.8,525.3 L404.7,524.6 L405.6,527.0 L406.1,526.0 L406.5,527.3 L407.0,526.4 L407.4,528.9 L407.9,529.1 L408.3,530.2 L408.8,530.0 L409.3,529.5 L409.7,530.5 L410.2,533.3 L410.6,535.7 L411.1,536.2 L411.5,537.2 L412.0,536.9 L412.4,537.6 L412.9,540.4 L413.4,541.3 L413.8,541.1 L414.3,543.6 L414.7,542.5 L415.2,544.6 L415.6,544.1 L416.1,544.2 L417.1,546.2 L418.0,546.9 L419.0,546.9 L419.9,547.5 L420.9,549.0 L421.8,550.8 L422.8,550.4 L423.7,549.5 L424.7,548.4 L425.6,549.4 L426.6,546.9 L427.4,549.2 L428.2,547.5 L429.0,546.4 L429.9,546.7 L430.7,548.3 L431.5,547.6 L432.3,545.2 L433.1,544.2 L433.9,544.1 L434.8,543.6 L435.6,542.5 L436.4,542.1 L437.2,541.6 L438.1,541.5 L439.0,539.8 L439.8,539.4 L440.7,541.0 L441.6,541.2 L442.5,543.5 L443.3,543.8 L444.2,544.7 L445.1,546.7 L446.0,546.9 L446.8,545.4 L447.7,543.8 L448.7,547.4 L449.6,546.6 L450.6,548.5 L451.5,549.6 L452.5,549.0 L453.4,548.1 L454.4,550.2 L455.3,549.4 L456.3,552.1 L457.2,551.0 L458.2,552.1 L459.3,551.5 L460.3,551.8 L461.4,549.6 L462.5,547.9 L463.6,549.3 L464.7,550.6 L465.7,553.1 L466.8,553.8 L467.8,553.5 L468.7,552.3 L469.6,550.4 L470.5,552.6 L471.3,552.2 L472.1,553.0 L472.9,553.7 L473.6,556.4 L474.3,555.2 L475.1,557.9 L475.8,557.1 L476.5,557.7 L477.0,559.1 L477.6,556.7 L478.1,556.6 L478.6,557.4 L479.1,555.8 L479.5,554.8 L480.0,554.3 L480.5,556.4 L481.0,553.9 L481.4,552.9 L481.9,548.7 L482.4,547.6 L482.9,547.5 L483.1,545.8 L483.4,547.3 L483.6,544.5 L483.8,543.9 L484.0,544.1 L484.3,542.0 L484.5,541.2 L484.8,541.1 L485.0,539.3 L485.2,537.6 L485.5,537.5 L485.7,536.9 L486.0,534.1 L486.2,535.6 L486.4,534.2 L486.7,531.3 L486.9,529.9 L487.1,530.2 L487.4,529.0 L487.6,526.7 L487.8,527.3 L488.0,525.9 L488.2,525.0 L488.4,522.0 L488.6,522.2 L488.8,521.1 L489.0,521.9 L489.2,521.0 L489.4,520.5 L489.6,518.7 L489.8,516.5 L490.0,517.6 L490.2,515.8 L490.3,516.8 L490.5,513.6 L490.7,511.3 L490.8,509.7 L491.0,508.6 L491.1,507.5 L491.3,505.5 L491.4,504.4 L491.5,501.9 L491.7,501.9 L491.8,500.4 L491.9,500.4 L492.1,499.6 L492.2,501.4 L492.4,500.0 L492.5,501.2 L492.7,500.6 L492.8,497.7 L493.0,497.4 L493.2,495.9 L493.5,494.7 L493.8,492.2 L494.1,490.5 L494.4,490.2 L494.8,485.7 L495.1,486.4 L495.5,484.9 L495.8,483.2 L496.2,482.9 L496.5,481.5 L496.8,479.9 L497.1,478.2 L497.4,478.0 L497.7,478.9 L498.0,479.8 L498.2,480.3 L498.5,482.0 L498.8,479.3 L499.0,479.8 L499.2,478.8 L499.4,482.8 L499.5,482.9 L499.7,487.4 L499.8,489.3 L500.0,488.9 L500.2,491.4 L500.5,490.2 L500.9,492.1 L501.6,490.6 L502.3,493.4 L503.4,492.2 L504.5,494.4 L504.8,494.9 L505.0,494.1 L505.3,495.2 L505.5,497.2 L505.8,500.0 L506.1,501.4 L506.3,502.4 L506.6,504.2 L506.9,505.3 L507.3,504.3 L508.0,503.7 L508.8,504.4 L509.0,502.5 L509.1,503.3 L509.3,502.5 L509.5,500.7 L509.7,498.5 L509.9,497.4 L510.1,494.6 L510.3,495.4 L510.5,492.8 L510.7,490.6 L510.9,489.6 L511.1,491.0 L511.3,489.7 L511.5,486.8 L511.7,484.5 L511.8,485.1 L512.0,486.1 L512.1,485.3 L512.1,487.3 L512.2,486.8 L512.3,491.2 L512.4,489.2 L512.4,491.6 L512.5,492.0 L512.6,493.5 L512.6,492.4 L512.7,492.8 L512.7,494.3 L512.8,497.3 L512.9,498.0 L512.9,498.1 L513.0,499.7 L513.1,500.8 L513.1,502.1 L513.2,506.1 L513.2,507.1 L513.3,508.5 L513.3,508.2 L513.4,508.5 L513.5,510.8 L513.5,513.6 L513.6,516.1 L513.6,517.1 L513.7,520.0 L513.7,521.6 L513.8,520.8 L513.9,521.1 L513.9,521.7 L514.0,521.9 L514.0,521.9 L514.1,520.5 L514.1,523.4 L514.2,523.8 L514.3,525.2 L514.4,524.1 L514.4,524.6 L514.5,525.6 L514.6,522.8 L514.7,522.0 L514.8,519.6 L514.8,517.6 L514.9,518.1 L515.0,516.8 L515.1,515.4 L515.1,511.4 L515.2,508.5 L515.3,508.5 L515.4,507.5 L515.5,507.5 L515.6,507.7 L515.6,505.2 L515.7,504.9 L515.8,503.1 L515.9,501.4 L516.0,499.2 L516.1,500.9 L516.2,499.2 L516.3,501.4 L516.5,498.1 L516.6,499.5 L516.8,500.3 L517.0,500.7 L517.2,501.6 L517.4,503.7 L517.6,504.6 L517.8,505.4 L518.0,507.1 L518.2,507.8 L518.4,509.5 L518.6,511.3 L518.8,512.7 L519.0,513.8 L519.1,512.5 L519.3,513.5 L519.5,515.1 L519.6,514.3 L519.7,516.0 L519.9,515.8 L520.0,513.6 L520.1,512.2 L520.2,508.6 L520.4,506.4 L520.5,507.0 L520.6,506.4 L520.7,504.9 L520.8,501.9 L521.0,500.7 L521.1,498.5 L521.2,497.4 L521.3,497.0 L521.4,496.6 L521.5,494.9 L521.6,494.3 L521.7,493.2 L521.8,492.5 L521.9,491.2 L522.0,491.2 L522.1,490.8 L522.1,490.5 L522.2,489.0 L522.2,490.1 L522.3,492.3 L522.3,491.0 L522.4,492.4 L522.4,492.6 L522.4,494.6 L522.4,494.6 L522.5,494.4 L522.5,496.7 L522.5,498.2 L522.5,499.1 L522.6,499.3 L522.6,500.2 L522.6,502.1 L522.6,501.4 L522.6,504.8 L522.6,506.3 L522.7,506.8 L522.7,508.5 L522.7,509.9 L522.7,510.1 L522.7,512.5 L522.7,514.4 L522.7,516.5 L522.7,516.5 L522.7,516.1 L522.7,515.9 L522.7,517.7 L522.7,517.8 L522.7,519.7 L522.8,521.3 L522.8,520.7 L522.8,523.2 L522.8,525.0 L522.8,527.2 L522.8,527.6 L522.8,529.7 L522.8,528.6" fill="none" stroke="#ff5500" stroke-width="2.5" stroke-linejoin="round" stroke-linecap="round" />
<path d="M106.0,589.9 L106.3,591.3 L106.6,592.4 L107.1,592.7 L107.6,592.9 L108.1,591.8 L108.6,595.8 L109.2,597.1 L109.7,594.8 L110.2,596.1 L110.7,597.9 L111.1,598.6 L111.6,600.2 L112.0,603.2 L112.4,605.8 L112.9,606.6 L113.3,609.0 L113.7,611.4 L114.1,613.3 L114.4,614.0 L114.8,612.9 L115.3,611.8 L115.7,609.2 L116.2,609.4 L116.6,607.4 L117.0,608.3 L117.3,605.0 L117.7,601.4 L118.2,602.6 L118.6,604.2 L119.0,606.2 L119.5,608.8 L120.0,606.8 L120.3,608.5 L120.5,606.4 L120.8,607.3 L121.1,604.1 L121.4,603.6 L121.7,601.2 L122.0,600.7 L122.3,600.2 L122.6,597.8 L122.9,596.7 L123.2,597.4 L123.5,598.0 L123.7,598.2 L123.9,595.2 L124.0,592.9 L124.2,589.9 L124.4,588.6 L124.6,588.0 L124.7,587.0 L124.9,585.4 L125.1,583.9 L125.2,581.4 L125.4,582.6 L125.6,585.4 L125.7,583.7 L125.9,583.0 L126.1,579.8 L126.2,578.8 L126.4,578.4 L127.0,580.6 L127.6,581.4 L127.9,580.1 L128.2,580.4 L128.8,586.4 L129.4,583.3 L130.0,583.9 L130.5,583.4 L130.8,582.7 L131.1,579.4 L131.7,576.6 L132.3,578.0 L132.9,580.4 L133.1,579.8 L133.2,581.4 L133.4,577.2 L133.6,577.6 L133.8,582.2 L134.0,584.6 L134.1,587.6 L134.3,588.7 L134.5,588.9 L134.7,590.2 L134.8,591.9 L135.0,592.9 L135.2,592.7 L135.3,594.5 L135.5,596.3 L135.7,595.7 L135.9,597.8 L136.1,595.4 L136.2,597.1 L136.4,596.1 L136.8,597.3 L137.1,598.6 L137.5,599.0 L137.8,599.0 L138.2,596.3 L138.5,595.0 L138.8,592.1 L139.2,591.5 L139.6,590.2 L139.9,590.2 L140.6,587.6 L141.2,584.0 L141.9,587.3 L142.6,587.8 L143.4,586.8 L144.3,585.4 L145.2,581.5 L146.2,581.8 L147.1,580.8 L148.0,580.7 L148.5,581.7 L149.0,579.0 L149.4,577.4 L149.9,573.4 L150.3,574.1 L150.7,569.7 L151.2,572.6 L151.6,573.2 L152.1,575.1 L152.6,578.1 L153.1,574.8 L153.6,578.9 L154.1,579.1 L154.6,581.4 L155.1,579.1 L155.3,582.3 L155.5,580.9 L155.7,581.7 L155.9,579.7 L156.1,576.6 L156.3,575.9 L156.5,571.6 L156.7,568.6 L156.9,568.9 L157.1,566.0 L157.3,569.1 L157.5,566.1 L157.6,567.8 L157.8,564.6 L158.0,566.1 L158.2,564.7 L158.4,567.3 L158.5,566.2 L158.7,567.1 L158.8,567.7 L159.0,571.1 L159.2,572.2 L159.3,571.2 L159.5,574.6 L159.6,577.0 L159.8,576.4 L159.9,581.2 L160.1,579.6 L160.3,580.0 L160.9,578.7 L161.5,577.2 L161.8,577.8 L162.1,575.4 L162.7,574.3 L163.2,573.6 L163.3,574.4 L163.4,577.2 L163.5,576.1 L163.6,580.4 L163.7,577.0 L163.7,576.5 L163.8,577.1 L163.8,580.2 L163.9,582.2 L163.9,584.9 L164.0,587.5 L164.1,587.5 L164.2,586.7 L164.4,589.1 L164.6,588.0 L164.8,589.0 L165.0,589.4 L165.2,592.2 L165.5,592.6 L165.7,594.9 L166.0,595.5 L166.3,597.9 L166.6,599.2 L166.8,602.7 L167.1,603.4 L167.4,602.8 L167.6,602.2 L167.9,603.5 L168.2,607.0 L168.5,604.5 L168.9,606.2 L169.2,606.5 L169.5,610.0 L169.8,610.8 L170.1,613.2 L170.4,613.3 L170.8,611.5 L171.1,614.5 L171.4,614.4 L171.7,614.4 L171.9,614.5 L172.2,610.5 L172.4,609.6 L172.7,610.7 L173.0,607.6 L173.2,606.1 L173.5,605.2 L173.7,605.6 L174.0,603.7 L174.2,601.3 L174.5,600.2 L174.7,600.4 L174.9,598.0 L175.2,598.3 L175.5,598.7 L175.8,599.8 L176.0,604.4 L176.3,607.7 L176.6,606.8 L176.9,606.8 L177.2,605.0 L177.4,605.2 L177.7,604.1 L178.0,605.7 L178.2,605.7 L178.5,602.2 L178.8,601.9 L179.1,600.6 L179.4,598.3 L179.7,598.8 L180.0,597.2 L180.3,594.5 L180.5,595.6 L180.8,593.5 L181.0,592.3 L181.3,589.9 L181.5,591.2 L181.8,589.5 L182.0,590.6 L182.3,587.9 L182.5,588.8 L182.7,587.3 L182.9,586.9 L183.1,583.9 L183.3,585.9 L183.5,582.4 L183.7,579.0 L183.8,576.6 L183.9,579.1 L184.0,574.8 L184.0,576.3 L184.1,573.2 L184.1,571.8 L184.2,572.9 L184.2,569.2 L184.3,568.5 L184.3,566.6 L184.4,566.4 L184.5,564.6 L184.6,563.7 L184.7,566.6 L184.9,567.2 L185.1,564.2 L185.4,564.0 L185.7,564.6 L186.1,560.6 L186.5,562.8 L186.9,566.1 L187.4,566.3 L187.9,567.6 L188.4,568.3 L189.0,568.1 L189.5,567.8 L190.1,571.9 L190.6,574.5 L191.2,575.4 L191.8,575.4 L192.3,578.4 L192.9,578.1 L193.4,582.0 L193.8,580.7 L194.3,580.9 L194.7,584.6 L195.1,583.1 L195.6,583.4 L196.0,583.5 L196.5,583.4 L196.9,583.5 L197.3,588.5 L197.8,590.7 L198.2,589.0 L198.7,590.5 L199.2,592.1 L199.7,594.8 L200.1,595.9 L200.6,596.5 L201.1,598.2 L201.7,597.4 L202.2,599.9 L202.8,599.2 L203.4,599.4 L204.1,598.9 L204.7,598.6 L205.4,592.5 L206.1,591.6 L206.8,591.5 L207.5,589.0 L208.2,588.9 L208.9,587.7 L209.6,588.8 L210.3,589.4 L211.0,586.1 L211.6,585.6 L212.3,582.5 L212.8,582.8 L213.4,584.4 L213.9,583.7 L214.4,581.0 L214.8,580.1 L215.2,578.5 L215.5,579.8 L215.9,579.0 L216.2,574.4 L216.4,574.5 L216.7,572.9 L217.0,570.3 L217.2,572.2 L217.5,572.3 L217.8,571.0 L218.0,571.2 L218.3,568.2 L218.6,564.1 L219.0,565.6 L219.3,562.6 L219.7,563.5 L220.3,562.5 L221.0,559.4 L221.7,557.7 L222.4,557.6 L223.2,558.7 L223.9,555.2 L224.7,555.5 L225.5,554.9 L226.2,552.8 L227.0,554.1 L227.8,557.2 L228.5,557.4 L229.1,555.4 L229.6,554.7 L230.2,552.0 L230.8,554.5 L231.3,555.9 L231.9,556.2 L232.5,559.9 L233.0,562.7 L233.6,564.6 L234.2,565.4 L234.7,566.9 L235.2,569.8 L235.7,567.4 L236.3,567.3 L236.7,567.2 L237.2,569.3 L237.7,573.4 L238.1,573.6 L238.5,577.1 L238.9,577.1 L239.2,578.3 L239.6,579.7 L239.9,578.2 L240.3,580.9 L240.6,581.9 L241.0,583.7 L241.3,584.3 L241.7,585.9 L242.1,586.2 L242.5,583.8 L243.0,585.1 L243.4,583.6 L243.8,582.8 L244.2,582.0 L244.7,583.6 L245.1,579.8 L245.6,578.9 L246.0,578.7 L246.5,580.0 L247.0,577.0 L247.5,574.3 L247.9,573.1 L248.4,572.8 L248.9,574.2 L249.4,570.9 L249.9,571.3 L250.4,572.3 L250.9,568.0 L251.3,568.0 L251.8,567.3 L252.2,564.6 L252.7,564.2 L253.1,561.9 L253.6,562.0 L254.0,560.9 L254.4,558.7 L254.9,557.5 L255.3,557.0 L255.8,556.4 L256.2,553.6 L256.6,553.1 L257.1,551.1 L257.5,552.3 L258.0,552.1 L258.4,550.3 L258.8,551.0 L259.3,552.8 L259.7,551.2 L260.2,549.5 L260.6,549.8 L261.3,547.4 L261.9,547.7 L262.6,550.4 L263.3,549.4 L263.9,551.6 L264.6,552.7 L265.3,554.2 L266.0,553.2 L266.6,552.4 L267.3,554.4 L268.0,555.7 L268.6,558.3 L269.3,560.1 L270.2,558.9 L271.0,561.0 L271.8,563.5 L272.7,563.1 L273.5,564.9 L274.4,565.2 L275.2,561.6 L276.2,563.6 L277.1,561.6 L278.1,564.2 L278.7,565.5 L279.3,565.0 L279.9,562.9 L280.5,564.2 L281.1,559.3 L281.7,560.5 L282.3,556.4 L283.0,555.7 L283.6,553.0 L284.3,551.8 L284.9,554.8 L285.6,554.2 L286.3,552.4 L287.0,550.0 L287.7,550.2 L288.4,548.4 L289.1,549.5 L289.8,550.1 L290.5,552.5 L291.2,550.4 L291.9,552.1 L292.7,550.4 L293.5,552.6 L294.2,551.4 L295.0,551.3 L295.8,553.3 L296.6,556.6 L297.4,558.0 L298.2,560.5 L298.9,562.0 L299.7,562.2 L300.5,558.7 L301.2,558.5 L301.9,561.6 L302.6,562.8 L303.3,561.3 L304.0,562.8 L304.7,562.8 L305.3,563.8 L306.0,563.4 L306.6,563.0 L307.2,561.9 L307.8,558.6 L308.4,557.9 L308.9,556.2 L309.5,555.7 L310.0,555.0 L310.6,554.4 L311.1,551.9 L311.7,549.9 L312.2,545.8 L312.8,545.6 L313.4,545.8 L313.9,549.0 L314.5,547.5 L315.5,544.0 L316.5,546.4 L317.5,545.7 L318.5,546.3 L319.5,545.0 L320.5,546.6 L321.6,548.6 L322.7,548.2 L323.8,547.7 L325.0,546.8 L325.7,545.7 L326.5,544.0 L327.3,545.9 L328.1,542.0 L329.0,542.2 L329.8,540.4 L330.7,537.4 L331.6,537.6 L332.4,537.9 L333.3,538.5 L334.2,536.8 L335.0,535.6 L335.9,537.0 L336.7,534.4 L337.5,536.4 L338.3,534.7 L339.0,535.2 L339.7,534.6 L340.4,534.1 L341.1,532.7 L341.8,534.9 L342.4,534.3 L343.1,535.3 L343.7,538.7 L344.3,538.2 L344.9,541.4 L345.5,541.0 L346.1,538.6 L346.7,543.2 L347.3,544.7 L347.9,544.6 L348.5,546.2 L349.0,546.5 L349.6,544.1 L350.1,546.4 L350.7,551.0 L351.2,551.4 L351.7,554.7 L352.2,553.9 L352.6,555.6 L353.1,556.7 L353.6,557.3 L354.1,562.1 L354.5,560.4 L355.0,560.8 L355.5,560.9 L355.9,561.0 L356.4,560.8 L356.9,561.0 L357.3,564.5 L357.8,564.5 L358.3,562.9 L358.7,564.1 L359.1,565.8 L359.5,562.6 L359.9,562.4 L360.3,561.8 L360.7,559.1 L361.1,558.0 L361.5,557.8 L361.9,554.7 L362.2,554.0 L362.6,553.7 L363.0,553.8 L363.4,552.1 L363.8,549.0 L364.2,549.8 L364.6,546.9 L365.0,545.2 L365.4,543.1 L365.8,544.3 L366.2,544.4 L366.6,545.0 L367.0,543.4 L367.6,541.2 L368.2,543.7 L368.8,543.1 L369.3,543.7 L369.9,544.9 L370.5,545.8 L371.1,548.3 L371.7,548.2 L372.3,552.6 L372.9,552.2 L373.5,551.6 L374.0,556.1 L374.6,556.2 L375.2,554.9 L375.8,555.0 L376.3,554.2 L376.8,553.7 L377.2,552.1 L377.7,553.9 L378.2,555.4 L378.7,553.6 L379.1,550.1 L379.6,549.0 L380.1,545.4 L380.6,544.0 L381.1,543.1 L381.5,543.4 L382.0,546.1 L382.5,544.1 L383.0,545.6 L383.5,544.0 L384.1,543.4 L384.6,542.0 L385.5,538.6 L386.3,536.4 L387.2,536.6 L388.0,534.8 L388.9,533.6 L389.8,534.4 L390.7,532.3 L391.7,534.9 L392.7,532.0 L393.9,535.8 L395.1,535.4 L396.0,535.6 L396.9,533.1 L397.9,531.1 L398.9,533.7 L399.9,535.5 L401.0,536.3 L402.2,537.6 L403.3,533.4 L404.4,532.5 L405.5,535.2 L406.7,538.3 L407.8,538.9 L408.8,538.3 L409.8,540.3 L410.8,538.9 L411.7,538.1 L412.6,539.8 L413.8,537.6 L415.0,538.5 L416.1,535.7 L417.1,540.2 L418.0,535.5 L419.0,534.8 L419.8,531.4 L420.7,532.6 L421.5,535.8 L422.3,535.7 L423.1,536.7 L424.0,533.0 L424.8,535.8 L425.6,537.8 L426.3,537.2 L427.0,541.7 L427.7,540.2 L428.5,542.5 L429.3,541.3 L430.2,542.0 L430.5,542.2 L430.9,542.6 L431.3,539.8 L431.6,537.9 L432.0,538.2 L432.4,537.8 L432.8,534.5 L433.2,532.3 L433.6,531.3 L434.0,528.0 L434.4,528.2 L434.8,525.4 L435.2,525.4 L435.7,526.3 L436.1,522.7 L436.5,523.8 L436.9,524.9 L437.4,523.7 L437.8,521.3 L438.2,519.4 L438.6,520.3 L439.1,518.8 L439.5,515.7 L439.9,515.5 L440.3,514.0 L440.7,514.1 L441.3,513.8 L441.9,512.5 L442.6,512.7 L443.2,513.1 L443.8,517.3 L444.4,521.7 L445.0,518.5 L445.6,519.0 L446.3,519.8 L446.9,522.1 L447.5,524.6 L448.1,523.0 L448.7,525.1 L449.3,526.7 L450.0,528.5 L450.6,530.7 L451.2,533.0 L451.7,531.5 L452.2,532.1 L452.7,530.5 L453.2,530.8 L453.7,533.6 L454.3,535.4 L454.8,537.2 L455.3,540.4 L455.8,538.4 L456.3,543.7 L456.8,542.3 L457.4,539.9 L457.9,541.5 L458.4,541.7 L458.9,543.6 L459.4,548.7 L459.8,547.0 L460.3,549.3 L460.8,548.8 L461.2,549.3 L461.7,547.4 L462.6,547.8 L463.5,546.0 L464.3,548.6 L465.1,548.1 L465.8,546.0 L466.6,547.3 L467.4,544.7 L468.2,545.3 L469.1,542.2 L470.0,543.8 L470.4,539.8 L470.9,538.1 L471.4,540.0 L471.9,539.9 L472.4,540.6 L473.0,538.7 L473.5,538.7 L474.1,538.6 L474.6,535.0 L475.2,537.4 L475.7,535.3 L476.3,532.4 L476.8,532.3 L477.3,530.6 L477.8,530.6 L478.3,528.4 L478.8,527.8 L479.3,526.2 L479.7,524.9 L480.1,524.6 L480.5,528.5 L480.8,524.1 L481.7,523.8 L482.3,524.1 L482.7,523.2 L483.0,524.1 L483.3,528.4 L483.6,529.3 L484.0,527.9 L484.5,529.3 L485.0,531.7 L486.1,533.1 L487.2,533.7 L487.4,530.7 L487.6,527.7 L487.8,527.7 L488.0,525.1 L488.3,522.7 L488.5,520.9 L488.7,522.3 L488.9,522.5 L489.1,523.4 L489.4,521.7 L489.6,517.1 L489.9,514.0 L490.1,516.4 L490.4,514.3 L490.6,517.2 L490.9,512.9 L491.2,513.4 L491.5,511.8 L492.0,514.3 L492.6,515.6 L493.2,518.9 L493.8,518.2 L494.5,521.0 L495.1,519.1 L495.8,522.4 L496.4,520.6 L497.0,522.1 L497.5,524.9 L498.0,522.1 L498.3,521.0 L498.5,523.9 L498.7,519.8 L499.0,521.2 L499.1,518.0 L499.3,517.5 L499.5,516.5 L499.7,511.6 L499.8,512.9 L500.0,509.9 L500.1,507.8 L500.3,508.7 L500.4,510.2 L500.6,510.3 L500.8,509.1 L501.0,504.7 L501.2,507.6 L501.5,507.2 L501.8,506.2 L502.1,508.3 L502.5,508.2 L502.8,510.3 L503.2,511.8 L503.5,509.5 L503.9,509.7 L504.2,510.9 L504.6,514.2 L504.9,516.1 L505.2,514.9 L505.5,516.9 L505.8,517.3 L506.1,516.5 L506.4,515.4 L506.7,515.4 L506.9,514.2 L507.2,514.8 L507.5,513.2 L507.8,507.6 L508.1,508.1 L508.4,507.7 L508.8,505.6 L509.0,509.2 L509.3,509.3 L509.6,508.3 L509.8,510.1 L510.1,515.5 L510.4,514.1 L510.7,513.4 L511.0,513.9 L511.4,517.6 L511.7,519.0 L512.0,517.9 L512.3,522.1 L512.6,521.0 L512.9,522.1 L513.2,522.6 L513.4,524.8 L513.7,524.6 L514.0,526.5 L514.2,524.0 L514.4,527.1 L514.6,524.4 L514.8,521.7 L514.9,522.2 L515.1,519.6 L515.2,519.2 L515.4,522.2 L515.5,516.4 L515.7,515.4 L515.8,512.6 L515.9,510.1 L516.1,511.7 L516.2,506.8 L516.3,506.9 L516.5,508.1 L516.6,509.4 L516.8,507.7 L516.9,507.0 L517.1,505.3 L517.2,503.7 L517.4,504.6 L517.7,500.7 L518.0,503.6 L518.3,504.4 L518.6,508.4 L519.0,508.5 L519.3,510.9 L519.7,514.5 L520.0,515.6 L520.4,514.8 L520.7,512.6 L521.0,513.9 L521.2,514.5 L521.5,515.0 L521.7,516.1 L521.9,520.0 L522.0,517.8 L522.1,518.9 L522.2,517.3 L522.3,516.3 L522.4,518.1 L522.5,512.4 L522.5,514.0 L522.6,508.5 L522.6,508.5 L522.6,506.3 L522.7,506.3 L522.7,506.0 L522.7,503.3 L522.8,504.5 L522.8,500.3" fill="none" stroke="#ff5500" stroke-width="2.4" stroke-linejoin="round" stroke-dasharray="2 1.6" stroke-linecap="butt" />
<path d="M107.0,799.8 L107.6,802.5 L108.3,802.1 L109.1,798.9 L110.0,802.2 L111.0,801.0 L112.0,798.0 L113.1,802.5 L114.3,799.0 L115.4,799.3 L116.6,799.8 L117.7,800.7 L118.9,798.4 L120.0,801.3 L121.0,802.1 L122.0,800.6 L122.9,802.1 L123.8,801.4 L124.7,802.6 L125.6,799.6 L126.4,800.7 L127.3,801.5 L128.3,799.9 L129.2,804.4 L130.2,803.0 L131.3,800.4 L132.4,803.0 L133.7,802.3 L135.0,801.2 L135.8,801.1 L136.7,802.7 L137.7,800.7 L138.7,803.2 L139.7,803.0 L140.7,801.1 L141.8,804.8 L142.9,800.7 L144.1,801.3 L145.2,804.5 L146.4,801.5 L147.5,802.5 L148.7,803.2 L149.8,802.5 L150.9,802.8 L152.1,802.8 L153.1,802.6 L154.2,800.5 L155.2,804.2 L156.2,801.4 L157.1,800.2 L158.0,801.9 L158.8,803.8 L159.6,802.7 L161.1,801.6 L162.3,801.3 L163.4,799.7 L164.3,801.2 L165.1,799.4 L165.8,797.5 L166.6,797.3 L167.3,796.5 L168.1,798.9 L169.0,799.4 L170.0,798.2 L170.8,795.1 L171.7,794.3 L172.6,798.0 L173.6,794.7 L174.5,793.3 L175.5,794.9 L176.5,794.8 L177.5,793.9 L178.5,793.1 L179.5,791.8 L180.4,792.3 L181.4,791.6 L182.3,792.1 L183.2,790.3 L184.0,789.2 L184.7,791.7 L185.4,788.0 L186.1,788.1 L186.7,786.9 L187.4,786.6 L188.0,785.6 L188.6,784.5 L189.2,783.7 L189.8,782.2 L190.4,781.0 L191.0,781.1 L191.6,779.6 L192.2,778.5 L192.8,778.6 L193.4,777.5 L194.0,775.9 L194.6,775.8 L195.3,774.5 L196.1,774.7 L196.8,773.1 L197.5,773.3 L198.2,772.1 L198.9,770.6 L199.6,770.4 L200.4,770.5 L201.1,769.4 L201.8,768.0 L202.6,767.5 L203.4,766.6 L204.2,765.6 L205.1,765.4 L205.8,764.9 L206.5,763.5 L207.2,763.3 L207.9,762.9 L208.7,762.2 L209.5,760.4 L210.3,759.4 L211.1,759.8 L211.9,758.1 L212.7,757.1 L213.5,757.2 L214.3,755.6 L215.1,755.5 L215.8,754.7 L216.6,753.4 L217.2,753.0 L217.9,752.1 L218.5,752.3 L219.1,751.0 L220.3,749.9 L221.3,749.8 L222.2,748.3 L222.9,748.0 L223.7,747.6 L224.4,746.4 L225.2,746.3 L226.1,746.4 L227.0,746.3 L228.0,745.0 L229.0,744.8 L230.1,743.8 L231.1,744.1 L232.2,743.5 L233.1,743.4 L234.1,742.7 L234.9,742.3 L235.9,742.6 L236.8,741.9 L237.6,740.9 L238.3,739.9 L239.2,739.2 L240.2,738.4 L240.8,737.9 L241.5,737.9 L242.1,737.0 L242.8,735.7 L243.5,735.9 L244.3,734.8 L245.1,734.1 L245.9,733.6 L246.8,732.1 L247.8,732.3 L248.9,732.0 L249.7,731.6 L250.6,730.2 L251.4,731.2 L252.3,731.2 L253.2,729.9 L254.1,730.9 L255.1,730.8 L256.1,729.7 L257.2,730.7 L258.3,730.8 L259.4,730.7 L260.6,729.8 L261.9,731.0 L263.3,729.8 L264.7,729.7 L265.5,730.9 L266.3,730.2 L267.1,729.7 L268.0,730.0 L268.8,730.3 L269.7,729.8 L270.6,730.6 L271.5,730.3 L272.5,729.8 L273.4,729.8 L274.4,729.4 L275.4,730.6 L276.4,729.6 L277.4,730.4 L278.4,729.8 L279.4,729.8 L280.5,729.3 L281.5,729.7 L282.6,729.1 L283.7,729.5 L284.8,729.7 L285.9,730.1 L287.0,729.1 L288.1,729.0 L289.2,729.8 L290.4,728.8 L291.5,728.8 L292.7,729.2 L293.6,729.1 L294.5,729.8 L295.5,728.5 L296.4,729.5 L297.4,728.9 L298.4,728.4 L299.4,728.5 L300.5,729.4 L301.5,728.3 L302.6,728.6 L303.6,728.0 L304.7,728.6 L305.8,728.8 L306.9,728.8 L308.0,728.2 L309.1,728.3 L310.2,728.8 L311.3,728.8 L312.4,728.1 L313.5,727.5 L314.6,728.7 L315.7,727.8 L316.7,727.9 L317.8,727.2 L318.9,727.1 L319.9,727.2 L320.9,727.7 L321.9,727.3 L322.9,728.0 L323.9,727.0 L324.8,727.6 L325.8,726.7 L326.7,727.1 L327.5,727.8 L328.4,726.8 L329.2,726.8 L330.0,726.3 L331.4,727.4 L332.7,726.8 L334.0,726.3 L335.1,726.7 L336.3,726.2 L337.3,726.9 L338.4,726.2 L339.3,725.6 L340.3,725.7 L341.2,725.4 L342.1,726.3 L343.0,725.2 L343.8,725.6 L344.7,725.6 L345.5,724.7 L346.4,725.3 L347.2,725.0 L348.1,725.2 L349.0,724.9 L349.9,724.7 L350.8,723.7 L351.7,723.2 L352.6,722.7 L353.5,721.8 L354.4,722.0 L355.3,722.0 L356.1,720.8 L357.0,720.7 L357.9,719.3 L358.7,718.9 L359.6,718.4 L360.4,718.5 L361.2,717.1 L362.1,717.0 L362.9,715.6 L363.8,715.9 L364.6,714.9 L365.5,715.1 L366.3,713.2 L367.2,713.1 L368.1,713.4 L369.0,712.3 L370.0,711.6 L370.9,712.0 L371.8,710.9 L372.8,711.1 L373.7,710.2 L374.6,709.1 L375.6,708.7 L376.5,709.3 L377.4,708.9 L378.4,707.5 L379.3,708.2 L380.2,707.5 L381.1,706.6 L382.0,706.5 L382.9,705.7 L383.7,704.5 L384.6,704.4 L385.5,703.9 L386.5,704.1 L387.3,702.6 L388.2,702.6 L389.1,701.8 L389.9,700.4 L390.8,700.2 L391.6,699.7 L392.5,699.3 L393.3,698.1 L394.2,698.4 L395.0,697.6 L395.9,695.9 L396.8,696.6 L397.6,695.7 L398.6,695.7 L399.5,694.3 L400.5,694.7 L401.4,694.4 L402.4,693.7 L403.4,693.4 L404.4,693.6 L405.4,694.0 L406.4,693.4 L407.4,693.3 L408.4,693.3 L409.4,693.4 L410.5,693.0 L411.5,693.1 L412.6,692.1 L413.7,693.1 L414.7,693.2 L415.8,692.5 L416.9,692.4 L417.9,692.8 L418.9,692.1 L419.9,692.5 L420.9,691.9 L421.9,691.8 L423.0,692.1 L424.0,692.0 L425.1,691.5 L426.1,691.3 L427.2,691.1 L428.2,690.9 L429.3,690.6 L430.4,690.3 L431.4,690.3 L432.5,690.0 L433.5,690.9 L434.6,690.0 L435.7,690.5 L436.7,689.8 L437.7,690.3 L438.7,689.6 L439.7,689.1 L440.8,689.1 L441.8,688.7 L442.9,688.6 L443.9,688.3 L445.0,688.2 L446.0,688.1 L447.0,687.4 L448.1,688.5 L449.1,688.2 L450.1,687.3 L451.1,687.8 L452.1,686.5 L453.0,687.1 L454.0,686.9 L454.9,687.1 L455.7,687.0 L456.6,686.3 L457.8,686.2 L459.0,685.7 L460.1,684.5 L461.2,684.2 L462.3,683.9 L463.4,684.4 L464.4,683.6 L465.4,683.1 L466.3,682.9 L467.2,683.2 L468.0,682.2 L468.8,682.3 L469.5,681.3 L470.2,681.3 L471.4,680.7 L472.2,679.0 L472.7,679.2 L473.1,677.3 L473.5,676.4 L474.0,676.8 L474.7,674.8 L475.4,674.2 L476.1,674.0 L476.7,672.1 L477.3,672.0 L477.7,671.5" fill="none" stroke="#000" stroke-width="3.7" stroke-linejoin="round" stroke-linecap="round" />
<g clip-path="url(#clipc)"><path d="M108.0,854.7 L108.8,856.0 L110.2,853.2 L110.3,852.6 L110.4,851.9 L110.5,851.0 L110.6,850.1 L110.7,849.1 L110.8,847.9 L110.9,846.7 L111.1,845.4 L111.2,844.1 L111.3,842.7 L111.4,841.3 L111.5,839.9 L111.7,838.4 L111.8,837.0 L111.9,835.5 L112.1,834.0 L112.2,832.6 L112.3,831.2 L112.5,829.9 L112.6,828.6 L112.7,827.4 L112.9,826.2 L113.0,825.2 L113.1,824.2 L113.3,823.3 L113.4,822.6 L113.5,822.0 L113.7,821.5 L113.8,821.1 L113.9,821.0 L114.1,820.9 L114.2,821.1 L114.3,821.3 L114.4,821.7 L114.5,822.1 L114.6,822.6 L114.6,823.2 L114.7,823.9 L114.8,824.7 L114.9,825.6 L115.0,826.5 L115.1,827.6 L115.2,828.6 L115.3,829.8 L115.4,831.0 L115.4,832.2 L115.5,833.5 L115.6,834.8 L115.7,836.1 L115.8,837.5 L115.9,838.9 L116.0,840.4 L116.1,841.8 L116.2,843.3 L116.3,844.7 L116.4,846.2 L116.5,847.7 L116.5,849.1 L116.6,850.6 L116.7,852.0 L116.8,853.4 L116.9,854.8 L117.0,856.1 L117.1,857.4 L117.2,858.7 L117.3,859.9 L117.4,861.0 L117.5,862.1 L117.6,863.2 L117.7,864.2 L117.8,865.1 L117.9,865.9 L118.0,866.7 L118.1,867.3 L118.2,867.9 L118.3,868.4 L118.4,868.8 L118.5,869.1 L118.6,869.2 L118.7,869.3 L118.8,869.2 L118.9,869.1 L119.0,868.8 L119.1,868.4 L119.2,867.8 L119.3,867.2 L119.5,866.5 L119.6,865.7 L119.7,864.9 L119.8,863.9 L119.9,862.9 L120.0,861.8 L120.1,860.6 L120.3,859.4 L120.4,858.1 L120.5,856.8 L120.6,855.4 L120.7,854.0 L120.9,852.6 L121.0,851.2 L121.1,849.7 L121.2,848.2 L121.3,846.7 L121.5,845.2 L121.6,843.7 L121.7,842.2 L121.8,840.7 L121.9,839.2 L122.0,837.8 L122.2,836.4 L122.3,835.0 L122.4,833.6 L122.5,832.3 L122.6,831.0 L122.7,829.8 L122.9,828.6 L123.0,827.5 L123.1,826.5 L123.2,825.5 L123.3,824.7 L123.4,823.9 L123.5,823.2 L123.6,822.6 L123.7,822.0 L123.8,821.6 L123.9,821.3 L124.0,821.2 L124.1,821.1 L124.2,821.2 L124.3,821.3 L124.4,821.6 L124.5,822.0 L124.6,822.5 L124.6,823.0 L124.7,823.7 L124.8,824.4 L124.9,825.2 L125.0,826.1 L125.1,827.1 L125.1,828.1 L125.2,829.2 L125.3,830.3 L125.4,831.5 L125.4,832.8 L125.5,834.1 L125.6,835.4 L125.7,836.7 L125.7,838.1 L125.8,839.5 L125.9,840.9 L126.0,842.4 L126.0,843.8 L126.1,845.3 L126.2,846.7 L126.2,848.2 L126.3,849.6 L126.4,851.0 L126.4,852.4 L126.5,853.8 L126.6,855.2 L126.7,856.5 L126.7,857.8 L126.8,859.0 L126.9,860.2 L126.9,861.4 L127.0,862.5 L127.1,863.5 L127.1,864.5 L127.2,865.4 L127.3,866.2 L127.3,866.9 L127.4,867.6 L127.5,868.2 L127.6,868.6 L127.6,869.0 L127.7,869.3 L127.8,869.6 L128.0,869.6 L128.1,869.4 L128.2,868.9 L128.4,868.2 L128.5,867.4 L128.7,866.3 L128.8,865.2 L128.9,863.9 L129.1,862.5 L129.2,861.0 L129.3,859.5 L129.5,857.9 L129.6,856.3 L129.7,854.7 L129.9,853.1 L130.0,851.6 L130.1,850.1 L130.3,848.7 L130.4,847.4 L130.5,846.2 L130.6,845.2 L130.7,844.4 L130.9,843.7 L131.0,843.2 L131.1,843.0 L131.2,843.0 L131.4,843.3 L131.5,843.9 L131.7,844.7 L131.8,845.7 L131.9,846.9 L132.0,848.2 L132.2,849.6 L132.3,851.1 L132.4,852.6 L132.5,854.2 L132.6,855.7 L132.8,857.2 L132.9,858.6 L133.0,859.9 L133.1,861.0 L133.2,861.9 L133.3,862.7 L133.5,863.2 L133.6,863.4 L133.8,863.3 L133.9,862.9 L134.1,862.2 L134.2,861.3 L134.4,860.1 L134.5,858.8 L134.7,857.4 L134.9,855.9 L135.0,854.4 L135.2,852.9 L135.3,851.4 L135.5,850.0 L135.6,848.8 L135.8,847.7 L135.9,846.8 L136.1,846.2 L136.2,845.9 L136.4,846.0 L136.6,846.8 L136.7,848.0 L136.9,849.6 L137.0,851.3 L137.2,853.2 L137.3,855.0 L137.5,856.6 L137.7,857.8 L137.8,858.6 L138.0,858.8 L138.2,858.3 L138.3,857.9 L138.3,857.4 L138.4,856.7 L138.5,856.0 L138.5,855.1 L138.6,854.1 L138.7,853.0 L138.8,851.9 L138.8,850.7 L138.9,849.4 L139.0,848.1 L139.1,846.7 L139.1,845.3 L139.2,843.8 L139.3,842.4 L139.4,840.9 L139.5,839.4 L139.5,838.0 L139.6,836.6 L139.7,835.1 L139.8,833.8 L139.9,832.4 L139.9,831.2 L140.0,829.9 L140.1,828.8 L140.2,827.7 L140.3,826.8 L140.3,825.9 L140.4,825.1 L140.5,824.5 L140.6,824.0 L140.7,823.6 L140.7,823.3 L140.8,823.2 L140.9,823.3 L141.0,823.5 L141.0,823.8 L141.1,824.1 L141.2,824.6 L141.2,825.2 L141.3,825.8 L141.3,826.6 L141.4,827.4 L141.5,828.3 L141.5,829.2 L141.6,830.2 L141.7,831.3 L141.7,832.4 L141.8,833.6 L141.9,834.8 L141.9,836.1 L142.0,837.4 L142.0,838.7 L142.1,840.1 L142.2,841.5 L142.2,842.8 L142.3,844.2 L142.4,845.7 L142.4,847.1 L142.5,848.5 L142.6,849.9 L142.6,851.3 L142.7,852.6 L142.8,854.0 L142.8,855.3 L142.9,856.6 L143.0,857.9 L143.0,859.1 L143.1,860.3 L143.2,861.4 L143.2,862.5 L143.3,863.5 L143.3,864.5 L143.4,865.4 L143.5,866.2 L143.5,866.9 L143.6,867.6 L143.7,868.1 L143.7,868.6 L143.8,869.0 L144.0,869.7 L144.2,869.9 L144.3,869.8 L144.5,869.3 L144.7,868.5 L144.9,867.5 L145.1,866.2 L145.2,864.8 L145.4,863.2 L145.6,861.6 L145.8,860.0 L146.0,858.4 L146.1,856.9 L146.3,855.5 L146.5,854.2 L146.7,853.2 L146.9,852.0 L147.2,850.6 L147.4,849.2 L147.7,847.7 L147.9,846.2 L148.2,844.8 L148.4,843.4 L148.7,842.2 L148.9,841.2 L149.2,840.4 L149.4,840.0 L149.7,839.8 L149.9,840.1 L150.0,840.5 L150.1,841.0 L150.3,841.8 L150.4,842.7 L150.5,843.8 L150.6,845.0 L150.7,846.3 L150.8,847.7 L151.0,849.1 L151.1,850.6 L151.2,852.2 L151.3,853.7 L151.4,855.3 L151.5,856.8 L151.6,858.2 L151.8,859.6 L151.9,860.9 L152.0,862.1 L152.1,863.1 L152.2,864.0 L152.3,864.8 L152.4,865.3 L152.6,865.6 L152.7,865.7 L152.8,865.6 L152.9,865.4 L153.0,865.0 L153.0,864.5 L153.1,863.9 L153.2,863.2 L153.3,862.4 L153.3,861.5 L153.4,860.5 L153.5,859.4 L153.6,858.3 L153.6,857.1 L153.7,855.8 L153.8,854.5 L153.9,853.2 L154.0,851.8 L154.0,850.4 L154.1,849.0 L154.2,847.5 L154.3,846.1 L154.3,844.6 L154.4,843.2 L154.5,841.7 L154.6,840.3 L154.6,838.9 L154.7,837.6 L154.8,836.3 L154.9,835.0 L155.0,833.8 L155.0,832.7 L155.1,831.6 L155.2,830.6 L155.3,829.7 L155.3,828.9 L155.4,828.1 L155.5,827.5 L155.6,827.0 L155.6,826.6 L155.7,826.3 L155.8,826.2 L155.9,826.2 L156.0,826.4 L156.1,826.7 L156.1,827.2 L156.2,827.9 L156.3,828.6 L156.4,829.5 L156.5,830.5 L156.6,831.6 L156.7,832.8 L156.8,834.0 L156.8,835.4 L156.9,836.7 L157.0,838.2 L157.1,839.6 L157.2,841.1 L157.3,842.6 L157.4,844.1 L157.4,845.6 L157.5,847.1 L157.6,848.6 L157.7,850.0 L157.8,851.4 L157.9,852.7 L158.0,854.0 L158.0,855.1 L158.1,856.2 L158.2,857.2 L158.3,858.1 L158.4,858.9 L158.5,859.5 L158.5,860.0 L158.6,860.3 L158.7,860.5 L158.8,860.5 L158.9,860.3 L159.0,860.0 L159.1,859.4 L159.2,858.7 L159.3,857.9 L159.4,856.9 L159.5,855.8 L159.6,854.6 L159.7,853.3 L159.8,852.0 L159.9,850.6 L160.0,849.2 L160.0,847.7 L160.1,846.2 L160.2,844.7 L160.3,843.3 L160.4,841.8 L160.5,840.5 L160.6,839.1 L160.7,837.9 L160.8,836.7 L160.9,835.7 L161.0,834.7 L161.1,833.9 L161.2,833.3 L161.3,832.8 L161.7,832.0 L162.1,833.0 L162.5,834.8 L163.0,836.8 L163.5,838.3 L164.2,838.6 L164.5,838.2 L164.9,837.5 L165.3,836.6 L165.8,835.5 L166.2,834.2 L166.7,832.9 L167.2,831.6 L167.7,830.3 L168.1,829.0 L168.6,827.9 L169.0,826.9 L169.4,826.2 L169.8,825.7 L170.1,825.5 L170.4,825.7 L170.7,826.4 L170.9,827.5 L171.1,828.7 L171.3,830.2 L171.5,831.8 L171.6,833.4 L171.8,834.9 L171.9,836.3 L172.1,837.4 L172.2,838.2 L172.4,838.7 L172.6,838.6 L172.7,838.3 L172.9,837.8 L173.0,837.1 L173.1,836.3 L173.3,835.3 L173.4,834.2 L173.5,833.0 L173.7,831.7 L173.8,830.4 L174.0,829.0 L174.1,827.6 L174.3,826.2 L174.4,824.8 L174.6,823.5 L174.7,822.2 L174.8,821.0 L175.0,819.9 L175.1,819.0 L175.2,818.1 L175.4,817.5 L175.5,817.0 L175.6,816.7 L175.8,816.7 L175.9,817.1 L176.1,817.8 L176.3,818.9 L176.4,820.2 L176.5,821.6 L176.7,823.1 L176.8,824.7 L176.9,826.2 L177.1,827.6 L177.2,828.8 L177.4,829.8 L177.5,830.4 L177.7,830.6 L177.9,830.4 L178.0,829.8 L178.2,829.0 L178.4,827.9 L178.6,826.6 L178.8,825.2 L179.0,823.7 L179.2,822.3 L179.4,820.9 L179.6,819.6 L179.8,818.4 L179.9,817.5 L180.1,816.9 L180.3,816.7 L180.5,816.9 L180.7,817.6 L180.9,818.6 L181.0,819.9 L181.2,821.4 L181.4,823.0 L181.6,824.6 L181.7,826.0 L181.9,827.3 L182.1,828.3 L182.3,829.0 L182.5,829.1 L182.7,828.8 L182.9,828.3 L183.0,827.5 L183.2,826.5 L183.4,825.3 L183.6,824.0 L183.8,822.7 L184.1,821.2 L184.3,819.8 L184.5,818.5 L184.7,817.2 L184.9,816.0 L185.0,815.1 L185.2,814.3 L185.4,813.8 L186.0,814.0 L186.5,816.2 L187.0,818.2 L187.6,818.2 L187.8,817.7 L187.9,817.1 L188.1,816.4 L188.3,815.6 L188.5,814.7 L188.7,813.6 L188.8,812.6 L189.0,811.4 L189.2,810.2 L189.4,809.0 L189.6,807.8 L189.8,806.6 L190.0,805.4 L190.2,804.2 L190.4,803.0 L190.6,802.0 L190.8,800.9 L191.0,800.0 L191.2,798.8 L191.5,797.4 L191.7,796.0 L191.9,794.5 L192.2,793.0 L192.4,791.6 L192.6,790.2 L192.8,788.9 L193.1,787.8 L193.3,786.9 L193.5,786.2 L193.7,785.9 L194.0,785.8 L194.2,786.1 L194.3,786.4 L194.4,786.9 L194.6,787.5 L194.7,788.2 L194.8,789.1 L195.0,790.0 L195.1,791.0 L195.3,792.1 L195.4,793.3 L195.5,794.6 L195.7,795.8 L195.8,797.1 L195.9,798.5 L196.1,799.8 L196.2,801.2 L196.3,802.5 L196.5,803.9 L196.6,805.2 L196.7,806.4 L196.8,807.6 L196.9,808.8 L197.1,809.9 L197.2,810.9 L197.3,811.8 L197.3,812.6 L197.4,813.2 L197.5,813.8 L197.8,815.4 L198.1,812.6 L198.4,811.8 L198.9,810.5 L199.4,809.1 L199.9,807.7 L200.5,805.8 L201.1,805.2 L201.6,805.4 L201.9,806.2 L202.3,806.2 L202.6,807.1 L202.9,808.5 L203.3,810.5 L203.6,811.0 L203.9,813.1 L204.3,814.2 L204.6,814.5 L204.8,815.8 L205.1,816.0 L205.5,815.9 L205.8,815.8 L206.1,813.2 L206.3,811.6 L206.6,811.5 L207.0,809.9 L208.0,808.6 L209.2,808.4 L210.4,808.9 L210.9,810.5 L211.4,810.6 L211.9,811.9 L212.4,813.9 L212.9,815.0 L213.4,816.5 L213.9,816.6 L214.3,815.6 L214.7,814.8 L215.1,814.7 L215.5,813.8 L215.9,811.1 L216.3,810.8 L216.6,809.7 L217.0,808.2 L217.3,806.5 L217.7,806.1 L218.0,804.7 L218.4,802.6 L218.7,802.0 L219.0,800.2 L219.3,799.0 L219.6,798.7 L219.8,798.4 L220.1,798.5 L220.2,799.5 L220.4,800.8 L220.5,802.3 L220.7,803.9 L221.0,805.7 L221.2,806.2 L221.4,806.5 L221.6,807.3 L221.8,809.0 L222.0,810.1 L222.3,811.4 L222.6,811.8 L222.8,813.1 L223.1,815.3 L223.3,816.0 L223.6,817.2 L223.9,817.4 L224.1,818.7 L224.4,820.2 L225.0,821.2 L225.6,822.7 L226.3,822.3 L226.9,823.3 L227.5,824.5 L228.0,824.9 L228.3,826.3 L228.6,826.9 L228.8,827.3 L229.0,828.3 L229.2,830.6 L229.5,830.4 L229.7,831.6 L230.0,832.8 L230.3,834.4 L230.7,836.0 L231.1,836.9 L231.5,838.3 L231.9,839.9 L232.3,840.1 L232.7,840.7 L233.1,840.9 L233.3,840.5 L233.5,839.2 L233.7,838.6 L233.9,837.8 L234.0,837.7 L234.2,836.6 L234.4,835.8 L234.6,834.3 L234.8,832.3 L234.9,831.7 L235.1,830.7 L235.3,828.5 L235.5,826.8 L235.8,826.0 L236.0,824.7 L236.2,823.6 L236.4,822.3 L236.6,821.3 L236.8,821.2 L237.0,818.9 L237.3,818.4 L237.5,816.6 L237.7,815.3 L238.0,815.0 L238.2,813.0 L238.5,811.7 L238.7,810.9 L238.9,810.2 L239.2,809.0 L239.4,808.6 L239.6,807.1 L239.8,806.6 L240.0,806.3 L240.2,805.5 L240.7,805.4 L241.2,805.5 L241.7,806.2 L242.1,807.8 L242.5,810.6 L243.0,812.3 L243.2,813.4 L243.4,813.9 L243.6,814.7 L243.8,815.1 L244.1,817.1 L244.3,817.1 L244.5,818.6 L244.7,819.3 L244.9,820.7 L245.1,821.7 L245.4,823.0 L245.6,824.4 L245.8,825.1 L246.0,825.6 L246.3,827.5 L246.5,828.6 L246.7,829.8 L246.9,829.8 L247.2,831.6 L247.4,833.1 L247.7,833.2 L247.9,834.0 L248.2,835.8 L248.6,836.0 L249.0,836.9 L249.7,838.5 L250.5,838.8 L251.3,839.3 L252.2,840.1 L253.2,841.0 L254.0,842.1 L254.8,842.2 L255.5,843.4 L256.5,843.4 L257.2,844.4 L257.8,845.6 L258.5,846.0 L259.6,846.9 L260.6,848.2 L261.7,847.3 L262.3,846.4 L262.8,845.0 L263.4,844.2 L264.0,842.9 L264.7,843.0 L265.2,842.8 L265.7,843.7 L266.3,845.4 L266.9,847.2 L267.5,847.9 L268.1,849.9 L268.7,850.4 L269.3,850.6 L270.1,850.9 L270.8,849.4 L271.6,848.8 L272.3,847.9 L273.1,846.5 L274.0,845.7 L274.9,845.6 L276.0,846.8 L277.0,847.1 L278.0,848.1 L279.1,848.9 L280.0,849.6 L280.8,848.9 L281.6,848.0 L282.3,847.6 L283.1,845.9 L283.9,845.1 L284.7,844.7 L285.7,843.8 L286.7,842.5 L287.8,842.0 L288.8,842.0 L289.9,840.9 L290.8,841.8 L291.3,841.3 L291.8,843.4 L292.3,844.0 L292.7,844.6 L293.2,846.8 L293.6,847.7 L294.1,847.8 L294.5,849.1 L294.9,850.2 L295.4,851.4 L296.3,850.3 L297.3,849.6 L298.3,849.1 L299.2,847.7 L300.0,847.5 L301.1,846.8 L302.1,846.0 L303.2,845.4 L304.1,845.5 L305.0,847.2 L306.1,847.4 L307.1,847.9 L308.0,848.0 L308.7,847.8 L309.3,847.3 L310.0,846.1 L310.6,844.9 L311.3,843.4 L312.0,842.5 L313.0,842.0 L314.0,842.7 L315.1,841.5 L316.2,842.3 L317.2,843.0 L318.0,842.6 L318.9,843.4 L319.7,844.3 L320.5,845.8 L321.3,846.0 L322.0,846.5 L322.8,844.9 L323.6,845.0 L324.3,843.4 L325.1,842.4 L326.0,842.4 L327.0,842.4 L328.1,843.0 L329.2,843.4 L330.3,844.3 L331.3,844.1 L332.3,844.8 L333.3,845.7 L334.2,845.7 L335.1,845.6 L336.0,846.1 L336.7,846.0 L337.3,845.2 L338.0,843.1 L338.6,842.4 L339.3,841.1 L340.0,840.5 L341.0,840.6 L342.0,839.2 L343.0,838.6 L344.0,838.1 L345.0,837.9 L346.1,838.0 L347.1,837.5 L348.1,837.1 L349.0,836.6 L349.6,836.0 L350.1,836.0 L350.7,834.0 L351.2,833.7 L351.7,831.7 L352.3,831.7 L352.9,830.0 L353.5,829.7 L354.1,828.3 L354.7,826.8 L355.4,826.1 L356.0,826.4 L357.2,825.3 L358.4,825.0 L359.8,824.8 L360.8,825.4 L361.8,825.3 L362.9,824.9 L364.0,826.0 L365.0,825.7 L366.2,826.6 L367.3,826.2 L368.5,826.5 L369.7,825.8 L370.7,826.9 L371.8,827.1 L372.9,827.9 L374.0,828.3 L375.0,828.1 L376.3,828.2 L377.5,828.4 L378.6,827.6 L379.6,827.6 L380.3,827.2 L380.9,825.9 L381.4,824.9 L382.0,824.5 L382.9,824.1 L383.9,822.7 L384.9,822.1 L385.8,822.8 L386.9,822.5 L388.0,824.3 L389.0,824.0 L390.0,823.6 L391.0,823.3 L392.0,823.1 L392.7,822.6 L393.5,823.8 L394.2,824.5 L395.0,825.9 L395.5,826.2 L396.1,828.0 L396.7,828.1 L397.2,829.1 L397.8,830.8 L398.3,831.8 L398.6,831.9 L398.9,833.1 L399.3,834.3 L399.6,834.6 L399.9,835.6 L400.2,837.7 L400.4,837.7 L400.7,839.4 L401.0,840.3 L401.4,841.4 L401.7,842.4 L402.1,844.3 L402.4,845.2 L402.8,845.0 L403.2,846.7 L403.8,846.1 L404.5,844.7 L405.2,843.4 L406.0,842.4 L407.1,842.9 L408.3,842.8 L409.4,842.2 L410.3,842.6 L411.1,843.5 L412.0,844.9 L413.2,845.4 L414.5,845.5 L415.6,845.8 L416.3,845.7 L417.0,843.4 L418.0,842.9 L418.9,842.8 L419.9,842.1 L421.1,841.9 L422.2,841.9 L423.4,842.0 L424.3,843.1 L425.7,842.7 L426.9,842.4 L428.0,842.6 L429.3,841.7 L430.5,841.6 L431.8,842.9 L432.5,843.2 L433.2,844.5 L434.0,844.6 L434.7,845.5 L435.5,846.4 L436.6,846.7 L437.7,845.5 L438.9,845.2 L440.0,844.3 L441.1,844.5 L442.1,844.2 L443.1,843.0 L444.2,841.9 L445.4,842.4 L446.5,842.3 L447.8,841.6 L449.0,842.6 L450.0,842.1 L451.0,841.7 L452.1,841.3 L453.1,840.7 L454.1,840.7 L455.0,839.9 L455.9,838.9 L456.7,838.5 L457.6,837.7 L458.4,837.3 L459.1,836.9 L460.2,836.2 L461.0,837.2 L462.0,836.8 L462.7,836.5 L463.4,836.0 L464.2,835.8 L465.0,833.6 L465.8,833.3 L466.5,832.3 L467.2,832.3 L467.9,832.0 L468.5,830.8 L469.1,829.6 L469.7,829.3 L470.2,827.5 L470.3,826.8 L470.5,826.0 L470.6,825.2 L470.7,824.3 L470.8,823.4 L470.9,822.4 L471.0,821.3 L471.1,820.2 L471.2,819.1 L471.3,818.0 L471.4,816.8 L471.5,815.7 L471.5,814.5 L471.6,813.4 L471.7,812.2 L471.8,811.1 L471.9,810.0 L472.0,808.9 L472.1,807.8 L472.2,806.7 L472.3,805.4 L472.4,804.1 L472.5,802.8 L472.6,801.4 L472.7,800.0 L472.8,798.6 L473.0,797.3 L473.1,796.0 L473.2,794.7 L473.3,793.5 L473.4,792.5 L473.5,791.5 L473.6,790.7 L473.7,790.0 L473.8,789.5 L473.9,789.2 L474.0,789.1 L474.1,789.2 L474.2,789.5 L474.3,789.9 L474.4,790.5 L474.5,791.3 L474.6,792.1 L474.7,793.1 L474.8,794.2 L474.9,795.4 L474.9,796.6 L475.0,797.9 L475.1,799.3 L475.2,800.6 L475.3,802.1 L475.4,803.5 L475.5,804.9 L475.5,806.2 L475.6,807.6 L475.7,808.9 L475.8,809.8 L475.8,810.7 L475.9,811.7 L475.9,812.8 L476.0,813.9 L476.0,815.0 L476.1,816.1 L476.1,817.3 L476.2,818.4 L476.2,819.6 L476.3,820.8 L476.3,822.0 L476.4,823.2 L476.4,824.4 L476.5,825.6 L476.5,826.8 L476.5,827.9 L476.6,829.0 L476.6,830.1 L476.7,831.2 L476.7,832.2 L476.7,833.1 L476.8,834.0 L476.8,834.8 L476.8,835.6 L476.9,836.3 L476.9,836.9 L476.9,837.5" fill="none" stroke="#009900" stroke-width="2.3" stroke-linejoin="round" stroke-linecap="round" />
</g>
<path d="M106,2.6 H653.5 V867.5 H106 Z M106,319.7 H653.5 M106,636.9 H653.5" fill="none" stroke="#111" stroke-width="1.35"/><path d="M140.2,319.7 v-4 M174.4,319.7 v-4 M208.6,319.7 v-4 M242.8,319.7 v-4 M277.0,319.7 v-8 M311.2,319.7 v-4 M345.4,319.7 v-4 M379.6,319.7 v-4 M413.8,319.7 v-4 M448.0,319.7 v-8 M482.2,319.7 v-4 M516.4,319.7 v-4 M550.6,319.7 v-4 M584.8,319.7 v-4 M619.0,319.7 v-8 M140.2,636.9 v-4 M174.4,636.9 v-4 M208.6,636.9 v-4 M242.8,636.9 v-4 M277.0,636.9 v-8 M311.2,636.9 v-4 M345.4,636.9 v-4 M379.6,636.9 v-4 M413.8,636.9 v-4 M448.0,636.9 v-8 M482.2,636.9 v-4 M516.4,636.9 v-4 M550.6,636.9 v-4 M584.8,636.9 v-4 M619.0,636.9 v-8 M140.2,867.5 v-4 M174.4,867.5 v-4 M208.6,867.5 v-4 M242.8,867.5 v-4 M277.0,867.5 v-8 M311.2,867.5 v-4 M345.4,867.5 v-4 M379.6,867.5 v-4 M413.8,867.5 v-4 M448.0,867.5 v-8 M482.2,867.5 v-4 M516.4,867.5 v-4 M550.6,867.5 v-4 M584.8,867.5 v-4 M619.0,867.5 v-8 M106,15.4 h8 M106,68.4 h8 M106,121.4 h8 M106,174.4 h8 M106,227.4 h8 M106,280.4 h8 M106,355.5 h8 M106,416.9 h8 M106,478.3 h8 M106,539.7 h8 M106,601.1 h8 M106,671.0 h8 M106,714.8 h8 M106,758.6 h8 M106,802.4 h8 M106,846.2 h8" stroke="#111" stroke-width="1.35" fill="none"/><path d="M194.9,287.90000000000003 v11.4 M201.9,287.90000000000003 v11.4 M194.9,293.6 H201.9 M222.5,287.90000000000003 v11.4 M239.7,287.90000000000003 v11.4 M222.5,293.6 H239.7 M246.3,287.90000000000003 v11.4 M355.4,287.90000000000003 v11.4 M246.3,293.6 H355.4 M362.4,287.90000000000003 v11.4 M383.5,287.90000000000003 v11.4 M362.4,293.6 H383.5 M393.7,287.90000000000003 v11.4 M475.5,287.90000000000003 v11.4 M393.7,293.6 H475.5 M581.6,287.90000000000003 v11.4 M581.6,293.6 H653.5 M194.9,606.9 v11.4 M201.9,606.9 v11.4 M194.9,612.6 H201.9 M222.5,606.9 v11.4 M239.7,606.9 v11.4 M222.5,612.6 H239.7 M246.3,606.9 v11.4 M355.4,606.9 v11.4 M246.3,612.6 H355.4 M362.4,606.9 v11.4 M383.5,606.9 v11.4 M362.4,612.6 H383.5 M393.7,606.9 v11.4 M475.5,606.9 v11.4 M393.7,612.6 H475.5 M581.6,606.9 v11.4 M581.6,612.6 H653.5 M194.9,643.5999999999999 v11.4 M201.9,643.5999999999999 v11.4 M194.9,649.3 H201.9 M222.5,643.5999999999999 v11.4 M239.7,643.5999999999999 v11.4 M222.5,649.3 H239.7 M246.3,643.5999999999999 v11.4 M355.4,643.5999999999999 v11.4 M246.3,649.3 H355.4 M362.4,643.5999999999999 v11.4 M383.5,643.5999999999999 v11.4 M362.4,649.3 H383.5 M393.7,643.5999999999999 v11.4 M475.5,643.5999999999999 v11.4 M393.7,649.3 H475.5 M581.6,643.5999999999999 v11.4 M581.6,649.3 H653.5" stroke="#222" stroke-width="1.2" fill="none"/>
<path d="M505.8,295.6 V274" stroke="#222" stroke-width="1.3"/><path d="M503.1,276.2 L505.8,267 L508.5,276.2 Z" fill="#000"/><path d="M539.5,181.2 V158.5" stroke="#222" stroke-width="1.3"/><path d="M536.8,160.7 L539.5,151.5 L542.2,160.7 Z" fill="#000"/><path d="M587.6,136.8 V116" stroke="#222" stroke-width="1.3"/><path d="M584.9,118.2 L587.6,109 L590.3000000000001,118.2 Z" fill="#000"/><path d="M547,427.4 V404.7" stroke="#222" stroke-width="1.3"/><path d="M544.3,406.9 L547,397.7 L549.7,406.9 Z" fill="#000"/><path d="M577.7,457 V434.8" stroke="#222" stroke-width="1.3"/><path d="M575.0,437.0 L577.7,427.8 L580.4000000000001,437.0 Z" fill="#000"/><path d="M480.3,597 V575" stroke="#222" stroke-width="1.3"/><path d="M477.6,577.2 L480.3,568 L483.0,577.2 Z" fill="#000"/><path d="M500.2,558.6 V536.6" stroke="#222" stroke-width="1.3"/><path d="M497.5,538.8000000000001 L500.2,529.6 L502.9,538.8000000000001 Z" fill="#000"/>
<path d="M496.3,743.4 H528.6" stroke="#000" stroke-width="3.6"/><path d="M496.3,763.3 H528.6" stroke="#009900" stroke-width="1.6"/>
<text x="101.5" y="23.000000000000007" font-size="21.3" text-anchor="end" >0.4</text><text x="101.5" y="76.0" font-size="21.3" text-anchor="end" >0.2</text><text x="101.5" y="129.0" font-size="21.3" text-anchor="end" >0.0</text><text x="101.5" y="182.0" font-size="21.3" text-anchor="end" >-0.2</text><text x="101.5" y="235.0" font-size="21.3" text-anchor="end" >-0.4</text><text x="101.5" y="288.0" font-size="21.3" text-anchor="end" >-0.6</text><text x="101.5" y="363.1" font-size="21.3" text-anchor="end" >1.0</text><text x="101.5" y="424.50000000000006" font-size="21.3" text-anchor="end" >0.5</text><text x="101.5" y="485.90000000000003" font-size="21.3" text-anchor="end" >0.0</text><text x="101.5" y="547.3000000000001" font-size="21.3" text-anchor="end" >-0.5</text><text x="101.5" y="608.7" font-size="21.3" text-anchor="end" >-1.0</text><text x="101.5" y="678.6" font-size="21.3" text-anchor="end" >0.6</text><text x="101.5" y="722.4" font-size="21.3" text-anchor="end" >0.4</text><text x="101.5" y="766.2" font-size="21.3" text-anchor="end" >0.2</text><text x="101.5" y="810.0" font-size="21.3" text-anchor="end" >0.0</text><text x="101.5" y="853.8" font-size="21.3" text-anchor="end" >-0.2</text><text x="106.0" y="892" font-size="21.3" text-anchor="middle" >0</text><text x="277.0" y="892" font-size="21.3" text-anchor="middle" >50</text><text x="448.0" y="892" font-size="21.3" text-anchor="middle" >100</text><text x="619.0" y="892" font-size="21.3" text-anchor="middle" >150</text><text x="0.3" y="26.5" font-size="32" text-anchor="start" font-weight="bold">a</text><text x="1.0" y="350.8" font-size="32" text-anchor="start" font-weight="bold">b</text><text x="0.3" y="671.5" font-size="32" text-anchor="start" font-weight="bold">c</text><text x="118" y="85.8" font-size="20.5" text-anchor="start" ><tspan font-style="italic">c</tspan><tspan font-size="15" dy="4.3">11</tspan><tspan dy="-4.3" dx="2"> x10</tspan></text><text x="118" y="150.3" font-size="20.5" text-anchor="start" ><tspan font-style="italic">c</tspan><tspan font-size="15.5" dy="3.6">66</tspan></text><text x="513.7" y="298.6" font-size="21" text-anchor="start" ><tspan font-style="italic">H</tspan><tspan font-size="15.5" dy="5">c7</tspan></text><text x="531.1" y="202.6" font-size="21" text-anchor="start" ><tspan font-style="italic">H</tspan><tspan font-size="15.5" dy="5">c8</tspan></text><text x="574.0" y="156.6" font-size="21" text-anchor="start" ><tspan font-style="italic">H</tspan><tspan font-size="15.5" dy="5">c9</tspan></text><text x="530.7" y="445.3" font-size="21" text-anchor="start" ><tspan font-style="italic">H</tspan><tspan font-size="15.5" dy="5">c8</tspan></text><text x="565.8000000000001" y="476" font-size="21" text-anchor="start" ><tspan font-style="italic">H</tspan><tspan font-size="15.5" dy="5">c9</tspan></text><text x="487.2" y="604.9" font-size="21" text-anchor="start" ><tspan font-style="italic">H</tspan><tspan font-size="15.5" dy="5">c6</tspan></text><text x="508.2" y="564.6" font-size="21" text-anchor="start" ><tspan font-style="italic">H</tspan><tspan font-size="15.5" dy="5">c7</tspan></text><text x="134.3" y="665" font-size="19" text-anchor="start" ><tspan font-style="italic">M</tspan><tspan font-style="italic">/</tspan><tspan font-style="italic">M</tspan><tspan font-size="14" dy="3">s</tspan></text><text x="200" y="675.5" font-size="17.5" text-anchor="middle" letter-spacing="1.8">1/8</text><text x="231.8" y="675.5" font-size="17.5" text-anchor="middle" letter-spacing="1.8">1/4</text><text x="300.7" y="675.5" font-size="17.5" text-anchor="middle" letter-spacing="1.8">1/3</text><text x="373.1" y="675.5" font-size="17.5" text-anchor="middle" letter-spacing="1.8">2/5</text><text x="435" y="675.5" font-size="17.5" text-anchor="middle" letter-spacing="1.8">1/2</text><text x="624.1" y="675.5" font-size="17.5" text-anchor="middle" letter-spacing="1.8">1/1</text><text x="493.3" y="728.9" font-size="17.4" text-anchor="start" >Y. H. Matsuda <tspan font-style="italic">et al.</tspan></text><text x="537.3" y="748.1" font-size="17.4" text-anchor="start" ><tspan font-style="italic">M</tspan></text><text x="537.3" y="767.8" font-size="17.4" text-anchor="start" ><tspan font-style="italic">dM</tspan><tspan font-style="italic">/</tspan><tspan font-style="italic">dH</tspan></text><text x="342.5" y="918.5" font-size="23" text-anchor="start" >μ<tspan font-size="16" dy="4.5">0</tspan><tspan dy="-4.5" font-style="italic">H</tspan> (T)</text><text transform="translate(52,188.5) rotate(-90)" font-size="23">Δ<tspan font-style="italic">v</tspan>/<tspan font-style="italic">v</tspan><tspan font-size="16" dx="0.5" dy="5.5">0</tspan></text><text transform="translate(52,550.9) rotate(-90)" font-size="23">Δ<tspan font-style="italic">L</tspan><tspan font-style="italic" font-size="16" dy="4.5">c</tspan><tspan dy="-4.5">  (arb. units)</tspan></text><text transform="translate(58.5,812.5) rotate(-90)" font-size="23"><tspan font-style="italic">M</tspan> (μ<tspan font-size="16" dy="5">B</tspan><tspan dy="-5">/Cu</tspan><tspan font-size="15.5" dy="-13">2+</tspan><tspan dy="13">)</tspan></text><text transform="translate(680.5,858) rotate(-90)" font-size="23" fill="#009900"><tspan font-style="italic">dM</tspan>/<tspan font-style="italic">dH</tspan> (arb. unit)</text>
</svg>
</body></html>
